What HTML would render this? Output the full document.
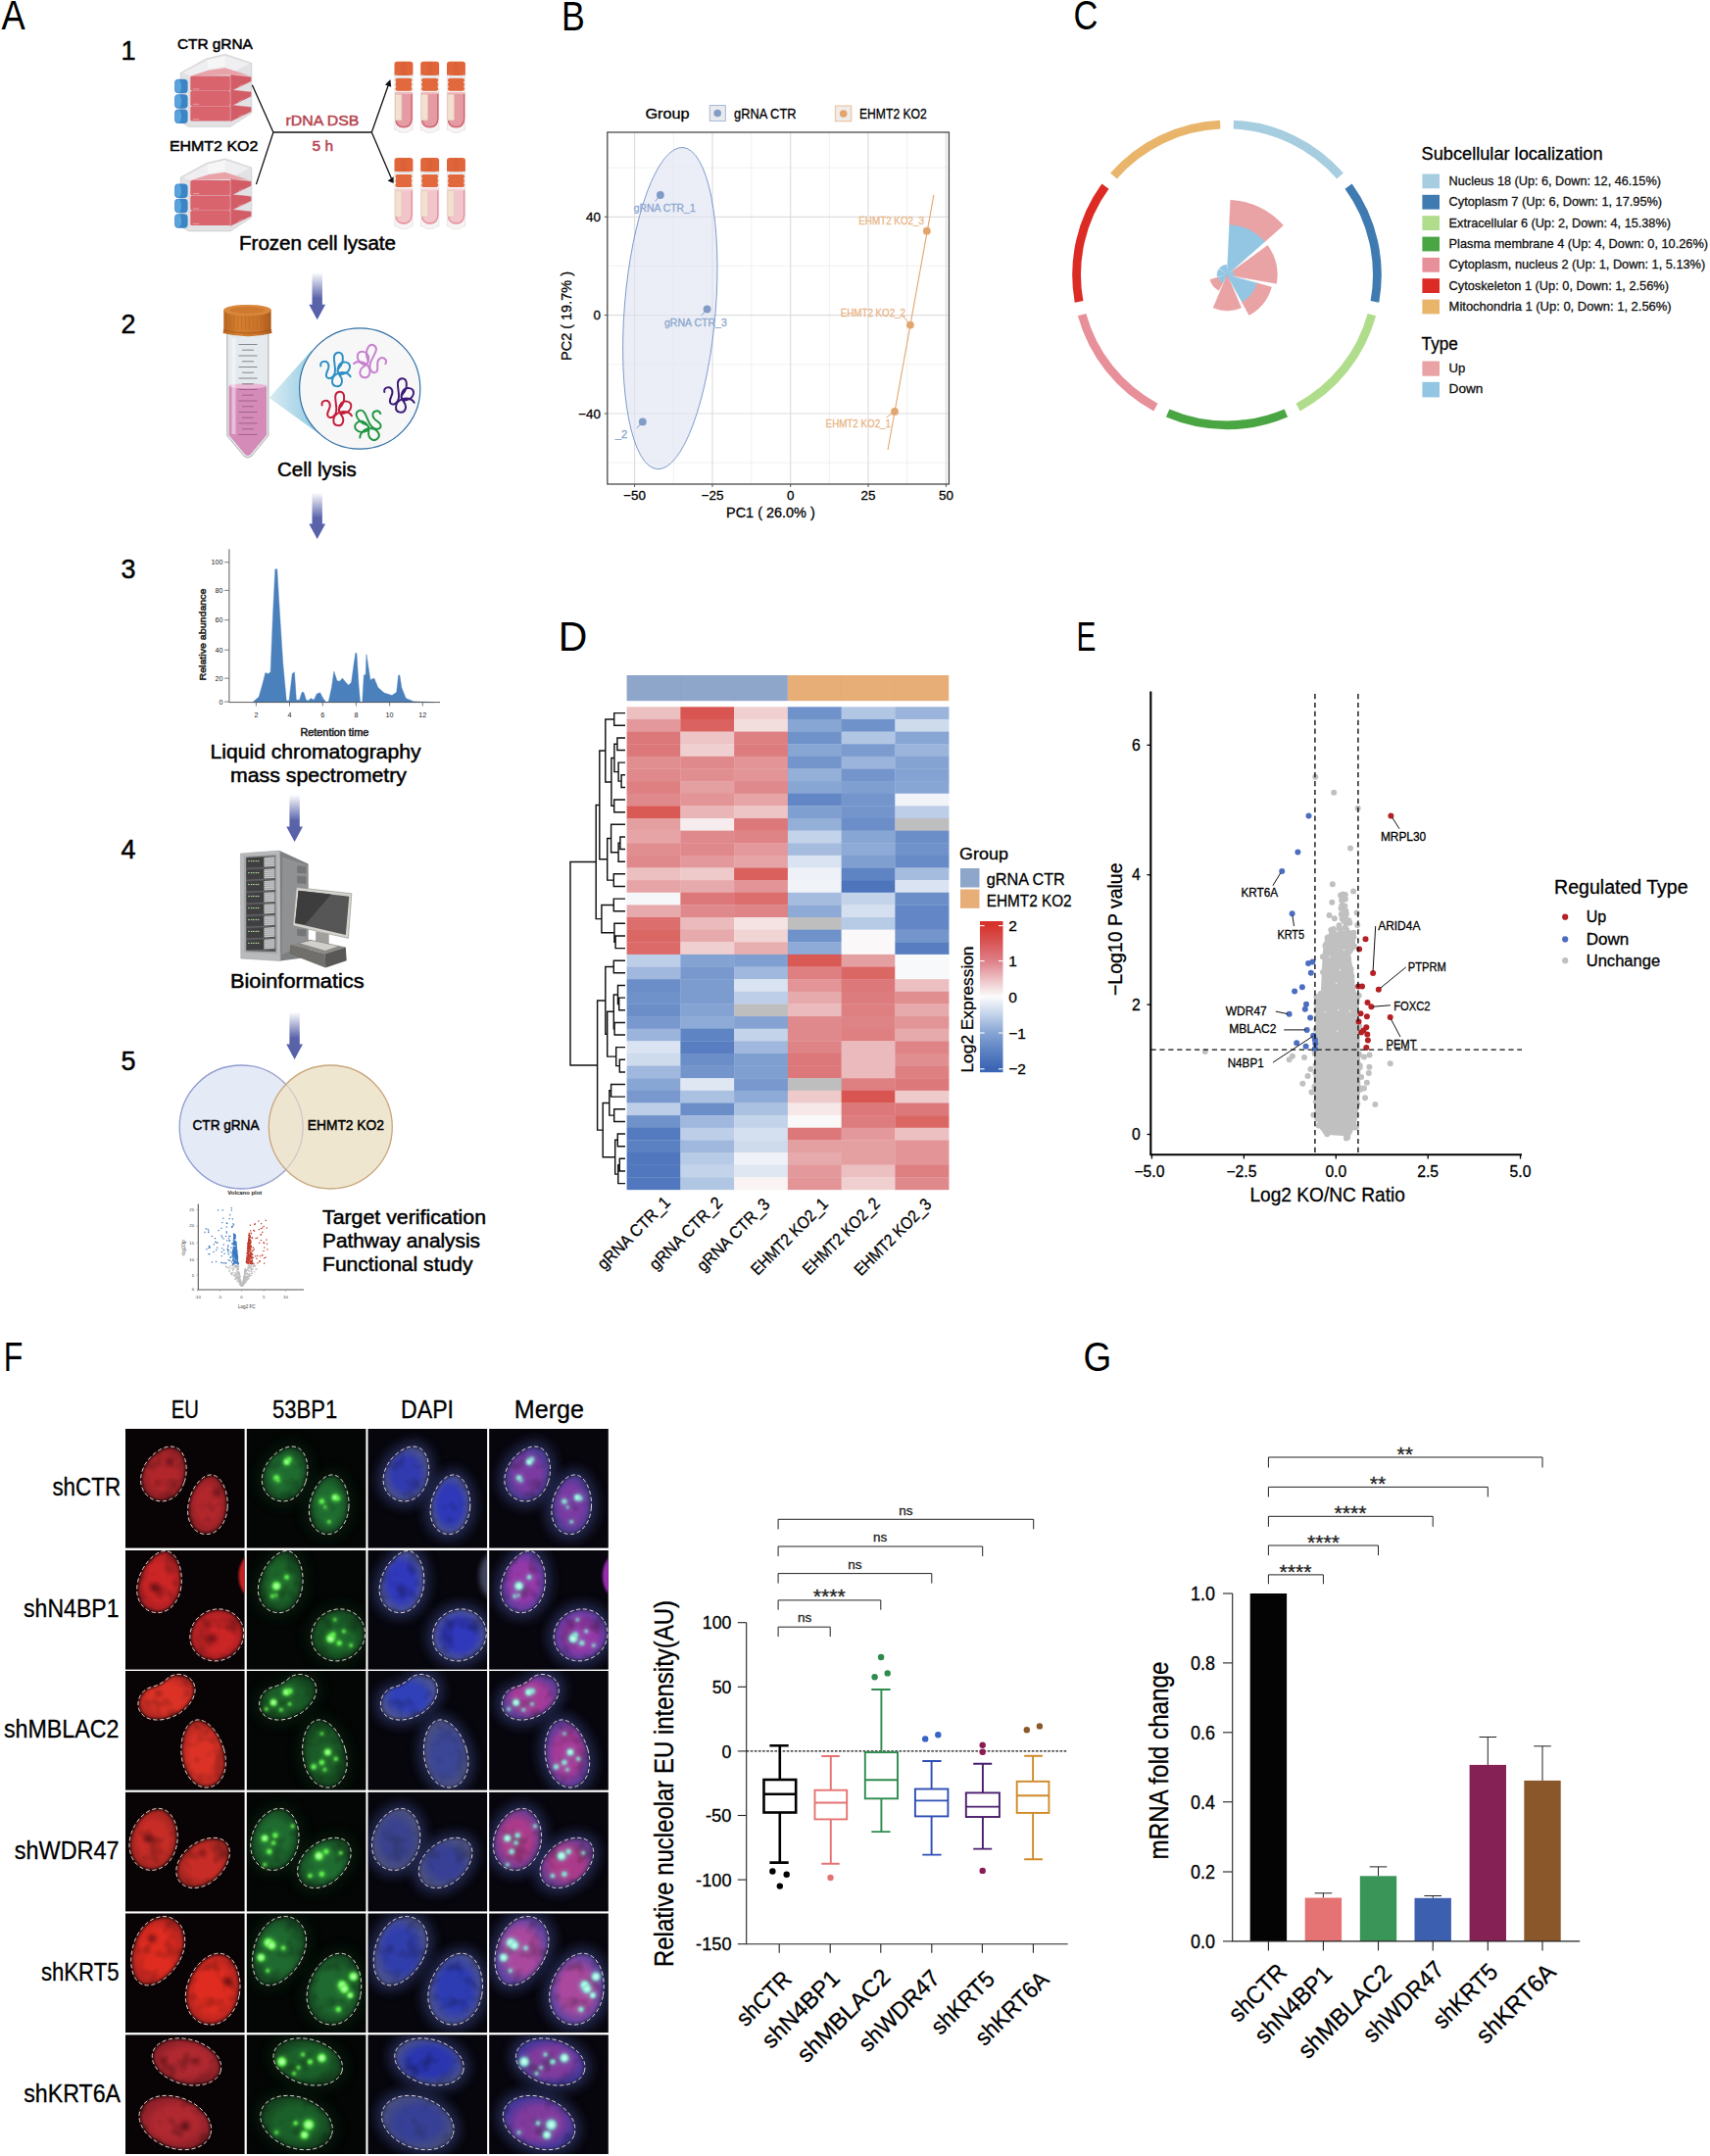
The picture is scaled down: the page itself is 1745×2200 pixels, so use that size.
<!DOCTYPE html>
<html><head><meta charset="utf-8"><title>Figure</title>
<style>
html,body{margin:0;padding:0;background:#fff;}
body{width:1745px;height:2200px;overflow:hidden;}
svg{display:block;font-family:"Liberation Sans", "DejaVu Sans", sans-serif;}
svg text{font-family:"Liberation Sans","DejaVu Sans",sans-serif;}
</style></head><body>
<svg width="1745" height="2200" viewBox="0 0 1745 2200">
<rect width="1745" height="2200" fill="#ffffff"/>
<g id="labels"><text x="1.5" y="30.4" font-size="42" textLength="24.2" lengthAdjust="spacingAndGlyphs" >A</text>
<text x="573.0" y="30.5" font-size="42" textLength="23.8" lengthAdjust="spacingAndGlyphs" >B</text>
<text x="1095.6" y="30.4" font-size="42" textLength="24.9" lengthAdjust="spacingAndGlyphs" >C</text>
<text x="569.7" y="663.6" font-size="42" textLength="29.6" lengthAdjust="spacingAndGlyphs" >D</text>
<text x="1098.4" y="663.6" font-size="42" textLength="19.9" lengthAdjust="spacingAndGlyphs" >E</text>
<text x="3.7" y="1399.1" font-size="42" textLength="19.6" lengthAdjust="spacingAndGlyphs" >F</text>
<text x="1105.5" y="1399.3" font-size="42" textLength="28.7" lengthAdjust="spacingAndGlyphs" >G</text></g>
<g id="panelA"><text x="123.6" y="61.2" font-size="27" textLength="15.0" lengthAdjust="spacingAndGlyphs" stroke="#000" stroke-width="0.5" >1</text>
<text x="123.6" y="339.5" font-size="27" textLength="15.0" lengthAdjust="spacingAndGlyphs" stroke="#000" stroke-width="0.5" >2</text>
<text x="123.6" y="589.5" font-size="27" textLength="15.0" lengthAdjust="spacingAndGlyphs" stroke="#000" stroke-width="0.5" >3</text>
<text x="123.6" y="876.0" font-size="27" textLength="15.0" lengthAdjust="spacingAndGlyphs" stroke="#000" stroke-width="0.5" >4</text>
<text x="123.6" y="1091.5" font-size="27" textLength="15.0" lengthAdjust="spacingAndGlyphs" stroke="#000" stroke-width="0.5" >5</text>
<text x="180.9" y="49.9" font-size="15.5" textLength="77.0" lengthAdjust="spacingAndGlyphs" stroke="#000" stroke-width="0.5" >CTR gRNA</text>
<text x="172.9" y="154.3" font-size="15.5" textLength="90.5" lengthAdjust="spacingAndGlyphs" stroke="#000" stroke-width="0.5" >EHMT2 KO2</text>
<polygon points="184.3,74.4 210.6,59.9 229.7,55.4 256.8,64.4 256.8,115.2 235.1,129.3 192.5,129.3 184.3,124.3" fill="#e2e2e5" stroke="#c0c0c5" stroke-width="0.6" stroke-linejoin="round"/><polygon points="186.5,74.6 211.2,61.4 229.7,57.0 255.0,65.0 235.1,74.8 194.8,77.5" fill="#efeff1" stroke="none" stroke-width="1" /><polygon points="211.5,61.2 229.7,57.0 229.7,67.2 211.9,69.9" fill="#f6f6f7" stroke="none" stroke-width="1" /><polygon points="194.8,77.5 212.4,71.7 229.7,69.2 253.6,76.8 235.1,76.2" fill="#e8a2a8" stroke="none" stroke-width="1" /><rect x="194.3" y="77.5" width="40.8" height="15.2" rx="1.6" fill="#d9646e"/><polygon points="235.1,76.4 256.1,78.6 256.1,82.9 235.1,93.1" fill="#d35d67" stroke="#d35d67" stroke-width="0.5" stroke-linejoin="round"/><line x1="235.1" y1="75.3" x2="235.1" y2="93.5" stroke="#e9b9bd" stroke-width="0.6" /><line x1="197.0" y1="90.9" x2="203.4" y2="90.9" stroke="#efb4b8" stroke-width="0.7" /><line x1="243.2" y1="88.4" x2="247.8" y2="86.2" stroke="#e8a5aa" stroke-width="0.6" /><polygon points="192.5,93.1 235.1,93.5 256.5,83.3 256.5,84.4 235.1,94.9 192.5,94.5" fill="#dedee2" stroke="none" stroke-width="1" /><rect x="194.3" y="92.9" width="40.8" height="15.2" rx="1.6" fill="#d9646e"/><polygon points="235.1,91.8 256.1,94.0 256.1,98.3 235.1,108.5" fill="#d35d67" stroke="#d35d67" stroke-width="0.5" stroke-linejoin="round"/><line x1="235.1" y1="90.7" x2="235.1" y2="108.9" stroke="#e9b9bd" stroke-width="0.6" /><line x1="197.0" y1="106.3" x2="203.4" y2="106.3" stroke="#efb4b8" stroke-width="0.7" /><line x1="243.2" y1="103.8" x2="247.8" y2="101.6" stroke="#e8a5aa" stroke-width="0.6" /><polygon points="192.5,108.5 235.1,108.9 256.5,98.7 256.5,99.8 235.1,110.3 192.5,109.9" fill="#dedee2" stroke="none" stroke-width="1" /><rect x="194.3" y="108.3" width="40.8" height="15.2" rx="1.6" fill="#d9646e"/><polygon points="235.1,107.2 256.1,109.4 256.1,113.8 235.1,123.9" fill="#d35d67" stroke="#d35d67" stroke-width="0.5" stroke-linejoin="round"/><line x1="235.1" y1="106.1" x2="235.1" y2="124.3" stroke="#e9b9bd" stroke-width="0.6" /><line x1="197.0" y1="121.7" x2="203.4" y2="121.7" stroke="#efb4b8" stroke-width="0.7" /><line x1="243.2" y1="119.2" x2="247.8" y2="117.0" stroke="#e8a5aa" stroke-width="0.6" /><rect x="178.2" y="80.8" width="13.4" height="14.5" rx="4" fill="#3b84c6"/><ellipse cx="181.8" cy="88.0" rx="3.3" ry="6.9" fill="#5ba3dd"/><rect x="178.2" y="96.2" width="13.4" height="14.5" rx="4" fill="#3b84c6"/><ellipse cx="181.8" cy="103.4" rx="3.3" ry="6.9" fill="#5ba3dd"/><rect x="178.2" y="111.6" width="13.4" height="14.5" rx="4" fill="#3b84c6"/><ellipse cx="181.8" cy="118.8" rx="3.3" ry="6.9" fill="#5ba3dd"/>
<polygon points="184.3,181.0 210.6,166.5 229.7,162.0 256.8,171.0 256.8,221.8 235.1,235.9 192.5,235.9 184.3,230.9" fill="#e2e2e5" stroke="#c0c0c5" stroke-width="0.6" stroke-linejoin="round"/><polygon points="186.5,181.2 211.2,168.0 229.7,163.6 255.0,171.6 235.1,181.4 194.8,184.1" fill="#efeff1" stroke="none" stroke-width="1" /><polygon points="211.5,167.8 229.7,163.6 229.7,173.8 211.9,176.5" fill="#f6f6f7" stroke="none" stroke-width="1" /><polygon points="194.8,184.1 212.4,178.3 229.7,175.8 253.6,183.4 235.1,182.8" fill="#e8a2a8" stroke="none" stroke-width="1" /><rect x="194.3" y="184.1" width="40.8" height="15.2" rx="1.6" fill="#d9646e"/><polygon points="235.1,183.0 256.1,185.2 256.1,189.5 235.1,199.7" fill="#d35d67" stroke="#d35d67" stroke-width="0.5" stroke-linejoin="round"/><line x1="235.1" y1="181.9" x2="235.1" y2="200.1" stroke="#e9b9bd" stroke-width="0.6" /><line x1="197.0" y1="197.5" x2="203.4" y2="197.5" stroke="#efb4b8" stroke-width="0.7" /><line x1="243.2" y1="195.0" x2="247.8" y2="192.8" stroke="#e8a5aa" stroke-width="0.6" /><polygon points="192.5,199.7 235.1,200.1 256.5,189.9 256.5,191.0 235.1,201.5 192.5,201.1" fill="#dedee2" stroke="none" stroke-width="1" /><rect x="194.3" y="199.5" width="40.8" height="15.2" rx="1.6" fill="#d9646e"/><polygon points="235.1,198.4 256.1,200.6 256.1,204.9 235.1,215.1" fill="#d35d67" stroke="#d35d67" stroke-width="0.5" stroke-linejoin="round"/><line x1="235.1" y1="197.3" x2="235.1" y2="215.5" stroke="#e9b9bd" stroke-width="0.6" /><line x1="197.0" y1="212.9" x2="203.4" y2="212.9" stroke="#efb4b8" stroke-width="0.7" /><line x1="243.2" y1="210.4" x2="247.8" y2="208.2" stroke="#e8a5aa" stroke-width="0.6" /><polygon points="192.5,215.1 235.1,215.5 256.5,205.3 256.5,206.4 235.1,216.9 192.5,216.5" fill="#dedee2" stroke="none" stroke-width="1" /><rect x="194.3" y="214.9" width="40.8" height="15.2" rx="1.6" fill="#d9646e"/><polygon points="235.1,213.8 256.1,216.0 256.1,220.4 235.1,230.5" fill="#d35d67" stroke="#d35d67" stroke-width="0.5" stroke-linejoin="round"/><line x1="235.1" y1="212.7" x2="235.1" y2="230.9" stroke="#e9b9bd" stroke-width="0.6" /><line x1="197.0" y1="228.3" x2="203.4" y2="228.3" stroke="#efb4b8" stroke-width="0.7" /><line x1="243.2" y1="225.8" x2="247.8" y2="223.6" stroke="#e8a5aa" stroke-width="0.6" /><rect x="178.2" y="187.4" width="13.4" height="14.5" rx="4" fill="#3b84c6"/><ellipse cx="181.8" cy="194.6" rx="3.3" ry="6.9" fill="#5ba3dd"/><rect x="178.2" y="202.8" width="13.4" height="14.5" rx="4" fill="#3b84c6"/><ellipse cx="181.8" cy="210.0" rx="3.3" ry="6.9" fill="#5ba3dd"/><rect x="178.2" y="218.2" width="13.4" height="14.5" rx="4" fill="#3b84c6"/><ellipse cx="181.8" cy="225.4" rx="3.3" ry="6.9" fill="#5ba3dd"/>
<path d="M257.4 86.7 L278.9 135 L261.4 188.1 M278.9 135 H379.3" fill="none" stroke="#111" stroke-width="1.3" stroke-linejoin="miter"/>
<path d="M379.3 135 L396.6 86 M379.3 135 L399.4 181.9" fill="none" stroke="#111" stroke-width="1.3" />
<polygon points="398.4,81.0 399.2,88.8 393.0,86.6" fill="#111" stroke="none" stroke-width="1" />
<polygon points="401.6,186.9 395.6,184.6 401.6,180.2" fill="#111" stroke="none" stroke-width="1" />
<text x="291.6" y="128.4" font-size="15.5" fill="#b5444f" textLength="74.8" lengthAdjust="spacingAndGlyphs" stroke="#b5444f" stroke-width="0.5" >rDNA DSB</text>
<text x="318.5" y="154.3" font-size="15.5" fill="#b5444f" textLength="21.5" lengthAdjust="spacingAndGlyphs" stroke="#b5444f" stroke-width="0.5" >5 h</text>
<path d="M402.8 75.7 V132.7 H405.5 Q406.0 135.3 411.9 135.3 Q417.9 135.3 418.4 132.7 H421.1 V75.7 Z" fill="#f7f4f4" stroke="#d9d3d5" stroke-width="0.5"/><line x1="403.0" y1="78.0" x2="420.9" y2="78.0" stroke="#bfdbe6" stroke-width="0.7" /><path d="M403.1 94.5 V120.7 Q403.1 130.5 411.9 130.5 Q420.8 130.5 420.8 120.7 V94.5 Z" fill="#e59ba3"/><path d="M420.1 95.7 V120.7 Q420.1 129.3 411.9 129.7 Q404.5 129.3 404.1 122.7" fill="none" stroke="#cf6270" stroke-width="1.3"/><rect x="403.3" y="94.5" width="17.3" height="1.6" fill="#eeb4ba" /><rect x="403.3" y="96.2" width="6.6" height="26.6" fill="#f3e0d0" stroke="#dcc2a8" stroke-width="0.4" rx="0.6"/><rect x="404.1" y="79.7" width="15.7" height="13.0" fill="#e0683c" rx="1.5"/><rect x="403.4" y="80.0" width="17.1" height="3.3" fill="#e2693d" rx="1.6"/><rect x="403.4" y="84.5" width="17.1" height="3.3" fill="#e2693d" rx="1.6"/><rect x="403.4" y="89.0" width="17.1" height="3.3" fill="#e2693d" rx="1.6"/><path d="M402.5 76.4 V65.2 Q402.5 62.7 405.5 62.7 H418.4 Q421.4 62.7 421.4 65.2 V76.4 Q411.9 77.5 402.5 76.4 Z" fill="#e0653a"/><rect x="409.5" y="63.7" width="5.0" height="12.5" fill="#d85e34" opacity="0.5"/>
<path d="M402.8 174.0 V231.0 H405.5 Q406.0 233.6 411.9 233.6 Q417.9 233.6 418.4 231.0 H421.1 V174.0 Z" fill="#f7f4f4" stroke="#d9d3d5" stroke-width="0.5"/><line x1="403.0" y1="176.3" x2="420.9" y2="176.3" stroke="#bfdbe6" stroke-width="0.7" /><path d="M403.1 192.8 V219.0 Q403.1 228.8 411.9 228.8 Q420.8 228.8 420.8 219.0 V192.8 Z" fill="#f1c5cb"/><path d="M420.1 194.0 V219.0 Q420.1 227.6 411.9 228.0 Q404.5 227.6 404.1 221.0" fill="none" stroke="#e68f9b" stroke-width="1.3"/><rect x="403.3" y="192.8" width="17.3" height="1.6" fill="#f6d6da" /><rect x="403.3" y="194.5" width="6.6" height="26.6" fill="#f3e0d0" stroke="#dcc2a8" stroke-width="0.4" rx="0.6"/><rect x="404.1" y="178.0" width="15.7" height="13.0" fill="#e0683c" rx="1.5"/><rect x="403.4" y="178.3" width="17.1" height="3.3" fill="#e2693d" rx="1.6"/><rect x="403.4" y="182.8" width="17.1" height="3.3" fill="#e2693d" rx="1.6"/><rect x="403.4" y="187.3" width="17.1" height="3.3" fill="#e2693d" rx="1.6"/><path d="M402.5 174.7 V163.5 Q402.5 161.0 405.5 161.0 H418.4 Q421.4 161.0 421.4 163.5 V174.7 Q411.9 175.8 402.5 174.7 Z" fill="#e0653a"/><rect x="409.5" y="162.0" width="5.0" height="12.5" fill="#d85e34" opacity="0.5"/>
<path d="M429.5 75.7 V132.7 H432.2 Q432.7 135.3 438.6 135.3 Q444.6 135.3 445.1 132.7 H447.8 V75.7 Z" fill="#f7f4f4" stroke="#d9d3d5" stroke-width="0.5"/><line x1="429.7" y1="78.0" x2="447.6" y2="78.0" stroke="#bfdbe6" stroke-width="0.7" /><path d="M429.8 94.5 V120.7 Q429.8 130.5 438.6 130.5 Q447.5 130.5 447.5 120.7 V94.5 Z" fill="#e59ba3"/><path d="M446.8 95.7 V120.7 Q446.8 129.3 438.6 129.7 Q431.2 129.3 430.8 122.7" fill="none" stroke="#cf6270" stroke-width="1.3"/><rect x="430.0" y="94.5" width="17.3" height="1.6" fill="#eeb4ba" /><rect x="430.0" y="96.2" width="6.6" height="26.6" fill="#f3e0d0" stroke="#dcc2a8" stroke-width="0.4" rx="0.6"/><rect x="430.8" y="79.7" width="15.7" height="13.0" fill="#e0683c" rx="1.5"/><rect x="430.1" y="80.0" width="17.1" height="3.3" fill="#e2693d" rx="1.6"/><rect x="430.1" y="84.5" width="17.1" height="3.3" fill="#e2693d" rx="1.6"/><rect x="430.1" y="89.0" width="17.1" height="3.3" fill="#e2693d" rx="1.6"/><path d="M429.2 76.4 V65.2 Q429.2 62.7 432.2 62.7 H445.1 Q448.1 62.7 448.1 65.2 V76.4 Q438.6 77.5 429.2 76.4 Z" fill="#e0653a"/><rect x="436.2" y="63.7" width="5.0" height="12.5" fill="#d85e34" opacity="0.5"/>
<path d="M429.5 174.0 V231.0 H432.2 Q432.7 233.6 438.6 233.6 Q444.6 233.6 445.1 231.0 H447.8 V174.0 Z" fill="#f7f4f4" stroke="#d9d3d5" stroke-width="0.5"/><line x1="429.7" y1="176.3" x2="447.6" y2="176.3" stroke="#bfdbe6" stroke-width="0.7" /><path d="M429.8 192.8 V219.0 Q429.8 228.8 438.6 228.8 Q447.5 228.8 447.5 219.0 V192.8 Z" fill="#f1c5cb"/><path d="M446.8 194.0 V219.0 Q446.8 227.6 438.6 228.0 Q431.2 227.6 430.8 221.0" fill="none" stroke="#e68f9b" stroke-width="1.3"/><rect x="430.0" y="192.8" width="17.3" height="1.6" fill="#f6d6da" /><rect x="430.0" y="194.5" width="6.6" height="26.6" fill="#f3e0d0" stroke="#dcc2a8" stroke-width="0.4" rx="0.6"/><rect x="430.8" y="178.0" width="15.7" height="13.0" fill="#e0683c" rx="1.5"/><rect x="430.1" y="178.3" width="17.1" height="3.3" fill="#e2693d" rx="1.6"/><rect x="430.1" y="182.8" width="17.1" height="3.3" fill="#e2693d" rx="1.6"/><rect x="430.1" y="187.3" width="17.1" height="3.3" fill="#e2693d" rx="1.6"/><path d="M429.2 174.7 V163.5 Q429.2 161.0 432.2 161.0 H445.1 Q448.1 161.0 448.1 163.5 V174.7 Q438.6 175.8 429.2 174.7 Z" fill="#e0653a"/><rect x="436.2" y="162.0" width="5.0" height="12.5" fill="#d85e34" opacity="0.5"/>
<path d="M456.3 75.7 V132.7 H459.0 Q459.5 135.3 465.4 135.3 Q471.4 135.3 471.9 132.7 H474.6 V75.7 Z" fill="#f7f4f4" stroke="#d9d3d5" stroke-width="0.5"/><line x1="456.5" y1="78.0" x2="474.4" y2="78.0" stroke="#bfdbe6" stroke-width="0.7" /><path d="M456.6 94.5 V120.7 Q456.6 130.5 465.4 130.5 Q474.3 130.5 474.3 120.7 V94.5 Z" fill="#e59ba3"/><path d="M473.6 95.7 V120.7 Q473.6 129.3 465.4 129.7 Q458.0 129.3 457.6 122.7" fill="none" stroke="#cf6270" stroke-width="1.3"/><rect x="456.8" y="94.5" width="17.3" height="1.6" fill="#eeb4ba" /><rect x="456.8" y="96.2" width="6.6" height="26.6" fill="#f3e0d0" stroke="#dcc2a8" stroke-width="0.4" rx="0.6"/><rect x="457.6" y="79.7" width="15.7" height="13.0" fill="#e0683c" rx="1.5"/><rect x="456.9" y="80.0" width="17.1" height="3.3" fill="#e2693d" rx="1.6"/><rect x="456.9" y="84.5" width="17.1" height="3.3" fill="#e2693d" rx="1.6"/><rect x="456.9" y="89.0" width="17.1" height="3.3" fill="#e2693d" rx="1.6"/><path d="M456.0 76.4 V65.2 Q456.0 62.7 459.0 62.7 H471.9 Q474.9 62.7 474.9 65.2 V76.4 Q465.4 77.5 456.0 76.4 Z" fill="#e0653a"/><rect x="463.0" y="63.7" width="5.0" height="12.5" fill="#d85e34" opacity="0.5"/>
<path d="M456.3 174.0 V231.0 H459.0 Q459.5 233.6 465.4 233.6 Q471.4 233.6 471.9 231.0 H474.6 V174.0 Z" fill="#f7f4f4" stroke="#d9d3d5" stroke-width="0.5"/><line x1="456.5" y1="176.3" x2="474.4" y2="176.3" stroke="#bfdbe6" stroke-width="0.7" /><path d="M456.6 192.8 V219.0 Q456.6 228.8 465.4 228.8 Q474.3 228.8 474.3 219.0 V192.8 Z" fill="#f1c5cb"/><path d="M473.6 194.0 V219.0 Q473.6 227.6 465.4 228.0 Q458.0 227.6 457.6 221.0" fill="none" stroke="#e68f9b" stroke-width="1.3"/><rect x="456.8" y="192.8" width="17.3" height="1.6" fill="#f6d6da" /><rect x="456.8" y="194.5" width="6.6" height="26.6" fill="#f3e0d0" stroke="#dcc2a8" stroke-width="0.4" rx="0.6"/><rect x="457.6" y="178.0" width="15.7" height="13.0" fill="#e0683c" rx="1.5"/><rect x="456.9" y="178.3" width="17.1" height="3.3" fill="#e2693d" rx="1.6"/><rect x="456.9" y="182.8" width="17.1" height="3.3" fill="#e2693d" rx="1.6"/><rect x="456.9" y="187.3" width="17.1" height="3.3" fill="#e2693d" rx="1.6"/><path d="M456.0 174.7 V163.5 Q456.0 161.0 459.0 161.0 H471.9 Q474.9 161.0 474.9 163.5 V174.7 Q465.4 175.8 456.0 174.7 Z" fill="#e0653a"/><rect x="463.0" y="162.0" width="5.0" height="12.5" fill="#d85e34" opacity="0.5"/>
<text x="244.0" y="254.7" font-size="20" textLength="160.0" lengthAdjust="spacingAndGlyphs" stroke="#000" stroke-width="0.5" >Frozen cell lysate</text>
<defs><linearGradient id="ag323278" x1="0" y1="0" x2="0" y2="1"><stop offset="0" stop-color="#ffffff"/><stop offset="0.55" stop-color="#5a64aa"/><stop offset="1" stop-color="#5560a8"/></linearGradient></defs><path d="M318.5 278.0 H328.9 V310.8 H332.1 L323.7 326.3 L315.3 310.8 H318.5 Z" fill="url(#ag323278)"/>
<defs><linearGradient id="capg" x1="0" y1="0" x2="1" y2="0"><stop offset="0" stop-color="#b8631f"/><stop offset="0.3" stop-color="#d4802f"/><stop offset="0.75" stop-color="#c9722a"/><stop offset="1" stop-color="#a8581a"/></linearGradient><linearGradient id="coneg" x1="0" y1="0" x2="1" y2="0"><stop offset="0" stop-color="#d8ecf4"/><stop offset="1" stop-color="#8fc8e0"/></linearGradient></defs>
<path d="M231.8 340 V444.6 L249 465.5 Q252.8 468.5 256.6 465.5 L273.9 444.6 V340 Z" fill="#e4eaed" stroke="#9b9b9b" stroke-width="0.8" />
<path d="M233.6 394 V444 L250 463.8 Q252.8 466 255.6 463.8 L272.1 444 V394 Z" fill="#d58bb8" stroke="none" stroke-width="1" />
<ellipse cx="252.8" cy="393.8" rx="19.2" ry="2.6" fill="#e9b8d4"/>
<rect x="236.5" y="345.0" width="4.0" height="98.0" fill="#ffffff" opacity="0.45"/>
<line x1="243.5" y1="351.5" x2="262.5" y2="351.5" stroke="#5d5d66" stroke-width="0.7" />
<line x1="247.0" y1="357.2" x2="259.0" y2="357.2" stroke="#5d5d66" stroke-width="0.7" />
<line x1="243.5" y1="363.0" x2="262.5" y2="363.0" stroke="#5d5d66" stroke-width="0.7" />
<line x1="247.0" y1="368.8" x2="259.0" y2="368.8" stroke="#5d5d66" stroke-width="0.7" />
<line x1="243.5" y1="374.5" x2="262.5" y2="374.5" stroke="#5d5d66" stroke-width="0.7" />
<line x1="247.0" y1="380.2" x2="259.0" y2="380.2" stroke="#5d5d66" stroke-width="0.7" />
<line x1="243.5" y1="386.0" x2="262.5" y2="386.0" stroke="#5d5d66" stroke-width="0.7" />
<line x1="247.0" y1="391.8" x2="259.0" y2="391.8" stroke="#5d5d66" stroke-width="0.7" />
<line x1="243.5" y1="397.5" x2="262.5" y2="397.5" stroke="#8a4f78" stroke-width="0.7" />
<line x1="247.0" y1="403.2" x2="259.0" y2="403.2" stroke="#8a4f78" stroke-width="0.7" />
<line x1="243.5" y1="409.0" x2="262.5" y2="409.0" stroke="#8a4f78" stroke-width="0.7" />
<line x1="247.0" y1="414.8" x2="259.0" y2="414.8" stroke="#8a4f78" stroke-width="0.7" />
<line x1="243.5" y1="420.5" x2="262.5" y2="420.5" stroke="#8a4f78" stroke-width="0.7" />
<line x1="247.0" y1="426.2" x2="259.0" y2="426.2" stroke="#8a4f78" stroke-width="0.7" />
<line x1="243.5" y1="432.0" x2="262.5" y2="432.0" stroke="#8a4f78" stroke-width="0.7" />
<line x1="247.0" y1="437.8" x2="259.0" y2="437.8" stroke="#8a4f78" stroke-width="0.7" />
<line x1="243.5" y1="443.5" x2="262.5" y2="443.5" stroke="#8a4f78" stroke-width="0.7" />
<path d="M228.3 316 Q252.5 307 276.6 316 V337 Q277.6 338 277.3 340 Q252.5 346.5 227.7 340 Q227.4 338 228.3 337 Z" fill="url(#capg)" stroke="none" stroke-width="1" />
<ellipse cx="252.5" cy="316.5" rx="24.1" ry="5.6" fill="#d9883c"/>
<ellipse cx="252.5" cy="316.5" rx="18" ry="3.6" fill="#cf7a30"/>
<path d="M227.7 336.5 Q252.5 343.5 277.3 336.5" fill="none" stroke="#9c5218" stroke-width="0.7" />
<line x1="231.0" y1="322.5" x2="231.0" y2="336.0" stroke="#b3651f" stroke-width="0.5" />
<line x1="234.9" y1="322.5" x2="234.9" y2="336.0" stroke="#b3651f" stroke-width="0.5" />
<line x1="238.8" y1="322.5" x2="238.8" y2="336.0" stroke="#b3651f" stroke-width="0.5" />
<line x1="242.7" y1="322.5" x2="242.7" y2="336.0" stroke="#b3651f" stroke-width="0.5" />
<line x1="246.6" y1="322.5" x2="246.6" y2="336.0" stroke="#b3651f" stroke-width="0.5" />
<line x1="250.5" y1="322.5" x2="250.5" y2="336.0" stroke="#b3651f" stroke-width="0.5" />
<line x1="254.4" y1="322.5" x2="254.4" y2="336.0" stroke="#b3651f" stroke-width="0.5" />
<line x1="258.3" y1="322.5" x2="258.3" y2="336.0" stroke="#b3651f" stroke-width="0.5" />
<line x1="262.2" y1="322.5" x2="262.2" y2="336.0" stroke="#b3651f" stroke-width="0.5" />
<line x1="266.1" y1="322.5" x2="266.1" y2="336.0" stroke="#b3651f" stroke-width="0.5" />
<line x1="270.0" y1="322.5" x2="270.0" y2="336.0" stroke="#b3651f" stroke-width="0.5" />
<line x1="273.9" y1="322.5" x2="273.9" y2="336.0" stroke="#b3651f" stroke-width="0.5" />
<path d="M274.8 406 L318 357.5 L326 443 Z" fill="url(#coneg)" stroke="none" stroke-width="1" />
<circle cx="367.2" cy="396.5" r="61.6" fill="#f7f7f8" stroke="#2e6ea5" stroke-width="1.2"/>
<path d="M-15,-3 c-1,-5 6,-7 8,-2 c2,5 -4,9 -2,13 c2,4 9,1 9,-7 c0,-8 -4,-17 3,-18 c7,-1 6,11 1,16 c-3,3 -1,8 5,6 c7,-2 9,-11 2,-12 c-7,-1 -11,8 -6,14 c4,5 2,12 -4,11 c-6,-1 -5,-10 1,-13 c5,-3 12,-1 14,3" transform="translate(342.0 376.5) rotate(0) scale(0.98 0.98)" fill="none" stroke="#2e8fc4" stroke-width="2.0" stroke-linecap="round" stroke-linejoin="round"/>
<path d="M-15,-3 c-1,-5 6,-7 8,-2 c2,5 -4,9 -2,13 c2,4 9,1 9,-7 c0,-8 -4,-17 3,-18 c7,-1 6,11 1,16 c-3,3 -1,8 5,6 c7,-2 9,-11 2,-12 c-7,-1 -11,8 -6,14 c4,5 2,12 -4,11 c-6,-1 -5,-10 1,-13 c5,-3 12,-1 14,3" transform="translate(378.5 369.0) rotate(20) scale(-0.98 0.98)" fill="none" stroke="#c77fcf" stroke-width="2.0" stroke-linecap="round" stroke-linejoin="round"/>
<path d="M-15,-3 c-1,-5 6,-7 8,-2 c2,5 -4,9 -2,13 c2,4 9,1 9,-7 c0,-8 -4,-17 3,-18 c7,-1 6,11 1,16 c-3,3 -1,8 5,6 c7,-2 9,-11 2,-12 c-7,-1 -11,8 -6,14 c4,5 2,12 -4,11 c-6,-1 -5,-10 1,-13 c5,-3 12,-1 14,3" transform="translate(407.0 403.0) rotate(0) scale(0.98 0.98)" fill="none" stroke="#3d1a78" stroke-width="2.0" stroke-linecap="round" stroke-linejoin="round"/>
<path d="M-15,-3 c-1,-5 6,-7 8,-2 c2,5 -4,9 -2,13 c2,4 9,1 9,-7 c0,-8 -4,-17 3,-18 c7,-1 6,11 1,16 c-3,3 -1,8 5,6 c7,-2 9,-11 2,-12 c-7,-1 -11,8 -6,14 c4,5 2,12 -4,11 c-6,-1 -5,-10 1,-13 c5,-3 12,-1 14,3" transform="translate(343.3 416.5) rotate(0) scale(0.98 0.98)" fill="none" stroke="#c41e3a" stroke-width="2.0" stroke-linecap="round" stroke-linejoin="round"/>
<path d="M-15,-3 c-1,-5 6,-7 8,-2 c2,5 -4,9 -2,13 c2,4 9,1 9,-7 c0,-8 -4,-17 3,-18 c7,-1 6,11 1,16 c-3,3 -1,8 5,6 c7,-2 9,-11 2,-12 c-7,-1 -11,8 -6,14 c4,5 2,12 -4,11 c-6,-1 -5,-10 1,-13 c5,-3 12,-1 14,3" transform="translate(377.0 432.0) rotate(-30) scale(-0.98 0.98)" fill="none" stroke="#1f9640" stroke-width="2.0" stroke-linecap="round" stroke-linejoin="round"/>
<text x="283.0" y="486.0" font-size="20" textLength="80.7" lengthAdjust="spacingAndGlyphs" stroke="#000" stroke-width="0.5" >Cell lysis</text>
<defs><linearGradient id="ag323502" x1="0" y1="0" x2="0" y2="1"><stop offset="0" stop-color="#ffffff"/><stop offset="0.55" stop-color="#5a64aa"/><stop offset="1" stop-color="#5560a8"/></linearGradient></defs><path d="M318.5 502.6 H328.9 V534.5 H332.1 L323.7 550.0 L315.3 534.5 H318.5 Z" fill="url(#ag323502)"/>
<polygon points="257.9,716.6 264.2,711.1 268.2,696.8 270.8,686.6 273.7,687.4 276.1,685.8 278.4,628.9 280.8,580.8 282.8,580.8 284.7,613.2 288.7,676.3 292.3,715.0 295.0,715.0 298.2,687.4 300.5,685.8 302.4,714.2 305.6,714.2 308.1,706.3 310.0,706.6 312.4,714.2 314.7,715.0 317.1,712.6 320.3,714.2 323.4,707.9 326.6,706.8 329.7,712.6 332.9,716.6 335.3,715.8 338.4,701.6 340.8,685.0 343.9,694.5 346.3,695.3 349.5,692.1 352.6,696.1 355.8,699.2 358.6,696.1 361.3,676.3 362.9,666.1 364.0,666.8 366.1,700.0 367.6,716.6 369.7,716.6 371.3,688.9 373.2,688.2 373.9,667.6 376.0,681.1 377.9,693.7 381.8,692.1 385.8,701.6 392.1,707.1 400.0,709.5 404.7,706.3 406.6,688.9 407.9,688.9 409.8,701.6 414.2,712.6 422.1,715.8 442.6,716.6" fill="#4a80bb" stroke="#4a80bb" stroke-width="0.4" stroke-linejoin="round"/>
<path d="M233.9 560.3 V716.6 H449" fill="none" stroke="#4a4a4a" stroke-width="0.9" />
<line x1="229.0" y1="573.7" x2="233.9" y2="573.7" stroke="#4a4a4a" stroke-width="0.7" />
<text x="227.6" y="576.2" font-size="7.2" text-anchor="end" fill="#222" >100</text>
<line x1="229.0" y1="602.4" x2="233.9" y2="602.4" stroke="#4a4a4a" stroke-width="0.7" />
<text x="227.6" y="604.9" font-size="7.2" text-anchor="end" fill="#222" >80</text>
<line x1="229.0" y1="632.7" x2="233.9" y2="632.7" stroke="#4a4a4a" stroke-width="0.7" />
<text x="227.6" y="635.2" font-size="7.2" text-anchor="end" fill="#222" >60</text>
<line x1="229.0" y1="663.2" x2="233.9" y2="663.2" stroke="#4a4a4a" stroke-width="0.7" />
<text x="227.6" y="665.7" font-size="7.2" text-anchor="end" fill="#222" >40</text>
<line x1="229.0" y1="692.1" x2="233.9" y2="692.1" stroke="#4a4a4a" stroke-width="0.7" />
<text x="227.6" y="694.6" font-size="7.2" text-anchor="end" fill="#222" >20</text>
<line x1="229.0" y1="716.1" x2="233.9" y2="716.1" stroke="#4a4a4a" stroke-width="0.7" />
<text x="227.6" y="718.6" font-size="7.2" text-anchor="end" fill="#222" >0</text>
<line x1="261.4" y1="716.6" x2="261.4" y2="720.5" stroke="#4a4a4a" stroke-width="0.7" />
<text x="261.4" y="732.0" font-size="7.2" text-anchor="middle" fill="#222" >2</text>
<line x1="295.5" y1="716.6" x2="295.5" y2="720.5" stroke="#4a4a4a" stroke-width="0.7" />
<text x="295.5" y="732.0" font-size="7.2" text-anchor="middle" fill="#222" >4</text>
<line x1="329.3" y1="716.6" x2="329.3" y2="720.5" stroke="#4a4a4a" stroke-width="0.7" />
<text x="329.3" y="732.0" font-size="7.2" text-anchor="middle" fill="#222" >6</text>
<line x1="363.4" y1="716.6" x2="363.4" y2="720.5" stroke="#4a4a4a" stroke-width="0.7" />
<text x="363.4" y="732.0" font-size="7.2" text-anchor="middle" fill="#222" >8</text>
<line x1="397.6" y1="716.6" x2="397.6" y2="720.5" stroke="#4a4a4a" stroke-width="0.7" />
<text x="397.6" y="732.0" font-size="7.2" text-anchor="middle" fill="#222" >10</text>
<line x1="431.3" y1="716.6" x2="431.3" y2="720.5" stroke="#4a4a4a" stroke-width="0.7" />
<text x="431.3" y="732.0" font-size="7.2" text-anchor="middle" fill="#222" >12</text>
<text x="209.8" y="694.5" font-size="9.3" fill="#222" textLength="94.0" lengthAdjust="spacingAndGlyphs" transform="rotate(-90 209.8 694.5)" stroke="#222" stroke-width="0.5" >Relative abundance</text>
<text x="306.5" y="751.3" font-size="10" fill="#222" textLength="69.8" lengthAdjust="spacingAndGlyphs" stroke="#222" stroke-width="0.5" >Retention time</text>
<text x="214.5" y="774.0" font-size="20.5" textLength="215.0" lengthAdjust="spacingAndGlyphs" stroke="#000" stroke-width="0.5" >Liquid chromatography</text>
<text x="235.0" y="797.7" font-size="20.5" textLength="180.0" lengthAdjust="spacingAndGlyphs" stroke="#000" stroke-width="0.5" >mass spectrometry</text>
<defs><linearGradient id="ag300811" x1="0" y1="0" x2="0" y2="1"><stop offset="0" stop-color="#ffffff"/><stop offset="0.55" stop-color="#5a64aa"/><stop offset="1" stop-color="#5560a8"/></linearGradient></defs><path d="M295.4 811.0 H305.8 V843.5 H309.0 L300.6 859.0 L292.2 843.5 H295.4 Z" fill="url(#ag300811)"/>
<polygon points="285.3,868.1 314.6,881.5 314.6,976.7 286.1,980.6" fill="#7d7f80" stroke="none" stroke-width="0.5" />
<polygon points="288.3,874.5 314.0,883.0 314.0,963.5 287.5,974.0" fill="#8f9192" stroke="none" stroke-width="0.5" />
<polygon points="303.2,883.2 312.5,884.1 312.5,891.6 303.2,890.7" fill="#747677" stroke="none" stroke-width="0.5" />
<polygon points="303.2,893.8 312.5,894.6 312.5,902.1 303.2,901.2" fill="#747677" stroke="none" stroke-width="0.5" />
<polygon points="303.2,947.7 312.5,948.6 312.5,955.6 303.2,954.7" fill="#747677" stroke="none" stroke-width="0.5" />
<polygon points="245.4,871.0 285.3,868.1 286.1,980.6 245.8,978.0" fill="#b9babc" stroke="#9a9b9d" stroke-width="0.5" />
<polygon points="248.9,873.6 282.6,871.4 283.1,973.2 249.3,971.8" fill="#a5a6a8" stroke="none" stroke-width="0.5" />
<polygon points="251.1,874.9 280.9,873.2 281.3,971.0 251.3,970.1" fill="#4c4c4e" stroke="none" stroke-width="0.5" />
<polygon points="251.9,875.8 268.6,874.9 268.6,884.6 251.9,885.2" fill="#3f3f41" stroke="none" stroke-width="0.5" />
<polygon points="269.5,874.9 280.4,874.3 280.4,883.9 269.5,884.6" fill="#c9cacc" stroke="none" stroke-width="0.5" />
<line x1="269.9" y1="876.4" x2="280.2" y2="875.9" stroke="#77787a" stroke-width="0.5" />
<line x1="269.9" y1="878.5" x2="280.2" y2="878.0" stroke="#77787a" stroke-width="0.5" />
<line x1="269.9" y1="880.6" x2="280.2" y2="880.1" stroke="#77787a" stroke-width="0.5" />
<line x1="269.9" y1="882.7" x2="280.2" y2="882.2" stroke="#77787a" stroke-width="0.5" />
<rect x="253.2" y="878.0" width="1.4" height="1.2" fill="#b5e0a0" />
<rect x="255.9" y="878.0" width="1.4" height="1.2" fill="#b5e0a0" />
<rect x="258.1" y="878.0" width="1.4" height="1.2" fill="#b5e0a0" />
<rect x="260.7" y="878.0" width="1.4" height="1.2" fill="#b5e0a0" />
<rect x="262.9" y="878.0" width="1.4" height="1.2" fill="#b5e0a0" />
<line x1="251.3" y1="886.3" x2="281.1" y2="885.2" stroke="#77787a" stroke-width="0.6" />
<polygon points="251.9,887.8 268.6,886.9 268.6,896.5 251.9,897.1" fill="#3f3f41" stroke="none" stroke-width="0.5" />
<polygon points="269.5,886.9 280.4,886.3 280.4,895.9 269.5,896.5" fill="#c9cacc" stroke="none" stroke-width="0.5" />
<line x1="269.9" y1="888.4" x2="280.2" y2="887.9" stroke="#77787a" stroke-width="0.5" />
<line x1="269.9" y1="890.5" x2="280.2" y2="890.0" stroke="#77787a" stroke-width="0.5" />
<line x1="269.9" y1="892.6" x2="280.2" y2="892.1" stroke="#77787a" stroke-width="0.5" />
<line x1="269.9" y1="894.7" x2="280.2" y2="894.2" stroke="#77787a" stroke-width="0.5" />
<rect x="253.2" y="890.0" width="1.4" height="1.2" fill="#b5e0a0" />
<rect x="255.9" y="890.0" width="1.4" height="1.2" fill="#b5e0a0" />
<rect x="258.1" y="890.0" width="1.4" height="1.2" fill="#b5e0a0" />
<rect x="260.7" y="890.0" width="1.4" height="1.2" fill="#b5e0a0" />
<rect x="262.9" y="890.0" width="1.4" height="1.2" fill="#b5e0a0" />
<line x1="251.3" y1="898.3" x2="281.1" y2="897.1" stroke="#77787a" stroke-width="0.6" />
<polygon points="251.9,899.7 268.6,898.9 268.6,908.5 251.9,909.1" fill="#3f3f41" stroke="none" stroke-width="0.5" />
<polygon points="269.5,898.9 280.4,898.2 280.4,907.9 269.5,908.5" fill="#c9cacc" stroke="none" stroke-width="0.5" />
<line x1="269.9" y1="900.4" x2="280.2" y2="899.8" stroke="#77787a" stroke-width="0.5" />
<line x1="269.9" y1="902.5" x2="280.2" y2="901.9" stroke="#77787a" stroke-width="0.5" />
<line x1="269.9" y1="904.6" x2="280.2" y2="904.0" stroke="#77787a" stroke-width="0.5" />
<line x1="269.9" y1="906.7" x2="280.2" y2="906.1" stroke="#77787a" stroke-width="0.5" />
<rect x="253.2" y="901.9" width="1.4" height="1.2" fill="#b5e0a0" />
<rect x="255.9" y="901.9" width="1.4" height="1.2" fill="#b5e0a0" />
<rect x="258.1" y="901.9" width="1.4" height="1.2" fill="#b5e0a0" />
<rect x="260.7" y="901.9" width="1.4" height="1.2" fill="#b5e0a0" />
<rect x="262.9" y="901.9" width="1.4" height="1.2" fill="#b5e0a0" />
<line x1="251.3" y1="910.3" x2="281.1" y2="909.1" stroke="#77787a" stroke-width="0.6" />
<polygon points="251.9,911.7 268.6,910.8 268.6,920.5 251.9,921.1" fill="#3f3f41" stroke="none" stroke-width="0.5" />
<polygon points="269.5,910.8 280.4,910.2 280.4,919.9 269.5,920.5" fill="#c9cacc" stroke="none" stroke-width="0.5" />
<line x1="269.9" y1="912.3" x2="280.2" y2="911.8" stroke="#77787a" stroke-width="0.5" />
<line x1="269.9" y1="914.4" x2="280.2" y2="913.9" stroke="#77787a" stroke-width="0.5" />
<line x1="269.9" y1="916.5" x2="280.2" y2="916.0" stroke="#77787a" stroke-width="0.5" />
<line x1="269.9" y1="918.6" x2="280.2" y2="918.1" stroke="#77787a" stroke-width="0.5" />
<rect x="253.2" y="913.9" width="1.4" height="1.2" fill="#b5e0a0" />
<rect x="255.9" y="913.9" width="1.4" height="1.2" fill="#b5e0a0" />
<rect x="258.1" y="913.9" width="1.4" height="1.2" fill="#b5e0a0" />
<rect x="260.7" y="913.9" width="1.4" height="1.2" fill="#b5e0a0" />
<rect x="262.9" y="913.9" width="1.4" height="1.2" fill="#b5e0a0" />
<line x1="251.3" y1="922.2" x2="281.1" y2="921.1" stroke="#77787a" stroke-width="0.6" />
<polygon points="251.9,923.7 268.6,922.8 268.6,932.5 251.9,933.1" fill="#3f3f41" stroke="none" stroke-width="0.5" />
<polygon points="269.5,922.8 280.4,922.2 280.4,931.8 269.5,932.5" fill="#c9cacc" stroke="none" stroke-width="0.5" />
<line x1="269.9" y1="924.3" x2="280.2" y2="923.8" stroke="#77787a" stroke-width="0.5" />
<line x1="269.9" y1="926.4" x2="280.2" y2="925.9" stroke="#77787a" stroke-width="0.5" />
<line x1="269.9" y1="928.5" x2="280.2" y2="928.0" stroke="#77787a" stroke-width="0.5" />
<line x1="269.9" y1="930.6" x2="280.2" y2="930.1" stroke="#77787a" stroke-width="0.5" />
<rect x="253.2" y="925.9" width="1.4" height="1.2" fill="#b5e0a0" />
<rect x="255.9" y="925.9" width="1.4" height="1.2" fill="#b5e0a0" />
<rect x="258.1" y="925.9" width="1.4" height="1.2" fill="#b5e0a0" />
<rect x="260.7" y="925.9" width="1.4" height="1.2" fill="#b5e0a0" />
<rect x="262.9" y="925.9" width="1.4" height="1.2" fill="#b5e0a0" />
<line x1="251.3" y1="934.2" x2="281.1" y2="933.1" stroke="#77787a" stroke-width="0.6" />
<polygon points="251.9,935.7 268.6,934.8 268.6,944.4 251.9,945.0" fill="#3f3f41" stroke="none" stroke-width="0.5" />
<polygon points="269.5,934.8 280.4,934.2 280.4,943.8 269.5,944.4" fill="#c9cacc" stroke="none" stroke-width="0.5" />
<line x1="269.9" y1="936.3" x2="280.2" y2="935.7" stroke="#77787a" stroke-width="0.5" />
<line x1="269.9" y1="938.4" x2="280.2" y2="937.9" stroke="#77787a" stroke-width="0.5" />
<line x1="269.9" y1="940.5" x2="280.2" y2="940.0" stroke="#77787a" stroke-width="0.5" />
<line x1="269.9" y1="942.6" x2="280.2" y2="942.1" stroke="#77787a" stroke-width="0.5" />
<rect x="253.2" y="937.9" width="1.4" height="1.2" fill="#b5e0a0" />
<rect x="255.9" y="937.9" width="1.4" height="1.2" fill="#b5e0a0" />
<rect x="258.1" y="937.9" width="1.4" height="1.2" fill="#b5e0a0" />
<rect x="260.7" y="937.9" width="1.4" height="1.2" fill="#b5e0a0" />
<rect x="262.9" y="937.9" width="1.4" height="1.2" fill="#b5e0a0" />
<line x1="251.3" y1="946.2" x2="281.1" y2="945.0" stroke="#77787a" stroke-width="0.6" />
<polygon points="251.9,947.6 268.6,946.8 268.6,956.4 251.9,957.0" fill="#3f3f41" stroke="none" stroke-width="0.5" />
<polygon points="269.5,946.8 280.4,946.1 280.4,955.8 269.5,956.4" fill="#c9cacc" stroke="none" stroke-width="0.5" />
<line x1="269.9" y1="948.2" x2="280.2" y2="947.7" stroke="#77787a" stroke-width="0.5" />
<line x1="269.9" y1="950.4" x2="280.2" y2="949.8" stroke="#77787a" stroke-width="0.5" />
<line x1="269.9" y1="952.5" x2="280.2" y2="951.9" stroke="#77787a" stroke-width="0.5" />
<line x1="269.9" y1="954.6" x2="280.2" y2="954.0" stroke="#77787a" stroke-width="0.5" />
<rect x="253.2" y="949.8" width="1.4" height="1.2" fill="#b5e0a0" />
<rect x="255.9" y="949.8" width="1.4" height="1.2" fill="#b5e0a0" />
<rect x="258.1" y="949.8" width="1.4" height="1.2" fill="#b5e0a0" />
<rect x="260.7" y="949.8" width="1.4" height="1.2" fill="#b5e0a0" />
<rect x="262.9" y="949.8" width="1.4" height="1.2" fill="#b5e0a0" />
<line x1="251.3" y1="958.2" x2="281.1" y2="957.0" stroke="#77787a" stroke-width="0.6" />
<polygon points="251.9,959.6 268.6,958.7 268.6,968.4 251.9,969.0" fill="#3f3f41" stroke="none" stroke-width="0.5" />
<polygon points="269.5,958.7 280.4,958.1 280.4,967.8 269.5,968.4" fill="#c9cacc" stroke="none" stroke-width="0.5" />
<line x1="269.9" y1="960.2" x2="280.2" y2="959.7" stroke="#77787a" stroke-width="0.5" />
<line x1="269.9" y1="962.3" x2="280.2" y2="961.8" stroke="#77787a" stroke-width="0.5" />
<line x1="269.9" y1="964.4" x2="280.2" y2="963.9" stroke="#77787a" stroke-width="0.5" />
<line x1="269.9" y1="966.5" x2="280.2" y2="966.0" stroke="#77787a" stroke-width="0.5" />
<rect x="253.2" y="961.8" width="1.4" height="1.2" fill="#b5e0a0" />
<rect x="255.9" y="961.8" width="1.4" height="1.2" fill="#b5e0a0" />
<rect x="258.1" y="961.8" width="1.4" height="1.2" fill="#b5e0a0" />
<rect x="260.7" y="961.8" width="1.4" height="1.2" fill="#b5e0a0" />
<rect x="262.9" y="961.8" width="1.4" height="1.2" fill="#b5e0a0" />
<line x1="251.3" y1="970.1" x2="281.1" y2="969.0" stroke="#77787a" stroke-width="0.6" />
<polygon points="322.1,950.4 335.7,953.0 335.7,964.4 322.1,962.6" fill="#a19f9b" stroke="none" stroke-width="0.5" />
<polygon points="302.4,905.6 358.9,911.8 355.4,957.4 298.9,944.6" fill="#d6d4ce" stroke="#8c8a84" stroke-width="0.6" />
<polygon points="304.6,908.7 356.3,914.8 352.8,953.9 301.1,942.0" fill="#565656" stroke="none" stroke-width="0.5" />
<polygon points="304.6,908.7 337.9,912.6 311.6,943.3 301.1,942.0" fill="#3c3d3c" stroke="none" stroke-width="0.5" />
<polygon points="296.2,963.9 316.4,958.7 352.8,966.6 331.8,973.2" fill="#8a8986" stroke="none" stroke-width="0.5" />
<polygon points="306.3,962.6 317.7,959.8 344.9,965.5 331.8,970.1" fill="#d2d0ca" stroke="none" stroke-width="0.5" />
<polygon points="296.2,963.9 331.8,973.2 332.2,987.6 295.4,973.2" fill="#706f6c" stroke="none" stroke-width="0.5" />
<polygon points="331.8,973.2 352.8,966.6 353.7,980.2 332.2,987.6" fill="#595856" stroke="none" stroke-width="0.5" />
<text x="235.0" y="1008.0" font-size="20.5" textLength="136.6" lengthAdjust="spacingAndGlyphs" stroke="#000" stroke-width="0.5" >Bioinformatics</text>
<defs><linearGradient id="ag3001032" x1="0" y1="0" x2="0" y2="1"><stop offset="0" stop-color="#ffffff"/><stop offset="0.55" stop-color="#5a64aa"/><stop offset="1" stop-color="#5560a8"/></linearGradient></defs><path d="M295.4 1032.7 H305.8 V1065.5 H309.0 L300.6 1081.0 L292.2 1065.5 H295.4 Z" fill="url(#ag3001032)"/>
<circle cx="246.2" cy="1150.0" r="63" fill="#e4eaf6" stroke="#8f9bd0" stroke-width="1.3"/>
<circle cx="337.3" cy="1150.0" r="63" fill="#eee4cc" stroke="#c9a77d" stroke-width="1.3" fill-opacity="0.93"/>
<path d="M274.5 1093.7 A63 63 0 0 1 274.5 1206.3" fill="none" stroke="#b9b3c0" stroke-width="0.7" />
<text x="196.5" y="1153.0" font-size="15" textLength="68.0" lengthAdjust="spacingAndGlyphs" stroke="#000" stroke-width="0.5" >CTR gRNA</text>
<text x="313.7" y="1153.0" font-size="15" textLength="78.3" lengthAdjust="spacingAndGlyphs" stroke="#000" stroke-width="0.5" >EHMT2 KO2</text>
<text x="329.0" y="1248.8" font-size="20.5" textLength="167.0" lengthAdjust="spacingAndGlyphs" stroke="#000" stroke-width="0.5" >Target verification</text>
<text x="329.0" y="1272.7" font-size="20.5" textLength="161.0" lengthAdjust="spacingAndGlyphs" stroke="#000" stroke-width="0.5" >Pathway analysis</text>
<text x="329.0" y="1296.6" font-size="20.5" textLength="153.5" lengthAdjust="spacingAndGlyphs" stroke="#000" stroke-width="0.5" >Functional study</text>
<text x="249.8" y="1219.2" font-size="5.3" text-anchor="middle" fill="#222" textLength="35.0" lengthAdjust="spacingAndGlyphs" font-weight="bold" >Volcano plot</text>
<path d="M202.3 1228.5 V1316 H310" fill="none" stroke="#555" stroke-width="1.1" />
<text x="198.1" y="1236.0" font-size="4.3" text-anchor="end" fill="#333" >25</text>
<line x1="200.3" y1="1234.6" x2="202.3" y2="1234.6" stroke="#777" stroke-width="0.4" />
<text x="198.1" y="1252.4" font-size="4.3" text-anchor="end" fill="#333" >20</text>
<line x1="200.3" y1="1251.0" x2="202.3" y2="1251.0" stroke="#777" stroke-width="0.4" />
<text x="198.1" y="1269.5" font-size="4.3" text-anchor="end" fill="#333" >15</text>
<line x1="200.3" y1="1268.1" x2="202.3" y2="1268.1" stroke="#777" stroke-width="0.4" />
<text x="198.1" y="1286.5" font-size="4.3" text-anchor="end" fill="#333" >10</text>
<line x1="200.3" y1="1285.1" x2="202.3" y2="1285.1" stroke="#777" stroke-width="0.4" />
<text x="198.1" y="1302.5" font-size="4.3" text-anchor="end" fill="#333" >5</text>
<line x1="200.3" y1="1301.1" x2="202.3" y2="1301.1" stroke="#777" stroke-width="0.4" />
<text x="198.1" y="1317.0" font-size="4.3" text-anchor="end" fill="#333" >0</text>
<line x1="200.3" y1="1315.6" x2="202.3" y2="1315.6" stroke="#777" stroke-width="0.4" />
<text x="201.8" y="1324.9" font-size="4.3" text-anchor="middle" fill="#333" >-10</text>
<line x1="201.8" y1="1316.0" x2="201.8" y2="1318.0" stroke="#777" stroke-width="0.4" />
<text x="224.3" y="1324.9" font-size="4.3" text-anchor="middle" fill="#333" >-5</text>
<line x1="224.3" y1="1316.0" x2="224.3" y2="1318.0" stroke="#777" stroke-width="0.4" />
<text x="246.5" y="1324.9" font-size="4.3" text-anchor="middle" fill="#333" >0</text>
<line x1="246.5" y1="1316.0" x2="246.5" y2="1318.0" stroke="#777" stroke-width="0.4" />
<text x="269.2" y="1324.9" font-size="4.3" text-anchor="middle" fill="#333" >5</text>
<line x1="269.2" y1="1316.0" x2="269.2" y2="1318.0" stroke="#777" stroke-width="0.4" />
<text x="291.5" y="1324.9" font-size="4.3" text-anchor="middle" fill="#333" >10</text>
<line x1="291.5" y1="1316.0" x2="291.5" y2="1318.0" stroke="#777" stroke-width="0.4" />
<text x="251.8" y="1334.7" font-size="4.6" text-anchor="middle" fill="#333" >Log2 FC</text>
<text x="188.5" y="1273.5" font-size="4.6" text-anchor="middle" fill="#333" transform="rotate(-90 188.5 1273.5)" >-log10(p</text>
<rect x="237.3" y="1275.2" width="1.25" height="1.25" fill="#3b79c0"/>
<rect x="239.0" y="1275.6" width="1.25" height="1.25" fill="#3b79c0"/>
<rect x="238.7" y="1266.7" width="1.25" height="1.25" fill="#3b79c0"/>
<rect x="240.9" y="1283.8" width="1.25" height="1.25" fill="#3b79c0"/>
<rect x="238.6" y="1263.3" width="1.25" height="1.25" fill="#3b79c0"/>
<rect x="238.2" y="1261.2" width="1.25" height="1.25" fill="#3b79c0"/>
<rect x="241.3" y="1280.8" width="1.25" height="1.25" fill="#3b79c0"/>
<rect x="239.2" y="1259.2" width="1.25" height="1.25" fill="#3b79c0"/>
<rect x="240.2" y="1266.7" width="1.25" height="1.25" fill="#3b79c0"/>
<rect x="237.7" y="1275.4" width="1.25" height="1.25" fill="#3b79c0"/>
<rect x="239.4" y="1277.2" width="1.25" height="1.25" fill="#3b79c0"/>
<rect x="240.8" y="1280.9" width="1.25" height="1.25" fill="#3b79c0"/>
<rect x="237.1" y="1289.6" width="1.25" height="1.25" fill="#3b79c0"/>
<rect x="241.1" y="1281.9" width="1.25" height="1.25" fill="#3b79c0"/>
<rect x="238.2" y="1269.8" width="1.25" height="1.25" fill="#3b79c0"/>
<rect x="239.8" y="1274.0" width="1.25" height="1.25" fill="#3b79c0"/>
<rect x="242.7" y="1288.6" width="1.25" height="1.25" fill="#3b79c0"/>
<rect x="239.2" y="1268.0" width="1.25" height="1.25" fill="#3b79c0"/>
<rect x="242.5" y="1288.7" width="1.25" height="1.25" fill="#3b79c0"/>
<rect x="240.7" y="1280.3" width="1.25" height="1.25" fill="#3b79c0"/>
<rect x="238.0" y="1262.8" width="1.25" height="1.25" fill="#3b79c0"/>
<rect x="241.1" y="1283.0" width="1.25" height="1.25" fill="#3b79c0"/>
<rect x="238.4" y="1263.1" width="1.25" height="1.25" fill="#3b79c0"/>
<rect x="239.2" y="1266.5" width="1.25" height="1.25" fill="#3b79c0"/>
<rect x="240.0" y="1267.1" width="1.25" height="1.25" fill="#3b79c0"/>
<rect x="240.0" y="1280.0" width="1.25" height="1.25" fill="#3b79c0"/>
<rect x="237.6" y="1267.5" width="1.25" height="1.25" fill="#3b79c0"/>
<rect x="237.0" y="1284.3" width="1.25" height="1.25" fill="#3b79c0"/>
<rect x="238.0" y="1267.5" width="1.25" height="1.25" fill="#3b79c0"/>
<rect x="236.6" y="1280.0" width="1.25" height="1.25" fill="#3b79c0"/>
<rect x="238.3" y="1267.5" width="1.25" height="1.25" fill="#3b79c0"/>
<rect x="240.6" y="1271.3" width="1.25" height="1.25" fill="#3b79c0"/>
<rect x="239.4" y="1263.1" width="1.25" height="1.25" fill="#3b79c0"/>
<rect x="239.8" y="1279.2" width="1.25" height="1.25" fill="#3b79c0"/>
<rect x="239.3" y="1288.2" width="1.25" height="1.25" fill="#3b79c0"/>
<rect x="241.8" y="1285.7" width="1.25" height="1.25" fill="#3b79c0"/>
<rect x="241.4" y="1287.3" width="1.25" height="1.25" fill="#3b79c0"/>
<rect x="237.8" y="1267.1" width="1.25" height="1.25" fill="#3b79c0"/>
<rect x="238.0" y="1267.6" width="1.25" height="1.25" fill="#3b79c0"/>
<rect x="241.4" y="1279.3" width="1.25" height="1.25" fill="#3b79c0"/>
<rect x="239.2" y="1261.0" width="1.25" height="1.25" fill="#3b79c0"/>
<rect x="237.6" y="1281.8" width="1.25" height="1.25" fill="#3b79c0"/>
<rect x="241.1" y="1279.0" width="1.25" height="1.25" fill="#3b79c0"/>
<rect x="241.1" y="1282.0" width="1.25" height="1.25" fill="#3b79c0"/>
<rect x="238.9" y="1278.5" width="1.25" height="1.25" fill="#3b79c0"/>
<rect x="240.1" y="1270.3" width="1.25" height="1.25" fill="#3b79c0"/>
<rect x="238.9" y="1259.1" width="1.25" height="1.25" fill="#3b79c0"/>
<rect x="239.1" y="1261.4" width="1.25" height="1.25" fill="#3b79c0"/>
<rect x="240.2" y="1278.2" width="1.25" height="1.25" fill="#3b79c0"/>
<rect x="238.6" y="1287.1" width="1.25" height="1.25" fill="#3b79c0"/>
<rect x="241.5" y="1281.7" width="1.25" height="1.25" fill="#3b79c0"/>
<rect x="238.3" y="1260.0" width="1.25" height="1.25" fill="#3b79c0"/>
<rect x="241.9" y="1282.3" width="1.25" height="1.25" fill="#3b79c0"/>
<rect x="238.2" y="1280.2" width="1.25" height="1.25" fill="#3b79c0"/>
<rect x="240.6" y="1271.6" width="1.25" height="1.25" fill="#3b79c0"/>
<rect x="237.3" y="1278.0" width="1.25" height="1.25" fill="#3b79c0"/>
<rect x="237.7" y="1283.0" width="1.25" height="1.25" fill="#3b79c0"/>
<rect x="238.4" y="1287.1" width="1.25" height="1.25" fill="#3b79c0"/>
<rect x="240.3" y="1287.2" width="1.25" height="1.25" fill="#3b79c0"/>
<rect x="239.2" y="1284.5" width="1.25" height="1.25" fill="#3b79c0"/>
<rect x="239.1" y="1279.8" width="1.25" height="1.25" fill="#3b79c0"/>
<rect x="238.8" y="1279.1" width="1.25" height="1.25" fill="#3b79c0"/>
<rect x="238.1" y="1289.4" width="1.25" height="1.25" fill="#3b79c0"/>
<rect x="239.0" y="1273.5" width="1.25" height="1.25" fill="#3b79c0"/>
<rect x="240.9" y="1275.1" width="1.25" height="1.25" fill="#3b79c0"/>
<rect x="239.0" y="1282.7" width="1.25" height="1.25" fill="#3b79c0"/>
<rect x="238.4" y="1275.7" width="1.25" height="1.25" fill="#3b79c0"/>
<rect x="237.3" y="1276.5" width="1.25" height="1.25" fill="#3b79c0"/>
<rect x="239.8" y="1268.7" width="1.25" height="1.25" fill="#3b79c0"/>
<rect x="241.3" y="1281.0" width="1.25" height="1.25" fill="#3b79c0"/>
<rect x="240.2" y="1287.1" width="1.25" height="1.25" fill="#3b79c0"/>
<rect x="238.6" y="1286.5" width="1.25" height="1.25" fill="#3b79c0"/>
<rect x="238.2" y="1267.1" width="1.25" height="1.25" fill="#3b79c0"/>
<rect x="240.6" y="1287.5" width="1.25" height="1.25" fill="#3b79c0"/>
<rect x="241.2" y="1278.6" width="1.25" height="1.25" fill="#3b79c0"/>
<rect x="237.6" y="1276.7" width="1.25" height="1.25" fill="#3b79c0"/>
<rect x="240.9" y="1282.6" width="1.25" height="1.25" fill="#3b79c0"/>
<rect x="239.6" y="1266.1" width="1.25" height="1.25" fill="#3b79c0"/>
<rect x="238.8" y="1267.7" width="1.25" height="1.25" fill="#3b79c0"/>
<rect x="237.7" y="1276.2" width="1.25" height="1.25" fill="#3b79c0"/>
<rect x="242.5" y="1288.8" width="1.25" height="1.25" fill="#3b79c0"/>
<rect x="239.4" y="1260.6" width="1.25" height="1.25" fill="#3b79c0"/>
<rect x="240.7" y="1282.2" width="1.25" height="1.25" fill="#3b79c0"/>
<rect x="241.7" y="1283.7" width="1.25" height="1.25" fill="#3b79c0"/>
<rect x="237.8" y="1274.8" width="1.25" height="1.25" fill="#3b79c0"/>
<rect x="240.3" y="1268.2" width="1.25" height="1.25" fill="#3b79c0"/>
<rect x="238.8" y="1280.0" width="1.25" height="1.25" fill="#3b79c0"/>
<rect x="236.7" y="1281.0" width="1.25" height="1.25" fill="#3b79c0"/>
<rect x="239.7" y="1281.2" width="1.25" height="1.25" fill="#3b79c0"/>
<rect x="239.2" y="1266.0" width="1.25" height="1.25" fill="#3b79c0"/>
<rect x="240.9" y="1281.9" width="1.25" height="1.25" fill="#3b79c0"/>
<rect x="239.2" y="1272.2" width="1.25" height="1.25" fill="#3b79c0"/>
<rect x="240.1" y="1279.9" width="1.25" height="1.25" fill="#3b79c0"/>
<rect x="242.0" y="1284.6" width="1.25" height="1.25" fill="#3b79c0"/>
<rect x="242.1" y="1287.8" width="1.25" height="1.25" fill="#3b79c0"/>
<rect x="237.4" y="1275.3" width="1.25" height="1.25" fill="#3b79c0"/>
<rect x="237.7" y="1273.0" width="1.25" height="1.25" fill="#3b79c0"/>
<rect x="239.9" y="1284.7" width="1.25" height="1.25" fill="#3b79c0"/>
<rect x="238.3" y="1280.3" width="1.25" height="1.25" fill="#3b79c0"/>
<rect x="238.2" y="1285.0" width="1.25" height="1.25" fill="#3b79c0"/>
<rect x="237.6" y="1268.1" width="1.25" height="1.25" fill="#3b79c0"/>
<rect x="237.6" y="1288.7" width="1.25" height="1.25" fill="#3b79c0"/>
<rect x="237.9" y="1271.6" width="1.25" height="1.25" fill="#3b79c0"/>
<rect x="239.5" y="1271.7" width="1.25" height="1.25" fill="#3b79c0"/>
<rect x="239.5" y="1278.2" width="1.25" height="1.25" fill="#3b79c0"/>
<rect x="239.3" y="1260.3" width="1.25" height="1.25" fill="#3b79c0"/>
<rect x="240.7" y="1284.1" width="1.25" height="1.25" fill="#3b79c0"/>
<rect x="241.7" y="1283.8" width="1.25" height="1.25" fill="#3b79c0"/>
<rect x="237.7" y="1277.2" width="1.25" height="1.25" fill="#3b79c0"/>
<rect x="239.6" y="1282.0" width="1.25" height="1.25" fill="#3b79c0"/>
<rect x="241.7" y="1287.6" width="1.25" height="1.25" fill="#3b79c0"/>
<rect x="238.3" y="1277.1" width="1.25" height="1.25" fill="#3b79c0"/>
<rect x="237.5" y="1280.3" width="1.25" height="1.25" fill="#3b79c0"/>
<rect x="240.1" y="1278.0" width="1.25" height="1.25" fill="#3b79c0"/>
<rect x="241.5" y="1285.9" width="1.25" height="1.25" fill="#3b79c0"/>
<rect x="239.6" y="1286.1" width="1.25" height="1.25" fill="#3b79c0"/>
<rect x="239.3" y="1278.2" width="1.25" height="1.25" fill="#3b79c0"/>
<rect x="241.3" y="1276.7" width="1.25" height="1.25" fill="#3b79c0"/>
<rect x="240.5" y="1288.5" width="1.25" height="1.25" fill="#3b79c0"/>
<rect x="239.8" y="1284.5" width="1.25" height="1.25" fill="#3b79c0"/>
<rect x="239.4" y="1281.2" width="1.25" height="1.25" fill="#3b79c0"/>
<rect x="237.4" y="1274.5" width="1.25" height="1.25" fill="#3b79c0"/>
<rect x="240.3" y="1269.6" width="1.25" height="1.25" fill="#3b79c0"/>
<rect x="237.5" y="1274.9" width="1.25" height="1.25" fill="#3b79c0"/>
<rect x="240.7" y="1275.7" width="1.25" height="1.25" fill="#3b79c0"/>
<rect x="241.3" y="1280.1" width="1.25" height="1.25" fill="#3b79c0"/>
<rect x="241.4" y="1283.4" width="1.25" height="1.25" fill="#3b79c0"/>
<rect x="239.6" y="1268.4" width="1.25" height="1.25" fill="#3b79c0"/>
<rect x="240.6" y="1272.4" width="1.25" height="1.25" fill="#3b79c0"/>
<rect x="239.6" y="1282.3" width="1.25" height="1.25" fill="#3b79c0"/>
<rect x="239.1" y="1268.7" width="1.25" height="1.25" fill="#3b79c0"/>
<rect x="239.7" y="1274.6" width="1.25" height="1.25" fill="#3b79c0"/>
<rect x="240.8" y="1277.0" width="1.25" height="1.25" fill="#3b79c0"/>
<rect x="239.4" y="1280.2" width="1.25" height="1.25" fill="#3b79c0"/>
<rect x="237.2" y="1285.8" width="1.25" height="1.25" fill="#3b79c0"/>
<rect x="238.1" y="1268.6" width="1.25" height="1.25" fill="#3b79c0"/>
<rect x="241.0" y="1286.7" width="1.25" height="1.25" fill="#3b79c0"/>
<rect x="235.9" y="1287.1" width="1.25" height="1.25" fill="#3b79c0"/>
<rect x="241.4" y="1286.2" width="1.25" height="1.25" fill="#3b79c0"/>
<rect x="241.7" y="1282.3" width="1.25" height="1.25" fill="#3b79c0"/>
<rect x="237.7" y="1285.1" width="1.25" height="1.25" fill="#3b79c0"/>
<rect x="238.6" y="1264.4" width="1.25" height="1.25" fill="#3b79c0"/>
<rect x="238.6" y="1259.1" width="1.25" height="1.25" fill="#3b79c0"/>
<rect x="242.1" y="1287.6" width="1.25" height="1.25" fill="#3b79c0"/>
<rect x="239.4" y="1276.9" width="1.25" height="1.25" fill="#3b79c0"/>
<rect x="241.7" y="1281.2" width="1.25" height="1.25" fill="#3b79c0"/>
<rect x="238.9" y="1263.3" width="1.25" height="1.25" fill="#3b79c0"/>
<rect x="241.0" y="1277.0" width="1.25" height="1.25" fill="#3b79c0"/>
<rect x="238.1" y="1266.4" width="1.25" height="1.25" fill="#3b79c0"/>
<rect x="242.4" y="1289.4" width="1.25" height="1.25" fill="#3b79c0"/>
<rect x="239.0" y="1262.2" width="1.25" height="1.25" fill="#3b79c0"/>
<rect x="239.9" y="1283.4" width="1.25" height="1.25" fill="#3b79c0"/>
<rect x="238.9" y="1276.9" width="1.25" height="1.25" fill="#3b79c0"/>
<rect x="238.4" y="1259.3" width="1.25" height="1.25" fill="#3b79c0"/>
<rect x="238.4" y="1266.5" width="1.25" height="1.25" fill="#3b79c0"/>
<rect x="240.6" y="1273.5" width="1.25" height="1.25" fill="#3b79c0"/>
<rect x="237.4" y="1276.4" width="1.25" height="1.25" fill="#3b79c0"/>
<rect x="237.2" y="1284.6" width="1.25" height="1.25" fill="#3b79c0"/>
<rect x="239.0" y="1279.9" width="1.25" height="1.25" fill="#3b79c0"/>
<rect x="237.9" y="1277.1" width="1.25" height="1.25" fill="#3b79c0"/>
<rect x="238.4" y="1269.6" width="1.25" height="1.25" fill="#3b79c0"/>
<rect x="240.3" y="1284.1" width="1.25" height="1.25" fill="#3b79c0"/>
<rect x="238.4" y="1287.1" width="1.25" height="1.25" fill="#3b79c0"/>
<rect x="240.2" y="1283.8" width="1.25" height="1.25" fill="#3b79c0"/>
<rect x="240.5" y="1282.0" width="1.25" height="1.25" fill="#3b79c0"/>
<rect x="240.0" y="1275.2" width="1.25" height="1.25" fill="#3b79c0"/>
<rect x="240.9" y="1280.4" width="1.25" height="1.25" fill="#3b79c0"/>
<rect x="240.9" y="1288.1" width="1.25" height="1.25" fill="#3b79c0"/>
<rect x="239.4" y="1280.9" width="1.25" height="1.25" fill="#3b79c0"/>
<rect x="238.7" y="1273.8" width="1.25" height="1.25" fill="#3b79c0"/>
<rect x="236.5" y="1282.1" width="1.25" height="1.25" fill="#3b79c0"/>
<rect x="238.6" y="1259.8" width="1.25" height="1.25" fill="#3b79c0"/>
<rect x="240.4" y="1269.1" width="1.25" height="1.25" fill="#3b79c0"/>
<rect x="240.1" y="1267.0" width="1.25" height="1.25" fill="#3b79c0"/>
<rect x="239.0" y="1269.4" width="1.25" height="1.25" fill="#3b79c0"/>
<rect x="239.1" y="1277.2" width="1.25" height="1.25" fill="#3b79c0"/>
<rect x="237.4" y="1289.2" width="1.25" height="1.25" fill="#3b79c0"/>
<rect x="238.5" y="1262.5" width="1.25" height="1.25" fill="#3b79c0"/>
<rect x="239.3" y="1261.4" width="1.25" height="1.25" fill="#3b79c0"/>
<rect x="239.4" y="1275.4" width="1.25" height="1.25" fill="#3b79c0"/>
<rect x="236.9" y="1279.1" width="1.25" height="1.25" fill="#3b79c0"/>
<rect x="238.9" y="1274.3" width="1.25" height="1.25" fill="#3b79c0"/>
<rect x="238.7" y="1272.4" width="1.25" height="1.25" fill="#3b79c0"/>
<rect x="238.3" y="1278.0" width="1.25" height="1.25" fill="#3b79c0"/>
<rect x="240.0" y="1270.0" width="1.25" height="1.25" fill="#3b79c0"/>
<rect x="238.5" y="1260.5" width="1.25" height="1.25" fill="#3b79c0"/>
<rect x="238.2" y="1273.7" width="1.25" height="1.25" fill="#3b79c0"/>
<rect x="238.2" y="1261.7" width="1.25" height="1.25" fill="#3b79c0"/>
<rect x="239.1" y="1262.7" width="1.25" height="1.25" fill="#3b79c0"/>
<rect x="240.5" y="1276.3" width="1.25" height="1.25" fill="#3b79c0"/>
<rect x="238.3" y="1277.6" width="1.25" height="1.25" fill="#3b79c0"/>
<rect x="237.8" y="1276.1" width="1.25" height="1.25" fill="#3b79c0"/>
<rect x="238.8" y="1279.0" width="1.25" height="1.25" fill="#3b79c0"/>
<rect x="241.1" y="1275.0" width="1.25" height="1.25" fill="#3b79c0"/>
<rect x="239.7" y="1276.9" width="1.25" height="1.25" fill="#3b79c0"/>
<rect x="240.9" y="1281.0" width="1.25" height="1.25" fill="#3b79c0"/>
<rect x="238.0" y="1278.7" width="1.25" height="1.25" fill="#3b79c0"/>
<rect x="237.0" y="1277.8" width="1.25" height="1.25" fill="#3b79c0"/>
<rect x="241.7" y="1282.5" width="1.25" height="1.25" fill="#3b79c0"/>
<rect x="238.9" y="1286.9" width="1.25" height="1.25" fill="#3b79c0"/>
<rect x="238.5" y="1272.2" width="1.25" height="1.25" fill="#3b79c0"/>
<rect x="238.8" y="1278.4" width="1.25" height="1.25" fill="#3b79c0"/>
<rect x="241.1" y="1282.9" width="1.25" height="1.25" fill="#3b79c0"/>
<rect x="236.8" y="1289.1" width="1.25" height="1.25" fill="#3b79c0"/>
<rect x="239.2" y="1260.2" width="1.25" height="1.25" fill="#3b79c0"/>
<rect x="240.8" y="1274.5" width="1.25" height="1.25" fill="#3b79c0"/>
<rect x="241.2" y="1277.3" width="1.25" height="1.25" fill="#3b79c0"/>
<rect x="238.8" y="1281.3" width="1.25" height="1.25" fill="#3b79c0"/>
<rect x="240.4" y="1272.8" width="1.25" height="1.25" fill="#3b79c0"/>
<rect x="237.9" y="1272.2" width="1.25" height="1.25" fill="#3b79c0"/>
<rect x="226.7" y="1234.2" width="1.25" height="1.25" fill="#3b79c0"/>
<rect x="231.8" y="1275.1" width="1.25" height="1.25" fill="#3b79c0"/>
<rect x="229.5" y="1288.1" width="1.25" height="1.25" fill="#3b79c0"/>
<rect x="231.6" y="1273.8" width="1.25" height="1.25" fill="#3b79c0"/>
<rect x="235.9" y="1251.6" width="1.25" height="1.25" fill="#3b79c0"/>
<rect x="221.9" y="1234.3" width="1.25" height="1.25" fill="#3b79c0"/>
<rect x="235.3" y="1272.5" width="1.25" height="1.25" fill="#3b79c0"/>
<rect x="238.6" y="1272.6" width="1.25" height="1.25" fill="#3b79c0"/>
<rect x="213.3" y="1271.6" width="1.25" height="1.25" fill="#3b79c0"/>
<rect x="232.6" y="1285.2" width="1.25" height="1.25" fill="#3b79c0"/>
<rect x="235.0" y="1277.1" width="1.25" height="1.25" fill="#3b79c0"/>
<rect x="234.5" y="1282.6" width="1.25" height="1.25" fill="#3b79c0"/>
<rect x="230.5" y="1251.4" width="1.25" height="1.25" fill="#3b79c0"/>
<rect x="225.3" y="1252.7" width="1.25" height="1.25" fill="#3b79c0"/>
<rect x="217.4" y="1276.8" width="1.25" height="1.25" fill="#3b79c0"/>
<rect x="218.9" y="1263.0" width="1.25" height="1.25" fill="#3b79c0"/>
<rect x="240.8" y="1281.7" width="1.25" height="1.25" fill="#3b79c0"/>
<rect x="225.5" y="1260.2" width="1.25" height="1.25" fill="#3b79c0"/>
<rect x="219.9" y="1286.8" width="1.25" height="1.25" fill="#3b79c0"/>
<rect x="239.5" y="1276.3" width="1.25" height="1.25" fill="#3b79c0"/>
<rect x="239.1" y="1273.3" width="1.25" height="1.25" fill="#3b79c0"/>
<rect x="219.9" y="1267.2" width="1.25" height="1.25" fill="#3b79c0"/>
<rect x="236.2" y="1268.1" width="1.25" height="1.25" fill="#3b79c0"/>
<rect x="220.1" y="1274.9" width="1.25" height="1.25" fill="#3b79c0"/>
<rect x="209.5" y="1253.1" width="1.25" height="1.25" fill="#3b79c0"/>
<rect x="227.6" y="1269.4" width="1.25" height="1.25" fill="#3b79c0"/>
<rect x="213.6" y="1272.3" width="1.25" height="1.25" fill="#3b79c0"/>
<rect x="217.7" y="1269.1" width="1.25" height="1.25" fill="#3b79c0"/>
<rect x="212.5" y="1279.0" width="1.25" height="1.25" fill="#3b79c0"/>
<rect x="221.3" y="1267.6" width="1.25" height="1.25" fill="#3b79c0"/>
<rect x="232.2" y="1277.1" width="1.25" height="1.25" fill="#3b79c0"/>
<rect x="239.6" y="1288.2" width="1.25" height="1.25" fill="#3b79c0"/>
<rect x="239.7" y="1275.5" width="1.25" height="1.25" fill="#3b79c0"/>
<rect x="212.0" y="1256.9" width="1.25" height="1.25" fill="#3b79c0"/>
<rect x="235.6" y="1232.0" width="1.25" height="1.25" fill="#3b79c0"/>
<rect x="227.2" y="1242.6" width="1.25" height="1.25" fill="#3b79c0"/>
<rect x="233.5" y="1243.0" width="1.25" height="1.25" fill="#3b79c0"/>
<rect x="236.5" y="1278.0" width="1.25" height="1.25" fill="#3b79c0"/>
<rect x="234.9" y="1282.1" width="1.25" height="1.25" fill="#3b79c0"/>
<rect x="237.8" y="1258.3" width="1.25" height="1.25" fill="#3b79c0"/>
<rect x="234.2" y="1285.7" width="1.25" height="1.25" fill="#3b79c0"/>
<rect x="234.1" y="1260.9" width="1.25" height="1.25" fill="#3b79c0"/>
<rect x="238.2" y="1288.2" width="1.25" height="1.25" fill="#3b79c0"/>
<rect x="237.8" y="1271.9" width="1.25" height="1.25" fill="#3b79c0"/>
<rect x="234.0" y="1239.1" width="1.25" height="1.25" fill="#3b79c0"/>
<rect x="225.6" y="1281.0" width="1.25" height="1.25" fill="#3b79c0"/>
<rect x="230.0" y="1288.4" width="1.25" height="1.25" fill="#3b79c0"/>
<rect x="239.9" y="1279.7" width="1.25" height="1.25" fill="#3b79c0"/>
<rect x="215.7" y="1260.8" width="1.25" height="1.25" fill="#3b79c0"/>
<rect x="237.4" y="1248.2" width="1.25" height="1.25" fill="#3b79c0"/>
<rect x="231.2" y="1247.8" width="1.25" height="1.25" fill="#3b79c0"/>
<rect x="232.1" y="1270.3" width="1.25" height="1.25" fill="#3b79c0"/>
<rect x="240.5" y="1278.7" width="1.25" height="1.25" fill="#3b79c0"/>
<rect x="208.4" y="1256.8" width="1.25" height="1.25" fill="#3b79c0"/>
<rect x="225.8" y="1276.9" width="1.25" height="1.25" fill="#3b79c0"/>
<rect x="226.1" y="1246.9" width="1.25" height="1.25" fill="#3b79c0"/>
<rect x="230.6" y="1247.4" width="1.25" height="1.25" fill="#3b79c0"/>
<rect x="236.7" y="1269.1" width="1.25" height="1.25" fill="#3b79c0"/>
<rect x="212.3" y="1272.9" width="1.25" height="1.25" fill="#3b79c0"/>
<rect x="232.9" y="1263.0" width="1.25" height="1.25" fill="#3b79c0"/>
<rect x="238.9" y="1278.6" width="1.25" height="1.25" fill="#3b79c0"/>
<rect x="232.0" y="1271.6" width="1.25" height="1.25" fill="#3b79c0"/>
<rect x="239.8" y="1279.1" width="1.25" height="1.25" fill="#3b79c0"/>
<rect x="236.7" y="1243.2" width="1.25" height="1.25" fill="#3b79c0"/>
<rect x="211.5" y="1253.8" width="1.25" height="1.25" fill="#3b79c0"/>
<rect x="222.4" y="1255.0" width="1.25" height="1.25" fill="#3b79c0"/>
<rect x="232.9" y="1275.0" width="1.25" height="1.25" fill="#3b79c0"/>
<rect x="237.9" y="1249.3" width="1.25" height="1.25" fill="#3b79c0"/>
<rect x="225.5" y="1287.7" width="1.25" height="1.25" fill="#3b79c0"/>
<rect x="233.3" y="1265.7" width="1.25" height="1.25" fill="#3b79c0"/>
<rect x="238.6" y="1278.5" width="1.25" height="1.25" fill="#3b79c0"/>
<rect x="227.9" y="1275.0" width="1.25" height="1.25" fill="#3b79c0"/>
<rect x="236.4" y="1250.6" width="1.25" height="1.25" fill="#3b79c0"/>
<rect x="213.1" y="1279.1" width="1.25" height="1.25" fill="#3b79c0"/>
<rect x="238.4" y="1266.8" width="1.25" height="1.25" fill="#3b79c0"/>
<rect x="212.8" y="1270.9" width="1.25" height="1.25" fill="#3b79c0"/>
<rect x="236.7" y="1251.1" width="1.25" height="1.25" fill="#3b79c0"/>
<rect x="215.8" y="1287.2" width="1.25" height="1.25" fill="#3b79c0"/>
<rect x="226.0" y="1261.8" width="1.25" height="1.25" fill="#3b79c0"/>
<rect x="227.7" y="1288.3" width="1.25" height="1.25" fill="#3b79c0"/>
<rect x="228.4" y="1278.8" width="1.25" height="1.25" fill="#3b79c0"/>
<rect x="235.7" y="1234.3" width="1.25" height="1.25" fill="#3b79c0"/>
<rect x="225.6" y="1288.0" width="1.25" height="1.25" fill="#3b79c0"/>
<rect x="226.2" y="1273.3" width="1.25" height="1.25" fill="#3b79c0"/>
<rect x="237.7" y="1277.2" width="1.25" height="1.25" fill="#3b79c0"/>
<rect x="230.8" y="1257.4" width="1.25" height="1.25" fill="#3b79c0"/>
<rect x="227.5" y="1263.4" width="1.25" height="1.25" fill="#3b79c0"/>
<rect x="231.0" y="1265.2" width="1.25" height="1.25" fill="#3b79c0"/>
<rect x="219.3" y="1266.6" width="1.25" height="1.25" fill="#3b79c0"/>
<rect x="210.3" y="1274.1" width="1.25" height="1.25" fill="#3b79c0"/>
<rect x="232.8" y="1279.2" width="1.25" height="1.25" fill="#3b79c0"/>
<rect x="212.2" y="1255.4" width="1.25" height="1.25" fill="#3b79c0"/>
<rect x="229.9" y="1260.8" width="1.25" height="1.25" fill="#3b79c0"/>
<rect x="240.7" y="1283.1" width="1.25" height="1.25" fill="#3b79c0"/>
<rect x="221.0" y="1272.6" width="1.25" height="1.25" fill="#3b79c0"/>
<rect x="233.9" y="1265.0" width="1.25" height="1.25" fill="#3b79c0"/>
<rect x="237.6" y="1264.8" width="1.25" height="1.25" fill="#3b79c0"/>
<rect x="230.5" y="1256.2" width="1.25" height="1.25" fill="#3b79c0"/>
<rect x="233.3" y="1260.8" width="1.25" height="1.25" fill="#3b79c0"/>
<rect x="252.1" y="1273.3" width="1.25" height="1.25" fill="#c0392b"/>
<rect x="254.6" y="1287.6" width="1.25" height="1.25" fill="#c0392b"/>
<rect x="255.6" y="1286.0" width="1.25" height="1.25" fill="#c0392b"/>
<rect x="253.9" y="1268.2" width="1.25" height="1.25" fill="#c0392b"/>
<rect x="255.5" y="1286.5" width="1.25" height="1.25" fill="#c0392b"/>
<rect x="254.9" y="1264.5" width="1.25" height="1.25" fill="#c0392b"/>
<rect x="253.8" y="1257.8" width="1.25" height="1.25" fill="#c0392b"/>
<rect x="255.2" y="1271.0" width="1.25" height="1.25" fill="#c0392b"/>
<rect x="252.5" y="1284.7" width="1.25" height="1.25" fill="#c0392b"/>
<rect x="251.5" y="1278.4" width="1.25" height="1.25" fill="#c0392b"/>
<rect x="253.4" y="1286.6" width="1.25" height="1.25" fill="#c0392b"/>
<rect x="253.2" y="1288.1" width="1.25" height="1.25" fill="#c0392b"/>
<rect x="255.0" y="1267.3" width="1.25" height="1.25" fill="#c0392b"/>
<rect x="255.9" y="1286.5" width="1.25" height="1.25" fill="#c0392b"/>
<rect x="252.5" y="1272.2" width="1.25" height="1.25" fill="#c0392b"/>
<rect x="251.5" y="1286.8" width="1.25" height="1.25" fill="#c0392b"/>
<rect x="255.8" y="1279.8" width="1.25" height="1.25" fill="#c0392b"/>
<rect x="254.2" y="1260.8" width="1.25" height="1.25" fill="#c0392b"/>
<rect x="255.1" y="1271.4" width="1.25" height="1.25" fill="#c0392b"/>
<rect x="254.7" y="1281.9" width="1.25" height="1.25" fill="#c0392b"/>
<rect x="250.8" y="1287.7" width="1.25" height="1.25" fill="#c0392b"/>
<rect x="254.4" y="1267.9" width="1.25" height="1.25" fill="#c0392b"/>
<rect x="253.1" y="1266.8" width="1.25" height="1.25" fill="#c0392b"/>
<rect x="252.8" y="1281.2" width="1.25" height="1.25" fill="#c0392b"/>
<rect x="254.0" y="1281.2" width="1.25" height="1.25" fill="#c0392b"/>
<rect x="255.1" y="1268.1" width="1.25" height="1.25" fill="#c0392b"/>
<rect x="254.3" y="1280.8" width="1.25" height="1.25" fill="#c0392b"/>
<rect x="253.7" y="1263.5" width="1.25" height="1.25" fill="#c0392b"/>
<rect x="251.7" y="1277.3" width="1.25" height="1.25" fill="#c0392b"/>
<rect x="252.3" y="1279.0" width="1.25" height="1.25" fill="#c0392b"/>
<rect x="252.1" y="1284.1" width="1.25" height="1.25" fill="#c0392b"/>
<rect x="252.2" y="1283.0" width="1.25" height="1.25" fill="#c0392b"/>
<rect x="255.7" y="1277.6" width="1.25" height="1.25" fill="#c0392b"/>
<rect x="253.0" y="1288.5" width="1.25" height="1.25" fill="#c0392b"/>
<rect x="256.3" y="1283.0" width="1.25" height="1.25" fill="#c0392b"/>
<rect x="253.8" y="1276.2" width="1.25" height="1.25" fill="#c0392b"/>
<rect x="254.4" y="1280.3" width="1.25" height="1.25" fill="#c0392b"/>
<rect x="253.5" y="1284.0" width="1.25" height="1.25" fill="#c0392b"/>
<rect x="253.5" y="1285.7" width="1.25" height="1.25" fill="#c0392b"/>
<rect x="255.5" y="1287.8" width="1.25" height="1.25" fill="#c0392b"/>
<rect x="253.2" y="1266.1" width="1.25" height="1.25" fill="#c0392b"/>
<rect x="254.9" y="1275.1" width="1.25" height="1.25" fill="#c0392b"/>
<rect x="253.4" y="1283.9" width="1.25" height="1.25" fill="#c0392b"/>
<rect x="253.7" y="1268.1" width="1.25" height="1.25" fill="#c0392b"/>
<rect x="254.2" y="1260.5" width="1.25" height="1.25" fill="#c0392b"/>
<rect x="252.0" y="1278.9" width="1.25" height="1.25" fill="#c0392b"/>
<rect x="253.8" y="1265.1" width="1.25" height="1.25" fill="#c0392b"/>
<rect x="252.6" y="1274.6" width="1.25" height="1.25" fill="#c0392b"/>
<rect x="256.3" y="1284.0" width="1.25" height="1.25" fill="#c0392b"/>
<rect x="255.1" y="1278.5" width="1.25" height="1.25" fill="#c0392b"/>
<rect x="253.2" y="1268.2" width="1.25" height="1.25" fill="#c0392b"/>
<rect x="254.0" y="1260.6" width="1.25" height="1.25" fill="#c0392b"/>
<rect x="254.0" y="1277.0" width="1.25" height="1.25" fill="#c0392b"/>
<rect x="253.3" y="1263.3" width="1.25" height="1.25" fill="#c0392b"/>
<rect x="254.3" y="1268.8" width="1.25" height="1.25" fill="#c0392b"/>
<rect x="251.0" y="1285.4" width="1.25" height="1.25" fill="#c0392b"/>
<rect x="252.5" y="1273.8" width="1.25" height="1.25" fill="#c0392b"/>
<rect x="253.3" y="1288.1" width="1.25" height="1.25" fill="#c0392b"/>
<rect x="251.5" y="1283.9" width="1.25" height="1.25" fill="#c0392b"/>
<rect x="251.9" y="1275.5" width="1.25" height="1.25" fill="#c0392b"/>
<rect x="252.7" y="1269.0" width="1.25" height="1.25" fill="#c0392b"/>
<rect x="253.3" y="1273.2" width="1.25" height="1.25" fill="#c0392b"/>
<rect x="254.8" y="1262.0" width="1.25" height="1.25" fill="#c0392b"/>
<rect x="251.9" y="1283.7" width="1.25" height="1.25" fill="#c0392b"/>
<rect x="253.0" y="1269.1" width="1.25" height="1.25" fill="#c0392b"/>
<rect x="253.0" y="1275.8" width="1.25" height="1.25" fill="#c0392b"/>
<rect x="254.1" y="1272.2" width="1.25" height="1.25" fill="#c0392b"/>
<rect x="254.1" y="1260.6" width="1.25" height="1.25" fill="#c0392b"/>
<rect x="254.2" y="1261.5" width="1.25" height="1.25" fill="#c0392b"/>
<rect x="256.2" y="1286.1" width="1.25" height="1.25" fill="#c0392b"/>
<rect x="255.3" y="1275.4" width="1.25" height="1.25" fill="#c0392b"/>
<rect x="252.6" y="1273.3" width="1.25" height="1.25" fill="#c0392b"/>
<rect x="253.8" y="1271.8" width="1.25" height="1.25" fill="#c0392b"/>
<rect x="253.1" y="1265.7" width="1.25" height="1.25" fill="#c0392b"/>
<rect x="253.3" y="1275.4" width="1.25" height="1.25" fill="#c0392b"/>
<rect x="256.2" y="1289.2" width="1.25" height="1.25" fill="#c0392b"/>
<rect x="252.7" y="1267.3" width="1.25" height="1.25" fill="#c0392b"/>
<rect x="252.2" y="1281.5" width="1.25" height="1.25" fill="#c0392b"/>
<rect x="253.6" y="1259.2" width="1.25" height="1.25" fill="#c0392b"/>
<rect x="254.6" y="1273.8" width="1.25" height="1.25" fill="#c0392b"/>
<rect x="252.7" y="1269.4" width="1.25" height="1.25" fill="#c0392b"/>
<rect x="255.4" y="1287.6" width="1.25" height="1.25" fill="#c0392b"/>
<rect x="251.1" y="1282.8" width="1.25" height="1.25" fill="#c0392b"/>
<rect x="252.4" y="1271.2" width="1.25" height="1.25" fill="#c0392b"/>
<rect x="255.4" y="1286.3" width="1.25" height="1.25" fill="#c0392b"/>
<rect x="253.1" y="1276.6" width="1.25" height="1.25" fill="#c0392b"/>
<rect x="252.8" y="1268.1" width="1.25" height="1.25" fill="#c0392b"/>
<rect x="252.6" y="1278.7" width="1.25" height="1.25" fill="#c0392b"/>
<rect x="252.2" y="1274.4" width="1.25" height="1.25" fill="#c0392b"/>
<rect x="254.9" y="1281.8" width="1.25" height="1.25" fill="#c0392b"/>
<rect x="251.9" y="1280.7" width="1.25" height="1.25" fill="#c0392b"/>
<rect x="253.4" y="1270.2" width="1.25" height="1.25" fill="#c0392b"/>
<rect x="252.6" y="1273.6" width="1.25" height="1.25" fill="#c0392b"/>
<rect x="252.8" y="1270.2" width="1.25" height="1.25" fill="#c0392b"/>
<rect x="254.1" y="1260.3" width="1.25" height="1.25" fill="#c0392b"/>
<rect x="256.2" y="1278.6" width="1.25" height="1.25" fill="#c0392b"/>
<rect x="255.3" y="1270.7" width="1.25" height="1.25" fill="#c0392b"/>
<rect x="254.2" y="1268.0" width="1.25" height="1.25" fill="#c0392b"/>
<rect x="251.6" y="1288.5" width="1.25" height="1.25" fill="#c0392b"/>
<rect x="253.1" y="1279.7" width="1.25" height="1.25" fill="#c0392b"/>
<rect x="253.2" y="1273.0" width="1.25" height="1.25" fill="#c0392b"/>
<rect x="252.9" y="1271.5" width="1.25" height="1.25" fill="#c0392b"/>
<rect x="253.7" y="1265.7" width="1.25" height="1.25" fill="#c0392b"/>
<rect x="253.2" y="1266.2" width="1.25" height="1.25" fill="#c0392b"/>
<rect x="253.7" y="1263.0" width="1.25" height="1.25" fill="#c0392b"/>
<rect x="254.3" y="1265.5" width="1.25" height="1.25" fill="#c0392b"/>
<rect x="251.6" y="1278.2" width="1.25" height="1.25" fill="#c0392b"/>
<rect x="252.1" y="1273.3" width="1.25" height="1.25" fill="#c0392b"/>
<rect x="253.6" y="1273.4" width="1.25" height="1.25" fill="#c0392b"/>
<rect x="252.6" y="1278.8" width="1.25" height="1.25" fill="#c0392b"/>
<rect x="253.2" y="1268.6" width="1.25" height="1.25" fill="#c0392b"/>
<rect x="251.8" y="1286.7" width="1.25" height="1.25" fill="#c0392b"/>
<rect x="253.3" y="1280.7" width="1.25" height="1.25" fill="#c0392b"/>
<rect x="252.8" y="1280.1" width="1.25" height="1.25" fill="#c0392b"/>
<rect x="255.0" y="1279.0" width="1.25" height="1.25" fill="#c0392b"/>
<rect x="253.0" y="1280.1" width="1.25" height="1.25" fill="#c0392b"/>
<rect x="255.1" y="1273.9" width="1.25" height="1.25" fill="#c0392b"/>
<rect x="256.4" y="1286.2" width="1.25" height="1.25" fill="#c0392b"/>
<rect x="253.9" y="1260.2" width="1.25" height="1.25" fill="#c0392b"/>
<rect x="255.5" y="1270.7" width="1.25" height="1.25" fill="#c0392b"/>
<rect x="253.2" y="1265.1" width="1.25" height="1.25" fill="#c0392b"/>
<rect x="251.2" y="1281.1" width="1.25" height="1.25" fill="#c0392b"/>
<rect x="252.3" y="1277.6" width="1.25" height="1.25" fill="#c0392b"/>
<rect x="253.8" y="1276.5" width="1.25" height="1.25" fill="#c0392b"/>
<rect x="255.5" y="1280.0" width="1.25" height="1.25" fill="#c0392b"/>
<rect x="252.3" y="1288.3" width="1.25" height="1.25" fill="#c0392b"/>
<rect x="254.9" y="1286.3" width="1.25" height="1.25" fill="#c0392b"/>
<rect x="256.5" y="1281.9" width="1.25" height="1.25" fill="#c0392b"/>
<rect x="254.2" y="1284.7" width="1.25" height="1.25" fill="#c0392b"/>
<rect x="253.0" y="1276.3" width="1.25" height="1.25" fill="#c0392b"/>
<rect x="253.8" y="1270.4" width="1.25" height="1.25" fill="#c0392b"/>
<rect x="253.2" y="1268.3" width="1.25" height="1.25" fill="#c0392b"/>
<rect x="252.9" y="1266.5" width="1.25" height="1.25" fill="#c0392b"/>
<rect x="253.3" y="1261.4" width="1.25" height="1.25" fill="#c0392b"/>
<rect x="253.2" y="1281.6" width="1.25" height="1.25" fill="#c0392b"/>
<rect x="251.5" y="1283.7" width="1.25" height="1.25" fill="#c0392b"/>
<rect x="250.8" y="1286.4" width="1.25" height="1.25" fill="#c0392b"/>
<rect x="254.7" y="1269.1" width="1.25" height="1.25" fill="#c0392b"/>
<rect x="252.7" y="1273.6" width="1.25" height="1.25" fill="#c0392b"/>
<rect x="252.5" y="1282.1" width="1.25" height="1.25" fill="#c0392b"/>
<rect x="255.6" y="1283.7" width="1.25" height="1.25" fill="#c0392b"/>
<rect x="254.7" y="1278.3" width="1.25" height="1.25" fill="#c0392b"/>
<rect x="255.3" y="1280.2" width="1.25" height="1.25" fill="#c0392b"/>
<rect x="254.2" y="1264.4" width="1.25" height="1.25" fill="#c0392b"/>
<rect x="252.5" y="1268.0" width="1.25" height="1.25" fill="#c0392b"/>
<rect x="256.2" y="1279.3" width="1.25" height="1.25" fill="#c0392b"/>
<rect x="253.6" y="1265.0" width="1.25" height="1.25" fill="#c0392b"/>
<rect x="256.1" y="1280.0" width="1.25" height="1.25" fill="#c0392b"/>
<rect x="255.0" y="1288.5" width="1.25" height="1.25" fill="#c0392b"/>
<rect x="253.4" y="1263.8" width="1.25" height="1.25" fill="#c0392b"/>
<rect x="251.4" y="1283.1" width="1.25" height="1.25" fill="#c0392b"/>
<rect x="253.8" y="1271.1" width="1.25" height="1.25" fill="#c0392b"/>
<rect x="252.7" y="1275.9" width="1.25" height="1.25" fill="#c0392b"/>
<rect x="252.1" y="1284.7" width="1.25" height="1.25" fill="#c0392b"/>
<rect x="254.8" y="1273.5" width="1.25" height="1.25" fill="#c0392b"/>
<rect x="254.8" y="1288.7" width="1.25" height="1.25" fill="#c0392b"/>
<rect x="252.0" y="1278.1" width="1.25" height="1.25" fill="#c0392b"/>
<rect x="255.0" y="1266.0" width="1.25" height="1.25" fill="#c0392b"/>
<rect x="252.7" y="1269.0" width="1.25" height="1.25" fill="#c0392b"/>
<rect x="253.9" y="1270.9" width="1.25" height="1.25" fill="#c0392b"/>
<rect x="253.3" y="1265.3" width="1.25" height="1.25" fill="#c0392b"/>
<rect x="253.3" y="1268.2" width="1.25" height="1.25" fill="#c0392b"/>
<rect x="252.5" y="1268.9" width="1.25" height="1.25" fill="#c0392b"/>
<rect x="250.9" y="1286.5" width="1.25" height="1.25" fill="#c0392b"/>
<rect x="255.2" y="1266.6" width="1.25" height="1.25" fill="#c0392b"/>
<rect x="253.7" y="1267.7" width="1.25" height="1.25" fill="#c0392b"/>
<rect x="253.2" y="1274.4" width="1.25" height="1.25" fill="#c0392b"/>
<rect x="254.1" y="1261.6" width="1.25" height="1.25" fill="#c0392b"/>
<rect x="256.1" y="1279.7" width="1.25" height="1.25" fill="#c0392b"/>
<rect x="253.0" y="1286.4" width="1.25" height="1.25" fill="#c0392b"/>
<rect x="251.5" y="1285.4" width="1.25" height="1.25" fill="#c0392b"/>
<rect x="253.5" y="1259.6" width="1.25" height="1.25" fill="#c0392b"/>
<rect x="254.3" y="1262.2" width="1.25" height="1.25" fill="#c0392b"/>
<rect x="252.3" y="1270.9" width="1.25" height="1.25" fill="#c0392b"/>
<rect x="252.6" y="1268.0" width="1.25" height="1.25" fill="#c0392b"/>
<rect x="255.1" y="1277.6" width="1.25" height="1.25" fill="#c0392b"/>
<rect x="255.4" y="1282.7" width="1.25" height="1.25" fill="#c0392b"/>
<rect x="256.9" y="1285.3" width="1.25" height="1.25" fill="#c0392b"/>
<rect x="253.6" y="1263.9" width="1.25" height="1.25" fill="#c0392b"/>
<rect x="256.1" y="1281.8" width="1.25" height="1.25" fill="#c0392b"/>
<rect x="253.6" y="1259.8" width="1.25" height="1.25" fill="#c0392b"/>
<rect x="254.3" y="1273.2" width="1.25" height="1.25" fill="#c0392b"/>
<rect x="254.3" y="1284.5" width="1.25" height="1.25" fill="#c0392b"/>
<rect x="255.3" y="1272.1" width="1.25" height="1.25" fill="#c0392b"/>
<rect x="253.1" y="1270.9" width="1.25" height="1.25" fill="#c0392b"/>
<rect x="255.0" y="1282.7" width="1.25" height="1.25" fill="#c0392b"/>
<rect x="252.1" y="1278.0" width="1.25" height="1.25" fill="#c0392b"/>
<rect x="253.5" y="1263.4" width="1.25" height="1.25" fill="#c0392b"/>
<rect x="253.6" y="1274.1" width="1.25" height="1.25" fill="#c0392b"/>
<rect x="253.8" y="1273.6" width="1.25" height="1.25" fill="#c0392b"/>
<rect x="256.3" y="1287.8" width="1.25" height="1.25" fill="#c0392b"/>
<rect x="252.4" y="1271.5" width="1.25" height="1.25" fill="#c0392b"/>
<rect x="257.1" y="1288.9" width="1.25" height="1.25" fill="#c0392b"/>
<rect x="254.4" y="1267.8" width="1.25" height="1.25" fill="#c0392b"/>
<rect x="254.2" y="1266.3" width="1.25" height="1.25" fill="#c0392b"/>
<rect x="251.3" y="1287.8" width="1.25" height="1.25" fill="#c0392b"/>
<rect x="252.4" y="1272.8" width="1.25" height="1.25" fill="#c0392b"/>
<rect x="254.3" y="1280.1" width="1.25" height="1.25" fill="#c0392b"/>
<rect x="254.9" y="1267.8" width="1.25" height="1.25" fill="#c0392b"/>
<rect x="253.4" y="1285.9" width="1.25" height="1.25" fill="#c0392b"/>
<rect x="255.4" y="1278.0" width="1.25" height="1.25" fill="#c0392b"/>
<rect x="254.5" y="1281.6" width="1.25" height="1.25" fill="#c0392b"/>
<rect x="252.6" y="1274.1" width="1.25" height="1.25" fill="#c0392b"/>
<rect x="253.6" y="1279.3" width="1.25" height="1.25" fill="#c0392b"/>
<rect x="253.8" y="1260.4" width="1.25" height="1.25" fill="#c0392b"/>
<rect x="256.0" y="1279.2" width="1.25" height="1.25" fill="#c0392b"/>
<rect x="255.1" y="1265.5" width="1.25" height="1.25" fill="#c0392b"/>
<rect x="255.0" y="1282.7" width="1.25" height="1.25" fill="#c0392b"/>
<rect x="256.3" y="1288.9" width="1.25" height="1.25" fill="#c0392b"/>
<rect x="253.8" y="1265.0" width="1.25" height="1.25" fill="#c0392b"/>
<rect x="260.1" y="1281.2" width="1.25" height="1.25" fill="#c0392b"/>
<rect x="269.0" y="1288.5" width="1.25" height="1.25" fill="#c0392b"/>
<rect x="268.4" y="1275.9" width="1.25" height="1.25" fill="#c0392b"/>
<rect x="271.3" y="1264.5" width="1.25" height="1.25" fill="#c0392b"/>
<rect x="265.8" y="1253.0" width="1.25" height="1.25" fill="#c0392b"/>
<rect x="255.0" y="1279.3" width="1.25" height="1.25" fill="#c0392b"/>
<rect x="267.0" y="1279.9" width="1.25" height="1.25" fill="#c0392b"/>
<rect x="257.2" y="1279.7" width="1.25" height="1.25" fill="#c0392b"/>
<rect x="259.1" y="1248.8" width="1.25" height="1.25" fill="#c0392b"/>
<rect x="253.0" y="1282.8" width="1.25" height="1.25" fill="#c0392b"/>
<rect x="271.6" y="1252.4" width="1.25" height="1.25" fill="#c0392b"/>
<rect x="253.7" y="1271.7" width="1.25" height="1.25" fill="#c0392b"/>
<rect x="262.3" y="1288.2" width="1.25" height="1.25" fill="#c0392b"/>
<rect x="253.9" y="1283.3" width="1.25" height="1.25" fill="#c0392b"/>
<rect x="253.0" y="1274.0" width="1.25" height="1.25" fill="#c0392b"/>
<rect x="265.3" y="1259.4" width="1.25" height="1.25" fill="#c0392b"/>
<rect x="267.2" y="1256.7" width="1.25" height="1.25" fill="#c0392b"/>
<rect x="267.2" y="1252.3" width="1.25" height="1.25" fill="#c0392b"/>
<rect x="254.8" y="1265.0" width="1.25" height="1.25" fill="#c0392b"/>
<rect x="256.3" y="1286.1" width="1.25" height="1.25" fill="#c0392b"/>
<rect x="257.5" y="1275.1" width="1.25" height="1.25" fill="#c0392b"/>
<rect x="255.9" y="1258.1" width="1.25" height="1.25" fill="#c0392b"/>
<rect x="269.2" y="1272.4" width="1.25" height="1.25" fill="#c0392b"/>
<rect x="262.0" y="1262.5" width="1.25" height="1.25" fill="#c0392b"/>
<rect x="264.4" y="1286.2" width="1.25" height="1.25" fill="#c0392b"/>
<rect x="258.0" y="1254.8" width="1.25" height="1.25" fill="#c0392b"/>
<rect x="269.0" y="1283.1" width="1.25" height="1.25" fill="#c0392b"/>
<rect x="272.4" y="1274.4" width="1.25" height="1.25" fill="#c0392b"/>
<rect x="253.7" y="1271.0" width="1.25" height="1.25" fill="#c0392b"/>
<rect x="260.5" y="1262.9" width="1.25" height="1.25" fill="#c0392b"/>
<rect x="264.1" y="1286.7" width="1.25" height="1.25" fill="#c0392b"/>
<rect x="258.7" y="1274.2" width="1.25" height="1.25" fill="#c0392b"/>
<rect x="259.0" y="1255.5" width="1.25" height="1.25" fill="#c0392b"/>
<rect x="262.1" y="1280.8" width="1.25" height="1.25" fill="#c0392b"/>
<rect x="271.8" y="1268.6" width="1.25" height="1.25" fill="#c0392b"/>
<rect x="259.7" y="1248.2" width="1.25" height="1.25" fill="#c0392b"/>
<rect x="257.1" y="1276.4" width="1.25" height="1.25" fill="#c0392b"/>
<rect x="252.0" y="1284.2" width="1.25" height="1.25" fill="#c0392b"/>
<rect x="257.8" y="1272.4" width="1.25" height="1.25" fill="#c0392b"/>
<rect x="265.8" y="1265.0" width="1.25" height="1.25" fill="#c0392b"/>
<rect x="256.9" y="1287.7" width="1.25" height="1.25" fill="#c0392b"/>
<rect x="264.9" y="1281.1" width="1.25" height="1.25" fill="#c0392b"/>
<rect x="258.2" y="1288.7" width="1.25" height="1.25" fill="#c0392b"/>
<rect x="256.4" y="1262.1" width="1.25" height="1.25" fill="#c0392b"/>
<rect x="256.3" y="1288.3" width="1.25" height="1.25" fill="#c0392b"/>
<rect x="268.5" y="1250.7" width="1.25" height="1.25" fill="#c0392b"/>
<rect x="266.0" y="1248.0" width="1.25" height="1.25" fill="#c0392b"/>
<rect x="256.0" y="1272.0" width="1.25" height="1.25" fill="#c0392b"/>
<rect x="267.0" y="1280.4" width="1.25" height="1.25" fill="#c0392b"/>
<rect x="254.8" y="1249.6" width="1.25" height="1.25" fill="#c0392b"/>
<rect x="270.4" y="1282.5" width="1.25" height="1.25" fill="#c0392b"/>
<rect x="263.2" y="1245.4" width="1.25" height="1.25" fill="#c0392b"/>
<rect x="268.7" y="1268.0" width="1.25" height="1.25" fill="#c0392b"/>
<rect x="255.6" y="1257.7" width="1.25" height="1.25" fill="#c0392b"/>
<rect x="254.0" y="1269.6" width="1.25" height="1.25" fill="#c0392b"/>
<rect x="268.5" y="1267.1" width="1.25" height="1.25" fill="#c0392b"/>
<rect x="255.0" y="1255.3" width="1.25" height="1.25" fill="#c0392b"/>
<rect x="263.7" y="1254.0" width="1.25" height="1.25" fill="#c0392b"/>
<rect x="264.0" y="1267.6" width="1.25" height="1.25" fill="#c0392b"/>
<rect x="257.8" y="1282.7" width="1.25" height="1.25" fill="#c0392b"/>
<rect x="270.7" y="1244.8" width="1.25" height="1.25" fill="#c0392b"/>
<rect x="254.0" y="1277.0" width="1.25" height="1.25" fill="#c0392b"/>
<rect x="254.4" y="1267.9" width="1.25" height="1.25" fill="#c0392b"/>
<rect x="253.3" y="1272.9" width="1.25" height="1.25" fill="#c0392b"/>
<rect x="257.0" y="1262.8" width="1.25" height="1.25" fill="#c0392b"/>
<rect x="266.0" y="1258.9" width="1.25" height="1.25" fill="#c0392b"/>
<rect x="261.2" y="1283.7" width="1.25" height="1.25" fill="#c0392b"/>
<rect x="242.7" y="1301.6" width="1.25" height="1.25" fill="#bcbcbc"/>
<rect x="249.9" y="1297.3" width="1.25" height="1.25" fill="#bcbcbc"/>
<rect x="252.6" y="1292.3" width="1.25" height="1.25" fill="#bcbcbc"/>
<rect x="249.3" y="1304.7" width="1.25" height="1.25" fill="#bcbcbc"/>
<rect x="242.0" y="1291.4" width="1.25" height="1.25" fill="#bcbcbc"/>
<rect x="250.8" y="1299.1" width="1.25" height="1.25" fill="#bcbcbc"/>
<rect x="236.9" y="1295.6" width="1.25" height="1.25" fill="#bcbcbc"/>
<rect x="254.3" y="1291.0" width="1.25" height="1.25" fill="#bcbcbc"/>
<rect x="255.9" y="1295.8" width="1.25" height="1.25" fill="#bcbcbc"/>
<rect x="243.9" y="1298.9" width="1.25" height="1.25" fill="#bcbcbc"/>
<rect x="243.4" y="1303.5" width="1.25" height="1.25" fill="#bcbcbc"/>
<rect x="252.4" y="1303.6" width="1.25" height="1.25" fill="#bcbcbc"/>
<rect x="241.6" y="1295.3" width="1.25" height="1.25" fill="#bcbcbc"/>
<rect x="248.4" y="1301.6" width="1.25" height="1.25" fill="#bcbcbc"/>
<rect x="255.3" y="1292.5" width="1.25" height="1.25" fill="#bcbcbc"/>
<rect x="248.8" y="1307.9" width="1.25" height="1.25" fill="#bcbcbc"/>
<rect x="242.7" y="1298.9" width="1.25" height="1.25" fill="#bcbcbc"/>
<rect x="243.8" y="1305.3" width="1.25" height="1.25" fill="#bcbcbc"/>
<rect x="251.1" y="1295.6" width="1.25" height="1.25" fill="#bcbcbc"/>
<rect x="237.1" y="1297.7" width="1.25" height="1.25" fill="#bcbcbc"/>
<rect x="239.5" y="1304.5" width="1.25" height="1.25" fill="#bcbcbc"/>
<rect x="251.8" y="1301.4" width="1.25" height="1.25" fill="#bcbcbc"/>
<rect x="251.3" y="1302.7" width="1.25" height="1.25" fill="#bcbcbc"/>
<rect x="236.7" y="1290.7" width="1.25" height="1.25" fill="#bcbcbc"/>
<rect x="253.6" y="1290.2" width="1.25" height="1.25" fill="#bcbcbc"/>
<rect x="244.6" y="1305.3" width="1.25" height="1.25" fill="#bcbcbc"/>
<rect x="240.1" y="1292.3" width="1.25" height="1.25" fill="#bcbcbc"/>
<rect x="254.0" y="1300.5" width="1.25" height="1.25" fill="#bcbcbc"/>
<rect x="238.2" y="1300.4" width="1.25" height="1.25" fill="#bcbcbc"/>
<rect x="247.2" y="1310.8" width="1.25" height="1.25" fill="#bcbcbc"/>
<rect x="240.7" y="1302.6" width="1.25" height="1.25" fill="#bcbcbc"/>
<rect x="236.4" y="1299.4" width="1.25" height="1.25" fill="#bcbcbc"/>
<rect x="251.1" y="1295.3" width="1.25" height="1.25" fill="#bcbcbc"/>
<rect x="242.5" y="1293.7" width="1.25" height="1.25" fill="#bcbcbc"/>
<rect x="249.1" y="1296.7" width="1.25" height="1.25" fill="#bcbcbc"/>
<rect x="249.2" y="1300.2" width="1.25" height="1.25" fill="#bcbcbc"/>
<rect x="249.1" y="1305.8" width="1.25" height="1.25" fill="#bcbcbc"/>
<rect x="249.3" y="1305.5" width="1.25" height="1.25" fill="#bcbcbc"/>
<rect x="239.3" y="1301.2" width="1.25" height="1.25" fill="#bcbcbc"/>
<rect x="241.9" y="1297.8" width="1.25" height="1.25" fill="#bcbcbc"/>
<rect x="252.0" y="1294.2" width="1.25" height="1.25" fill="#bcbcbc"/>
<rect x="248.2" y="1307.8" width="1.25" height="1.25" fill="#bcbcbc"/>
<rect x="249.2" y="1303.4" width="1.25" height="1.25" fill="#bcbcbc"/>
<rect x="251.5" y="1303.3" width="1.25" height="1.25" fill="#bcbcbc"/>
<rect x="239.1" y="1299.4" width="1.25" height="1.25" fill="#bcbcbc"/>
<rect x="251.3" y="1295.8" width="1.25" height="1.25" fill="#bcbcbc"/>
<rect x="243.0" y="1299.7" width="1.25" height="1.25" fill="#bcbcbc"/>
<rect x="252.6" y="1291.8" width="1.25" height="1.25" fill="#bcbcbc"/>
<rect x="251.3" y="1306.1" width="1.25" height="1.25" fill="#bcbcbc"/>
<rect x="229.9" y="1291.8" width="1.25" height="1.25" fill="#bcbcbc"/>
<rect x="247.2" y="1309.9" width="1.25" height="1.25" fill="#bcbcbc"/>
<rect x="235.0" y="1293.1" width="1.25" height="1.25" fill="#bcbcbc"/>
<rect x="253.9" y="1292.8" width="1.25" height="1.25" fill="#bcbcbc"/>
<rect x="254.4" y="1293.9" width="1.25" height="1.25" fill="#bcbcbc"/>
<rect x="250.2" y="1302.7" width="1.25" height="1.25" fill="#bcbcbc"/>
<rect x="254.1" y="1300.5" width="1.25" height="1.25" fill="#bcbcbc"/>
<rect x="241.8" y="1292.6" width="1.25" height="1.25" fill="#bcbcbc"/>
<rect x="249.7" y="1295.1" width="1.25" height="1.25" fill="#bcbcbc"/>
<rect x="242.1" y="1307.0" width="1.25" height="1.25" fill="#bcbcbc"/>
<rect x="247.1" y="1310.2" width="1.25" height="1.25" fill="#bcbcbc"/>
<rect x="247.2" y="1310.7" width="1.25" height="1.25" fill="#bcbcbc"/>
<rect x="247.2" y="1308.3" width="1.25" height="1.25" fill="#bcbcbc"/>
<rect x="240.4" y="1298.6" width="1.25" height="1.25" fill="#bcbcbc"/>
<rect x="250.6" y="1296.3" width="1.25" height="1.25" fill="#bcbcbc"/>
<rect x="250.1" y="1302.9" width="1.25" height="1.25" fill="#bcbcbc"/>
<rect x="256.2" y="1296.7" width="1.25" height="1.25" fill="#bcbcbc"/>
<rect x="244.9" y="1310.6" width="1.25" height="1.25" fill="#bcbcbc"/>
<rect x="237.7" y="1294.1" width="1.25" height="1.25" fill="#bcbcbc"/>
<rect x="242.0" y="1302.5" width="1.25" height="1.25" fill="#bcbcbc"/>
<rect x="248.5" y="1304.9" width="1.25" height="1.25" fill="#bcbcbc"/>
<rect x="252.7" y="1300.1" width="1.25" height="1.25" fill="#bcbcbc"/>
<rect x="250.1" y="1302.5" width="1.25" height="1.25" fill="#bcbcbc"/>
<rect x="235.7" y="1298.9" width="1.25" height="1.25" fill="#bcbcbc"/>
<rect x="254.2" y="1301.7" width="1.25" height="1.25" fill="#bcbcbc"/>
<rect x="237.4" y="1292.1" width="1.25" height="1.25" fill="#bcbcbc"/>
<rect x="245.7" y="1310.2" width="1.25" height="1.25" fill="#bcbcbc"/>
<rect x="241.5" y="1290.1" width="1.25" height="1.25" fill="#bcbcbc"/>
<rect x="256.0" y="1298.8" width="1.25" height="1.25" fill="#bcbcbc"/>
<rect x="242.2" y="1291.7" width="1.25" height="1.25" fill="#bcbcbc"/>
<rect x="235.9" y="1299.8" width="1.25" height="1.25" fill="#bcbcbc"/>
<rect x="243.7" y="1305.4" width="1.25" height="1.25" fill="#bcbcbc"/>
<rect x="243.2" y="1305.3" width="1.25" height="1.25" fill="#bcbcbc"/>
<rect x="256.9" y="1298.5" width="1.25" height="1.25" fill="#bcbcbc"/>
<rect x="245.1" y="1309.3" width="1.25" height="1.25" fill="#bcbcbc"/>
<rect x="240.1" y="1301.3" width="1.25" height="1.25" fill="#bcbcbc"/>
<rect x="242.1" y="1290.9" width="1.25" height="1.25" fill="#bcbcbc"/>
<rect x="249.9" y="1297.3" width="1.25" height="1.25" fill="#bcbcbc"/>
<rect x="233.6" y="1296.7" width="1.25" height="1.25" fill="#bcbcbc"/>
<rect x="245.0" y="1310.7" width="1.25" height="1.25" fill="#bcbcbc"/>
<rect x="245.3" y="1310.4" width="1.25" height="1.25" fill="#bcbcbc"/>
<rect x="250.2" y="1307.6" width="1.25" height="1.25" fill="#bcbcbc"/>
<rect x="230.6" y="1292.4" width="1.25" height="1.25" fill="#bcbcbc"/>
<rect x="240.7" y="1290.9" width="1.25" height="1.25" fill="#bcbcbc"/>
<rect x="241.2" y="1297.3" width="1.25" height="1.25" fill="#bcbcbc"/>
<rect x="236.4" y="1293.9" width="1.25" height="1.25" fill="#bcbcbc"/>
<rect x="244.4" y="1302.0" width="1.25" height="1.25" fill="#bcbcbc"/>
<rect x="229.9" y="1291.9" width="1.25" height="1.25" fill="#bcbcbc"/>
<rect x="247.7" y="1308.4" width="1.25" height="1.25" fill="#bcbcbc"/>
<rect x="249.3" y="1295.5" width="1.25" height="1.25" fill="#bcbcbc"/>
<rect x="247.4" y="1307.1" width="1.25" height="1.25" fill="#bcbcbc"/>
<rect x="251.9" y="1298.8" width="1.25" height="1.25" fill="#bcbcbc"/>
<rect x="235.6" y="1298.5" width="1.25" height="1.25" fill="#bcbcbc"/>
<rect x="243.6" y="1299.8" width="1.25" height="1.25" fill="#bcbcbc"/>
<rect x="250.1" y="1296.3" width="1.25" height="1.25" fill="#bcbcbc"/>
<rect x="245.7" y="1310.1" width="1.25" height="1.25" fill="#bcbcbc"/>
<rect x="250.0" y="1304.8" width="1.25" height="1.25" fill="#bcbcbc"/>
<rect x="244.1" y="1303.1" width="1.25" height="1.25" fill="#bcbcbc"/>
<rect x="252.9" y="1295.8" width="1.25" height="1.25" fill="#bcbcbc"/>
<rect x="243.0" y="1306.5" width="1.25" height="1.25" fill="#bcbcbc"/>
<rect x="245.3" y="1307.5" width="1.25" height="1.25" fill="#bcbcbc"/>
<rect x="244.2" y="1307.0" width="1.25" height="1.25" fill="#bcbcbc"/>
<rect x="239.9" y="1291.3" width="1.25" height="1.25" fill="#bcbcbc"/>
<rect x="234.8" y="1298.6" width="1.25" height="1.25" fill="#bcbcbc"/>
<rect x="241.7" y="1299.2" width="1.25" height="1.25" fill="#bcbcbc"/>
<rect x="244.0" y="1305.1" width="1.25" height="1.25" fill="#bcbcbc"/>
<rect x="250.2" y="1307.5" width="1.25" height="1.25" fill="#bcbcbc"/>
<rect x="242.6" y="1302.9" width="1.25" height="1.25" fill="#bcbcbc"/>
<rect x="245.4" y="1308.1" width="1.25" height="1.25" fill="#bcbcbc"/>
<rect x="239.1" y="1291.0" width="1.25" height="1.25" fill="#bcbcbc"/>
<rect x="242.2" y="1294.1" width="1.25" height="1.25" fill="#bcbcbc"/>
<rect x="243.7" y="1309.3" width="1.25" height="1.25" fill="#bcbcbc"/>
<rect x="243.4" y="1298.2" width="1.25" height="1.25" fill="#bcbcbc"/>
<rect x="244.7" y="1306.0" width="1.25" height="1.25" fill="#bcbcbc"/>
<rect x="233.0" y="1293.6" width="1.25" height="1.25" fill="#bcbcbc"/>
<rect x="248.4" y="1306.3" width="1.25" height="1.25" fill="#bcbcbc"/>
<rect x="247.7" y="1306.3" width="1.25" height="1.25" fill="#bcbcbc"/>
<rect x="244.3" y="1309.1" width="1.25" height="1.25" fill="#bcbcbc"/>
<rect x="244.2" y="1305.2" width="1.25" height="1.25" fill="#bcbcbc"/>
<rect x="241.8" y="1294.7" width="1.25" height="1.25" fill="#bcbcbc"/>
<rect x="252.7" y="1302.1" width="1.25" height="1.25" fill="#bcbcbc"/>
<rect x="244.3" y="1302.2" width="1.25" height="1.25" fill="#bcbcbc"/>
<rect x="233.7" y="1295.6" width="1.25" height="1.25" fill="#bcbcbc"/>
<rect x="246.1" y="1311.2" width="1.25" height="1.25" fill="#bcbcbc"/>
<rect x="242.4" y="1298.0" width="1.25" height="1.25" fill="#bcbcbc"/>
<rect x="247.9" y="1307.6" width="1.25" height="1.25" fill="#bcbcbc"/>
<rect x="246.5" y="1311.6" width="1.25" height="1.25" fill="#bcbcbc"/>
<rect x="260.5" y="1294.9" width="1.25" height="1.25" fill="#bcbcbc"/>
<rect x="255.3" y="1290.7" width="1.25" height="1.25" fill="#bcbcbc"/>
<rect x="242.9" y="1296.9" width="1.25" height="1.25" fill="#bcbcbc"/>
<rect x="241.3" y="1306.5" width="1.25" height="1.25" fill="#bcbcbc"/>
<rect x="259.9" y="1290.7" width="1.25" height="1.25" fill="#bcbcbc"/>
<rect x="242.2" y="1301.6" width="1.25" height="1.25" fill="#bcbcbc"/>
<rect x="242.6" y="1294.7" width="1.25" height="1.25" fill="#bcbcbc"/>
<rect x="246.6" y="1311.1" width="1.25" height="1.25" fill="#bcbcbc"/>
<rect x="251.0" y="1304.1" width="1.25" height="1.25" fill="#bcbcbc"/>
<rect x="249.8" y="1296.2" width="1.25" height="1.25" fill="#bcbcbc"/>
<rect x="252.7" y="1293.8" width="1.25" height="1.25" fill="#bcbcbc"/>
<rect x="249.1" y="1303.4" width="1.25" height="1.25" fill="#bcbcbc"/>
<rect x="244.9" y="1310.0" width="1.25" height="1.25" fill="#bcbcbc"/>
<rect x="243.1" y="1304.1" width="1.25" height="1.25" fill="#bcbcbc"/>
<rect x="252.3" y="1302.9" width="1.25" height="1.25" fill="#bcbcbc"/>
<rect x="246.9" y="1310.4" width="1.25" height="1.25" fill="#bcbcbc"/>
<rect x="241.1" y="1303.3" width="1.25" height="1.25" fill="#bcbcbc"/>
<rect x="239.2" y="1298.2" width="1.25" height="1.25" fill="#bcbcbc"/>
<rect x="255.8" y="1290.1" width="1.25" height="1.25" fill="#bcbcbc"/>
<rect x="252.3" y="1301.5" width="1.25" height="1.25" fill="#bcbcbc"/>
<rect x="248.4" y="1305.0" width="1.25" height="1.25" fill="#bcbcbc"/>
<rect x="248.1" y="1303.1" width="1.25" height="1.25" fill="#bcbcbc"/>
<rect x="249.0" y="1297.7" width="1.25" height="1.25" fill="#bcbcbc"/>
<rect x="241.5" y="1293.7" width="1.25" height="1.25" fill="#bcbcbc"/>
<rect x="243.1" y="1300.4" width="1.25" height="1.25" fill="#bcbcbc"/>
<rect x="259.4" y="1291.5" width="1.25" height="1.25" fill="#bcbcbc"/>
<rect x="240.8" y="1296.3" width="1.25" height="1.25" fill="#bcbcbc"/>
<rect x="242.4" y="1302.8" width="1.25" height="1.25" fill="#bcbcbc"/>
<rect x="249.6" y="1301.2" width="1.25" height="1.25" fill="#bcbcbc"/>
<rect x="252.2" y="1305.0" width="1.25" height="1.25" fill="#bcbcbc"/>
<rect x="251.5" y="1304.6" width="1.25" height="1.25" fill="#bcbcbc"/>
<rect x="245.6" y="1311.3" width="1.25" height="1.25" fill="#bcbcbc"/>
<rect x="249.6" y="1307.7" width="1.25" height="1.25" fill="#bcbcbc"/>
<rect x="245.3" y="1307.8" width="1.25" height="1.25" fill="#bcbcbc"/>
<rect x="244.2" y="1301.1" width="1.25" height="1.25" fill="#bcbcbc"/>
<rect x="248.2" y="1307.9" width="1.25" height="1.25" fill="#bcbcbc"/>
<rect x="252.5" y="1304.6" width="1.25" height="1.25" fill="#bcbcbc"/>
<rect x="239.7" y="1304.6" width="1.25" height="1.25" fill="#bcbcbc"/>
<rect x="261.1" y="1294.1" width="1.25" height="1.25" fill="#bcbcbc"/>
<rect x="247.2" y="1309.2" width="1.25" height="1.25" fill="#bcbcbc"/>
<rect x="253.5" y="1303.9" width="1.25" height="1.25" fill="#bcbcbc"/>
<rect x="241.2" y="1304.1" width="1.25" height="1.25" fill="#bcbcbc"/>
<rect x="251.7" y="1305.1" width="1.25" height="1.25" fill="#bcbcbc"/>
<rect x="243.8" y="1307.1" width="1.25" height="1.25" fill="#bcbcbc"/>
<rect x="246.8" y="1310.6" width="1.25" height="1.25" fill="#bcbcbc"/>
<rect x="245.0" y="1305.9" width="1.25" height="1.25" fill="#bcbcbc"/>
<rect x="242.0" y="1294.2" width="1.25" height="1.25" fill="#bcbcbc"/>
<rect x="241.6" y="1304.1" width="1.25" height="1.25" fill="#bcbcbc"/>
<rect x="250.3" y="1301.9" width="1.25" height="1.25" fill="#bcbcbc"/>
<rect x="242.6" y="1305.5" width="1.25" height="1.25" fill="#bcbcbc"/>
<rect x="244.1" y="1305.4" width="1.25" height="1.25" fill="#bcbcbc"/>
<rect x="245.7" y="1310.3" width="1.25" height="1.25" fill="#bcbcbc"/>
<rect x="247.8" y="1310.7" width="1.25" height="1.25" fill="#bcbcbc"/>
<rect x="247.5" y="1307.2" width="1.25" height="1.25" fill="#bcbcbc"/>
<rect x="249.4" y="1295.5" width="1.25" height="1.25" fill="#bcbcbc"/>
<rect x="239.0" y="1292.6" width="1.25" height="1.25" fill="#bcbcbc"/>
<rect x="244.6" y="1306.6" width="1.25" height="1.25" fill="#bcbcbc"/>
<rect x="246.9" y="1310.4" width="1.25" height="1.25" fill="#bcbcbc"/>
<rect x="242.0" y="1297.9" width="1.25" height="1.25" fill="#bcbcbc"/>
<rect x="247.0" y="1310.9" width="1.25" height="1.25" fill="#bcbcbc"/>
<rect x="246.7" y="1310.7" width="1.25" height="1.25" fill="#bcbcbc"/>
<rect x="248.2" y="1310.1" width="1.25" height="1.25" fill="#bcbcbc"/>
<rect x="253.2" y="1292.2" width="1.25" height="1.25" fill="#bcbcbc"/>
<rect x="249.7" y="1305.4" width="1.25" height="1.25" fill="#bcbcbc"/>
<rect x="241.0" y="1299.9" width="1.25" height="1.25" fill="#bcbcbc"/>
<rect x="237.9" y="1294.8" width="1.25" height="1.25" fill="#bcbcbc"/>
<rect x="257.3" y="1294.7" width="1.25" height="1.25" fill="#bcbcbc"/>
<rect x="248.8" y="1303.4" width="1.25" height="1.25" fill="#bcbcbc"/>
<rect x="243.5" y="1307.7" width="1.25" height="1.25" fill="#bcbcbc"/>
<rect x="255.9" y="1300.7" width="1.25" height="1.25" fill="#bcbcbc"/>
<rect x="244.8" y="1310.7" width="1.25" height="1.25" fill="#bcbcbc"/>
<rect x="244.9" y="1309.5" width="1.25" height="1.25" fill="#bcbcbc"/>
<rect x="258.2" y="1290.1" width="1.25" height="1.25" fill="#bcbcbc"/>
<rect x="236.1" y="1300.3" width="1.25" height="1.25" fill="#bcbcbc"/>
<rect x="242.6" y="1301.6" width="1.25" height="1.25" fill="#bcbcbc"/>
<rect x="247.9" y="1304.7" width="1.25" height="1.25" fill="#bcbcbc"/>
<rect x="244.6" y="1305.9" width="1.25" height="1.25" fill="#bcbcbc"/>
<rect x="248.1" y="1303.1" width="1.25" height="1.25" fill="#bcbcbc"/>
<rect x="257.9" y="1292.0" width="1.25" height="1.25" fill="#bcbcbc"/>
<rect x="239.5" y="1304.1" width="1.25" height="1.25" fill="#bcbcbc"/>
<rect x="249.5" y="1308.8" width="1.25" height="1.25" fill="#bcbcbc"/>
<rect x="245.3" y="1309.2" width="1.25" height="1.25" fill="#bcbcbc"/>
<rect x="258.7" y="1290.7" width="1.25" height="1.25" fill="#bcbcbc"/>
<rect x="245.4" y="1309.1" width="1.25" height="1.25" fill="#bcbcbc"/>
<rect x="248.2" y="1307.6" width="1.25" height="1.25" fill="#bcbcbc"/>
<rect x="249.5" y="1298.8" width="1.25" height="1.25" fill="#bcbcbc"/>
<rect x="240.3" y="1300.2" width="1.25" height="1.25" fill="#bcbcbc"/>
<rect x="252.6" y="1299.7" width="1.25" height="1.25" fill="#bcbcbc"/>
<rect x="255.9" y="1292.4" width="1.25" height="1.25" fill="#bcbcbc"/>
<rect x="251.7" y="1302.7" width="1.25" height="1.25" fill="#bcbcbc"/>
<rect x="254.2" y="1301.7" width="1.25" height="1.25" fill="#bcbcbc"/>
<rect x="241.0" y="1292.1" width="1.25" height="1.25" fill="#bcbcbc"/>
<rect x="248.7" y="1306.2" width="1.25" height="1.25" fill="#bcbcbc"/>
<rect x="242.5" y="1304.8" width="1.25" height="1.25" fill="#bcbcbc"/>
<rect x="255.0" y="1292.3" width="1.25" height="1.25" fill="#bcbcbc"/>
<rect x="250.3" y="1299.3" width="1.25" height="1.25" fill="#bcbcbc"/>
<rect x="240.3" y="1300.1" width="1.25" height="1.25" fill="#bcbcbc"/>
<rect x="250.9" y="1295.6" width="1.25" height="1.25" fill="#bcbcbc"/>
<rect x="246.6" y="1310.8" width="1.25" height="1.25" fill="#bcbcbc"/>
<rect x="240.0" y="1303.3" width="1.25" height="1.25" fill="#bcbcbc"/>
<rect x="254.1" y="1299.3" width="1.25" height="1.25" fill="#bcbcbc"/>
<rect x="248.8" y="1303.2" width="1.25" height="1.25" fill="#bcbcbc"/>
<rect x="249.5" y="1305.3" width="1.25" height="1.25" fill="#bcbcbc"/>
<rect x="245.7" y="1311.4" width="1.25" height="1.25" fill="#bcbcbc"/>
<rect x="243.8" y="1303.4" width="1.25" height="1.25" fill="#bcbcbc"/>
<rect x="249.2" y="1303.0" width="1.25" height="1.25" fill="#bcbcbc"/>
<rect x="247.6" y="1310.2" width="1.25" height="1.25" fill="#bcbcbc"/>
<rect x="254.4" y="1297.1" width="1.25" height="1.25" fill="#bcbcbc"/>
<rect x="239.2" y="1292.7" width="1.25" height="1.25" fill="#bcbcbc"/>
<rect x="251.0" y="1302.2" width="1.25" height="1.25" fill="#bcbcbc"/>
<rect x="246.9" y="1310.8" width="1.25" height="1.25" fill="#bcbcbc"/>
<rect x="240.8" y="1291.5" width="1.25" height="1.25" fill="#bcbcbc"/>
<rect x="251.1" y="1305.6" width="1.25" height="1.25" fill="#bcbcbc"/>
<rect x="249.1" y="1299.1" width="1.25" height="1.25" fill="#bcbcbc"/>
<rect x="242.3" y="1303.2" width="1.25" height="1.25" fill="#bcbcbc"/>
<rect x="249.1" y="1299.4" width="1.25" height="1.25" fill="#bcbcbc"/>
<rect x="242.9" y="1297.6" width="1.25" height="1.25" fill="#bcbcbc"/>
<rect x="235.8" y="1290.8" width="1.25" height="1.25" fill="#bcbcbc"/>
<rect x="241.0" y="1290.8" width="1.25" height="1.25" fill="#bcbcbc"/>
<rect x="240.4" y="1301.4" width="1.25" height="1.25" fill="#bcbcbc"/>
<rect x="249.9" y="1297.1" width="1.25" height="1.25" fill="#bcbcbc"/>
<rect x="248.4" y="1305.8" width="1.25" height="1.25" fill="#bcbcbc"/>
<rect x="244.0" y="1309.3" width="1.25" height="1.25" fill="#bcbcbc"/>
<rect x="243.8" y="1305.7" width="1.25" height="1.25" fill="#bcbcbc"/>
<rect x="248.6" y="1308.0" width="1.25" height="1.25" fill="#bcbcbc"/>
<rect x="245.9" y="1311.4" width="1.25" height="1.25" fill="#bcbcbc"/>
<rect x="248.3" y="1303.7" width="1.25" height="1.25" fill="#bcbcbc"/>
<rect x="247.3" y="1311.0" width="1.25" height="1.25" fill="#bcbcbc"/>
<rect x="244.2" y="1309.5" width="1.25" height="1.25" fill="#bcbcbc"/>
<rect x="245.3" y="1310.0" width="1.25" height="1.25" fill="#bcbcbc"/>
<rect x="248.5" y="1303.8" width="1.25" height="1.25" fill="#bcbcbc"/>
<rect x="245.0" y="1309.4" width="1.25" height="1.25" fill="#bcbcbc"/>
<rect x="257.8" y="1291.7" width="1.25" height="1.25" fill="#bcbcbc"/>
<rect x="233.7" y="1291.4" width="1.25" height="1.25" fill="#bcbcbc"/>
<rect x="244.8" y="1305.3" width="1.25" height="1.25" fill="#bcbcbc"/>
<rect x="258.8" y="1291.3" width="1.25" height="1.25" fill="#bcbcbc"/>
<rect x="248.5" y="1301.4" width="1.25" height="1.25" fill="#bcbcbc"/>
<rect x="231.9" y="1292.8" width="1.25" height="1.25" fill="#bcbcbc"/>
<rect x="248.0" y="1304.0" width="1.25" height="1.25" fill="#bcbcbc"/>
<rect x="249.6" y="1294.0" width="1.25" height="1.25" fill="#bcbcbc"/>
<rect x="243.9" y="1307.3" width="1.25" height="1.25" fill="#bcbcbc"/>
<rect x="248.8" y="1298.5" width="1.25" height="1.25" fill="#bcbcbc"/>
<rect x="246.9" y="1310.2" width="1.25" height="1.25" fill="#bcbcbc"/>
<rect x="253.5" y="1290.5" width="1.25" height="1.25" fill="#bcbcbc"/>
<rect x="242.8" y="1294.4" width="1.25" height="1.25" fill="#bcbcbc"/>
<rect x="248.5" y="1308.6" width="1.25" height="1.25" fill="#bcbcbc"/>
<rect x="255.8" y="1294.8" width="1.25" height="1.25" fill="#bcbcbc"/>
<rect x="253.5" y="1301.6" width="1.25" height="1.25" fill="#bcbcbc"/>
<rect x="251.5" y="1298.7" width="1.25" height="1.25" fill="#bcbcbc"/>
<rect x="243.5" y="1302.2" width="1.25" height="1.25" fill="#bcbcbc"/>
<rect x="249.1" y="1297.2" width="1.25" height="1.25" fill="#bcbcbc"/>
<rect x="247.7" y="1307.7" width="1.25" height="1.25" fill="#bcbcbc"/>
<rect x="255.8" y="1294.9" width="1.25" height="1.25" fill="#bcbcbc"/>
<rect x="247.6" y="1306.6" width="1.25" height="1.25" fill="#bcbcbc"/>
<rect x="238.5" y="1301.6" width="1.25" height="1.25" fill="#bcbcbc"/>
<rect x="246.2" y="1311.5" width="1.25" height="1.25" fill="#bcbcbc"/>
<rect x="253.2" y="1296.1" width="1.25" height="1.25" fill="#bcbcbc"/>
<rect x="248.3" y="1301.9" width="1.25" height="1.25" fill="#bcbcbc"/>
<rect x="259.0" y="1297.1" width="1.25" height="1.25" fill="#bcbcbc"/>
<rect x="242.9" y="1292.1" width="1.25" height="1.25" fill="#bcbcbc"/>
<rect x="256.6" y="1293.9" width="1.25" height="1.25" fill="#bcbcbc"/>
<rect x="249.0" y="1306.7" width="1.25" height="1.25" fill="#bcbcbc"/>
<rect x="247.3" y="1310.5" width="1.25" height="1.25" fill="#bcbcbc"/>
<rect x="241.7" y="1302.6" width="1.25" height="1.25" fill="#bcbcbc"/></g>
<g id="panelB"><text x="658.4" y="120.5" font-size="14.6" textLength="45.3" lengthAdjust="spacingAndGlyphs" stroke="#000" stroke-width="0.3" >Group</text>
<rect x="724.2" y="107.6" width="16.1" height="15.8" fill="#eaeaee" stroke="#8faad4" stroke-width="0.8"/>
<circle cx="732.2" cy="115.5" r="3.8" fill="#829dc6" />
<text x="749.0" y="120.5" font-size="14.6" textLength="63.5" lengthAdjust="spacingAndGlyphs" stroke="#000" stroke-width="0.3" >gRNA CTR</text>
<rect x="852.3" y="108.0" width="16.5" height="15.8" fill="#efebe8" stroke="#e8b080" stroke-width="0.8"/>
<circle cx="860.7" cy="116.0" r="3.8" fill="#e3a46c" />
<text x="877.0" y="121.3" font-size="14.6" textLength="68.8" lengthAdjust="spacingAndGlyphs" stroke="#000" stroke-width="0.3" >EHMT2 KO2</text>
<rect x="619.8" y="135.0" width="348.6" height="359.0" fill="#ffffff" />
<line x1="687.3" y1="135.0" x2="687.3" y2="494.0" stroke="#ececec" stroke-width="0.8" />
<line x1="766.8" y1="135.0" x2="766.8" y2="494.0" stroke="#ececec" stroke-width="0.8" />
<line x1="846.3" y1="135.0" x2="846.3" y2="494.0" stroke="#ececec" stroke-width="0.8" />
<line x1="925.7" y1="135.0" x2="925.7" y2="494.0" stroke="#ececec" stroke-width="0.8" />
<line x1="619.8" y1="171.1" x2="968.4" y2="171.1" stroke="#ececec" stroke-width="0.8" />
<line x1="619.8" y1="271.4" x2="968.4" y2="271.4" stroke="#ececec" stroke-width="0.8" />
<line x1="619.8" y1="371.8" x2="968.4" y2="371.8" stroke="#ececec" stroke-width="0.8" />
<line x1="619.8" y1="472.1" x2="968.4" y2="472.1" stroke="#ececec" stroke-width="0.8" />
<line x1="647.6" y1="135.0" x2="647.6" y2="494.0" stroke="#dedede" stroke-width="1.2" />
<line x1="727.0" y1="135.0" x2="727.0" y2="494.0" stroke="#dedede" stroke-width="1.2" />
<line x1="806.7" y1="135.0" x2="806.7" y2="494.0" stroke="#dedede" stroke-width="1.2" />
<line x1="886.0" y1="135.0" x2="886.0" y2="494.0" stroke="#dedede" stroke-width="1.2" />
<line x1="965.4" y1="135.0" x2="965.4" y2="494.0" stroke="#dedede" stroke-width="1.2" />
<line x1="619.8" y1="221.3" x2="968.4" y2="221.3" stroke="#dedede" stroke-width="1.2" />
<line x1="619.8" y1="321.6" x2="968.4" y2="321.6" stroke="#dedede" stroke-width="1.2" />
<line x1="619.8" y1="422.0" x2="968.4" y2="422.0" stroke="#dedede" stroke-width="1.2" />
<ellipse cx="683.8" cy="314.6" rx="46.5" ry="164.6" fill="#dfe3f0" fill-opacity="0.62" stroke="#6d8dc4" stroke-width="0.85" transform="rotate(4.6 683.8 314.6)"/>
<line x1="673.9" y1="199.0" x2="668.5" y2="205.5" stroke="#7f9bc6" stroke-width="1.0" />
<circle cx="673.9" cy="199.0" r="3.9" fill="#7f9bc6" />
<line x1="721.6" y1="315.5" x2="715.5" y2="322.0" stroke="#7f9bc6" stroke-width="1.0" />
<circle cx="721.6" cy="315.5" r="3.9" fill="#7f9bc6" />
<line x1="655.8" y1="430.4" x2="649.8" y2="437.0" stroke="#7f9bc6" stroke-width="1.0" />
<circle cx="655.8" cy="430.4" r="3.9" fill="#7f9bc6" />
<text x="646.7" y="215.5" font-size="10.8" fill="#8ba6d0" textLength="63.0" lengthAdjust="spacingAndGlyphs" stroke="#8ba6d0" stroke-width="0.3" >gRNA CTR_1</text>
<text x="678.0" y="333.3" font-size="10.8" fill="#8ba6d0" textLength="63.8" lengthAdjust="spacingAndGlyphs" stroke="#8ba6d0" stroke-width="0.3" >gRNA CTR_3</text>
<text x="627.7" y="447.4" font-size="10.8" fill="#8ba6d0" textLength="12.6" lengthAdjust="spacingAndGlyphs" stroke="#8ba6d0" stroke-width="0.3" >_2</text>
<line x1="952.9" y1="198.8" x2="906.0" y2="459.0" stroke="#e3a56e" stroke-width="1.1" />
<circle cx="945.8" cy="235.7" r="3.9" fill="#e3a56e" />
<circle cx="928.9" cy="331.6" r="3.9" fill="#e3a56e" />
<circle cx="913.0" cy="419.9" r="3.9" fill="#e3a56e" />
<line x1="928.9" y1="331.6" x2="921.5" y2="322.5" stroke="#e3a56e" stroke-width="1.0" />
<line x1="913.0" y1="419.9" x2="904.5" y2="426.0" stroke="#e3a56e" stroke-width="1.0" />
<text x="876.3" y="229.0" font-size="10.8" fill="#eab587" textLength="66.7" lengthAdjust="spacingAndGlyphs" stroke="#eab587" stroke-width="0.3" >EHMT2 KO2_3</text>
<text x="857.8" y="323.4" font-size="10.8" fill="#eab587" textLength="66.2" lengthAdjust="spacingAndGlyphs" stroke="#eab587" stroke-width="0.3" >EHMT2 KO2_2</text>
<text x="842.6" y="435.7" font-size="10.8" fill="#eab587" textLength="66.4" lengthAdjust="spacingAndGlyphs" stroke="#eab587" stroke-width="0.3" >EHMT2 KO2_1</text>
<rect x="619.8" y="135.0" width="348.6" height="359.0" fill="none" stroke="#4a4a4a" stroke-width="1.3"/>
<line x1="616.8" y1="221.3" x2="619.8" y2="221.3" stroke="#444" stroke-width="0.9" />
<text x="613.0" y="226.1" font-size="13.4" text-anchor="end" stroke="#000" stroke-width="0.3" >40</text>
<line x1="616.8" y1="321.6" x2="619.8" y2="321.6" stroke="#444" stroke-width="0.9" />
<text x="613.0" y="326.4" font-size="13.4" text-anchor="end" stroke="#000" stroke-width="0.3" >0</text>
<line x1="616.8" y1="422.0" x2="619.8" y2="422.0" stroke="#444" stroke-width="0.9" />
<text x="613.0" y="426.8" font-size="13.4" text-anchor="end" stroke="#000" stroke-width="0.3" >−40</text>
<line x1="647.6" y1="494.0" x2="647.6" y2="497.0" stroke="#444" stroke-width="0.9" />
<text x="647.6" y="509.8" font-size="13.4" text-anchor="middle" stroke="#000" stroke-width="0.3" >−50</text>
<line x1="727.0" y1="494.0" x2="727.0" y2="497.0" stroke="#444" stroke-width="0.9" />
<text x="727.0" y="509.8" font-size="13.4" text-anchor="middle" stroke="#000" stroke-width="0.3" >−25</text>
<line x1="806.7" y1="494.0" x2="806.7" y2="497.0" stroke="#444" stroke-width="0.9" />
<text x="806.7" y="509.8" font-size="13.4" text-anchor="middle" stroke="#000" stroke-width="0.3" >0</text>
<line x1="886.0" y1="494.0" x2="886.0" y2="497.0" stroke="#444" stroke-width="0.9" />
<text x="886.0" y="509.8" font-size="13.4" text-anchor="middle" stroke="#000" stroke-width="0.3" >25</text>
<line x1="965.4" y1="494.0" x2="965.4" y2="497.0" stroke="#444" stroke-width="0.9" />
<text x="965.4" y="509.8" font-size="13.4" text-anchor="middle" stroke="#000" stroke-width="0.3" >50</text>
<text x="741.0" y="527.8" font-size="14.6" textLength="90.8" lengthAdjust="spacingAndGlyphs" stroke="#000" stroke-width="0.3" >PC1 ( 26.0% )</text>
<text x="583.0" y="368.0" font-size="14.6" textLength="91.0" lengthAdjust="spacingAndGlyphs" transform="rotate(-90 583.0 368.0)" stroke="#000" stroke-width="0.3" >PC2 ( 19.7% )</text></g>
<g id="panelC"><path d="M1259.02 122.76 A157.80 157.80 0 0 1 1370.87 176.62 L1364.24 182.41 A149.00 149.00 0 0 0 1258.63 131.55 Z" fill="#a6cde0" stroke="none" stroke-width="1" />
<path d="M1379.63 187.60 A157.80 157.80 0 0 1 1407.25 308.63 L1398.60 307.06 A149.00 149.00 0 0 0 1372.51 192.77 Z" fill="#3f7ab0" stroke="none" stroke-width="1" />
<path d="M1404.13 322.32 A157.80 157.80 0 0 1 1326.72 419.39 L1322.56 411.64 A149.00 149.00 0 0 0 1395.65 319.99 Z" fill="#b0dd8b" stroke="none" stroke-width="1" />
<path d="M1314.07 425.48 A157.80 157.80 0 0 1 1189.93 425.48 L1193.39 417.39 A149.00 149.00 0 0 0 1310.61 417.39 Z" fill="#4aa543" stroke="none" stroke-width="1" />
<path d="M1177.28 419.39 A157.80 157.80 0 0 1 1099.87 322.32 L1108.35 319.99 A149.00 149.00 0 0 0 1181.44 411.64 Z" fill="#e8909a" stroke="none" stroke-width="1" />
<path d="M1096.75 308.63 A157.80 157.80 0 0 1 1124.37 187.60 L1131.49 192.77 A149.00 149.00 0 0 0 1105.40 307.06 Z" fill="#dc2b25" stroke="none" stroke-width="1" />
<path d="M1133.13 176.62 A157.80 157.80 0 0 1 1244.98 122.76 L1245.37 131.55 A149.00 149.00 0 0 0 1139.76 182.41 Z" fill="#e8b56a" stroke="none" stroke-width="1" />
<path d="M1255.76 204.28 A76.30 76.30 0 0 1 1309.47 229.97 L1290.51 246.73 A51.00 51.00 0 0 0 1254.61 229.55 Z" fill="#e9a3a5" stroke="#e69398" stroke-width="0.5" />
<path d="M1252.30 280.50 L1254.61 229.55 A51.00 51.00 0 0 1 1290.51 246.73 Z" fill="#93c6e2" stroke="#89c0e0" stroke-width="0.5" />
<path d="M1293.57 250.54 A51.00 51.00 0 0 1 1302.53 289.32 L1258.70 281.62 A6.50 6.50 0 0 0 1257.56 276.68 Z" fill="#e9a3a5" stroke="#e69398" stroke-width="0.5" />
<path d="M1252.30 280.50 L1257.56 276.68 A6.50 6.50 0 0 1 1258.70 281.62 Z" fill="#93c6e2" stroke="#89c0e0" stroke-width="0.5" />
<path d="M1297.41 292.97 A46.80 46.80 0 0 1 1274.71 321.58 L1267.24 307.89 A31.20 31.20 0 0 0 1282.37 288.82 Z" fill="#e9a3a5" stroke="#e69398" stroke-width="0.5" />
<path d="M1252.30 280.50 L1282.37 288.82 A31.20 31.20 0 0 1 1267.24 307.89 Z" fill="#93c6e2" stroke="#89c0e0" stroke-width="0.5" />
<path d="M1252.30 280.50 L1266.59 313.98 A36.40 36.40 0 0 1 1238.19 314.05 Z" fill="#e9a3a5" stroke="#e69398" stroke-width="0.5" />
<path d="M1243.76 296.35 A18.00 18.00 0 0 1 1234.98 285.39 L1243.25 283.05 A9.40 9.40 0 0 0 1247.84 288.78 Z" fill="#e9a3a5" stroke="#e69398" stroke-width="0.5" />
<path d="M1252.30 280.50 L1247.84 288.78 A9.40 9.40 0 0 1 1243.25 283.05 Z" fill="#93c6e2" stroke="#89c0e0" stroke-width="0.5" />
<path d="M1252.30 280.50 L1242.07 282.35 A10.40 10.40 0 0 1 1243.85 274.44 Z" fill="#93c6e2" stroke="#89c0e0" stroke-width="0.5" />
<path d="M1252.30 280.50 L1244.55 273.72 A10.30 10.30 0 0 1 1251.78 270.21 Z" fill="#93c6e2" stroke="#89c0e0" stroke-width="0.5" />
<text x="1450.6" y="163.0" font-size="18" textLength="185.0" lengthAdjust="spacingAndGlyphs" stroke="#000" stroke-width="0.3" >Subcellular localization</text>
<rect x="1451.4" y="177.5" width="17.6" height="14.8" fill="#a6cde0" />
<text x="1478.6" y="188.9" font-size="12.6" fill="#111" textLength="216.3" lengthAdjust="spacingAndGlyphs" stroke="#111" stroke-width="0.3" >Nucleus 18 (Up: 6, Down: 12, 46.15%)</text>
<rect x="1451.4" y="198.8" width="17.6" height="14.8" fill="#3f7ab0" />
<text x="1478.6" y="210.2" font-size="12.6" fill="#111" textLength="217.5" lengthAdjust="spacingAndGlyphs" stroke="#111" stroke-width="0.3" >Cytoplasm 7 (Up: 6, Down: 1, 17.95%)</text>
<rect x="1451.4" y="220.2" width="17.6" height="14.8" fill="#b0dd8b" />
<text x="1478.6" y="231.6" font-size="12.6" fill="#111" textLength="226.3" lengthAdjust="spacingAndGlyphs" stroke="#111" stroke-width="0.3" >Extracellular 6 (Up: 2, Down: 4, 15.38%)</text>
<rect x="1451.4" y="241.6" width="17.6" height="14.8" fill="#4aa543" />
<text x="1478.6" y="253.0" font-size="12.6" fill="#111" textLength="264.4" lengthAdjust="spacingAndGlyphs" stroke="#111" stroke-width="0.3" >Plasma membrane 4 (Up: 4, Down: 0, 10.26%)</text>
<rect x="1451.4" y="262.9" width="17.6" height="14.8" fill="#e8909a" />
<text x="1478.6" y="274.3" font-size="12.6" fill="#111" textLength="261.6" lengthAdjust="spacingAndGlyphs" stroke="#111" stroke-width="0.3" >Cytoplasm, nucleus 2 (Up: 1, Down: 1, 5.13%)</text>
<rect x="1451.4" y="284.2" width="17.6" height="14.8" fill="#dc2b25" />
<text x="1478.6" y="295.6" font-size="12.6" fill="#111" textLength="224.3" lengthAdjust="spacingAndGlyphs" stroke="#111" stroke-width="0.3" >Cytoskeleton 1 (Up: 0, Down: 1, 2.56%)</text>
<rect x="1451.4" y="305.6" width="17.6" height="14.8" fill="#e8b56a" />
<text x="1478.6" y="317.0" font-size="12.6" fill="#111" textLength="227.1" lengthAdjust="spacingAndGlyphs" stroke="#111" stroke-width="0.3" >Mitochondria 1 (Up: 0, Down: 1, 2.56%)</text>
<text x="1450.6" y="357.3" font-size="18" textLength="37.2" lengthAdjust="spacingAndGlyphs" stroke="#000" stroke-width="0.3" >Type</text>
<rect x="1451.4" y="368.5" width="17.6" height="15.2" fill="#e9a3a5" />
<text x="1478.6" y="379.7" font-size="12.6" fill="#111" textLength="16.8" lengthAdjust="spacingAndGlyphs" stroke="#111" stroke-width="0.3" >Up</text>
<rect x="1451.4" y="389.8" width="17.6" height="15.6" fill="#93c6e2" />
<text x="1478.6" y="401.4" font-size="12.6" fill="#111" textLength="34.8" lengthAdjust="spacingAndGlyphs" stroke="#111" stroke-width="0.3" >Down</text></g>
<g id="panelD"><rect x="639.6" y="689.0" width="164.3" height="26.2" fill="#8fa6cb" />
<rect x="803.9" y="689.0" width="164.3" height="26.2" fill="#e8ae78" />
<line x1="694.4" y1="689.0" x2="694.4" y2="715.2" stroke="#8aa1c6" stroke-width="0.5" />
<line x1="749.1" y1="689.0" x2="749.1" y2="715.2" stroke="#8aa1c6" stroke-width="0.5" />
<line x1="858.6" y1="689.0" x2="858.6" y2="715.2" stroke="#e3a871" stroke-width="0.5" />
<line x1="913.4" y1="689.0" x2="913.4" y2="715.2" stroke="#e3a871" stroke-width="0.5" />
<rect x="639.60" y="721.30" width="55.06" height="12.93" fill="#ecc0c1"/>
<rect x="694.36" y="721.30" width="55.06" height="12.93" fill="#d95551"/>
<rect x="749.12" y="721.30" width="55.06" height="12.93" fill="#efcfd0"/>
<rect x="803.88" y="721.30" width="55.06" height="12.93" fill="#6f92ca"/>
<rect x="858.64" y="721.30" width="55.06" height="12.93" fill="#b1c6e3"/>
<rect x="913.40" y="721.30" width="55.06" height="12.93" fill="#9ab4db"/>
<rect x="639.60" y="733.93" width="55.06" height="12.93" fill="#e3999c"/>
<rect x="694.36" y="733.93" width="55.06" height="12.93" fill="#da6361"/>
<rect x="749.12" y="733.93" width="55.06" height="12.93" fill="#f3dede"/>
<rect x="803.88" y="733.93" width="55.06" height="12.93" fill="#88a6d4"/>
<rect x="858.64" y="733.93" width="55.06" height="12.93" fill="#6f92ca"/>
<rect x="913.40" y="733.93" width="55.06" height="12.93" fill="#cedbed"/>
<rect x="639.60" y="746.56" width="55.06" height="12.93" fill="#dd787a"/>
<rect x="694.36" y="746.56" width="55.06" height="12.93" fill="#edc5c6"/>
<rect x="749.12" y="746.56" width="55.06" height="12.93" fill="#de7f82"/>
<rect x="803.88" y="746.56" width="55.06" height="12.93" fill="#6f92ca"/>
<rect x="858.64" y="746.56" width="55.06" height="12.93" fill="#b1c6e3"/>
<rect x="913.40" y="746.56" width="55.06" height="12.93" fill="#88a6d4"/>
<rect x="639.60" y="759.19" width="55.06" height="12.93" fill="#dd787a"/>
<rect x="694.36" y="759.19" width="55.06" height="12.93" fill="#efcfd0"/>
<rect x="749.12" y="759.19" width="55.06" height="12.93" fill="#dd7c7e"/>
<rect x="803.88" y="759.19" width="55.06" height="12.93" fill="#88a6d4"/>
<rect x="858.64" y="759.19" width="55.06" height="12.93" fill="#7c9ccf"/>
<rect x="913.40" y="759.19" width="55.06" height="12.93" fill="#9ab4db"/>
<rect x="639.60" y="771.82" width="55.06" height="12.93" fill="#e18e91"/>
<rect x="694.36" y="771.82" width="55.06" height="12.93" fill="#e0898c"/>
<rect x="749.12" y="771.82" width="55.06" height="12.93" fill="#e29496"/>
<rect x="803.88" y="771.82" width="55.06" height="12.93" fill="#7495cc"/>
<rect x="858.64" y="771.82" width="55.06" height="12.93" fill="#9ab4db"/>
<rect x="913.40" y="771.82" width="55.06" height="12.93" fill="#84a3d2"/>
<rect x="639.60" y="784.45" width="55.06" height="12.93" fill="#e0898c"/>
<rect x="694.36" y="784.45" width="55.06" height="12.93" fill="#e18e91"/>
<rect x="749.12" y="784.45" width="55.06" height="12.93" fill="#e29496"/>
<rect x="803.88" y="784.45" width="55.06" height="12.93" fill="#94afd8"/>
<rect x="858.64" y="784.45" width="55.06" height="12.93" fill="#7495cc"/>
<rect x="913.40" y="784.45" width="55.06" height="12.93" fill="#84a3d2"/>
<rect x="639.60" y="797.08" width="55.06" height="12.93" fill="#de7f82"/>
<rect x="694.36" y="797.08" width="55.06" height="12.93" fill="#e49fa1"/>
<rect x="749.12" y="797.08" width="55.06" height="12.93" fill="#e0898c"/>
<rect x="803.88" y="797.08" width="55.06" height="12.93" fill="#88a6d4"/>
<rect x="858.64" y="797.08" width="55.06" height="12.93" fill="#809fd1"/>
<rect x="913.40" y="797.08" width="55.06" height="12.93" fill="#88a6d4"/>
<rect x="639.60" y="809.71" width="55.06" height="12.93" fill="#e0898c"/>
<rect x="694.36" y="809.71" width="55.06" height="12.93" fill="#e29496"/>
<rect x="749.12" y="809.71" width="55.06" height="12.93" fill="#e6a4a6"/>
<rect x="803.88" y="809.71" width="55.06" height="12.93" fill="#6387c6"/>
<rect x="858.64" y="809.71" width="55.06" height="12.93" fill="#7495cc"/>
<rect x="913.40" y="809.71" width="55.06" height="12.93" fill="#f0f3f8"/>
<rect x="639.60" y="822.34" width="55.06" height="12.93" fill="#d95955"/>
<rect x="694.36" y="822.34" width="55.06" height="12.93" fill="#e9b5b6"/>
<rect x="749.12" y="822.34" width="55.06" height="12.93" fill="#edc5c6"/>
<rect x="803.88" y="822.34" width="55.06" height="12.93" fill="#809fd1"/>
<rect x="858.64" y="822.34" width="55.06" height="12.93" fill="#7495cc"/>
<rect x="913.40" y="822.34" width="55.06" height="12.93" fill="#bdcee8"/>
<rect x="639.60" y="834.97" width="55.06" height="12.93" fill="#e49fa1"/>
<rect x="694.36" y="834.97" width="55.06" height="12.93" fill="#f7eced"/>
<rect x="749.12" y="834.97" width="55.06" height="12.93" fill="#dd787a"/>
<rect x="803.88" y="834.97" width="55.06" height="12.93" fill="#94afd8"/>
<rect x="858.64" y="834.97" width="55.06" height="12.93" fill="#6b8ec9"/>
<rect x="913.40" y="834.97" width="55.06" height="12.93" fill="#bebebe"/>
<rect x="639.60" y="847.60" width="55.06" height="12.93" fill="#e6a4a6"/>
<rect x="694.36" y="847.60" width="55.06" height="12.93" fill="#e0898c"/>
<rect x="749.12" y="847.60" width="55.06" height="12.93" fill="#de8386"/>
<rect x="803.88" y="847.60" width="55.06" height="12.93" fill="#c3d3ea"/>
<rect x="858.64" y="847.60" width="55.06" height="12.93" fill="#88a6d4"/>
<rect x="913.40" y="847.60" width="55.06" height="12.93" fill="#6b8ec9"/>
<rect x="639.60" y="860.23" width="55.06" height="12.93" fill="#e18e91"/>
<rect x="694.36" y="860.23" width="55.06" height="12.93" fill="#e0898c"/>
<rect x="749.12" y="860.23" width="55.06" height="12.93" fill="#e3999c"/>
<rect x="803.88" y="860.23" width="55.06" height="12.93" fill="#a6bcdf"/>
<rect x="858.64" y="860.23" width="55.06" height="12.93" fill="#8eaad6"/>
<rect x="913.40" y="860.23" width="55.06" height="12.93" fill="#6f92ca"/>
<rect x="639.60" y="872.86" width="55.06" height="12.93" fill="#e0898c"/>
<rect x="694.36" y="872.86" width="55.06" height="12.93" fill="#e3999c"/>
<rect x="749.12" y="872.86" width="55.06" height="12.93" fill="#e6a4a6"/>
<rect x="803.88" y="872.86" width="55.06" height="12.93" fill="#d9e3f1"/>
<rect x="858.64" y="872.86" width="55.06" height="12.93" fill="#809fd1"/>
<rect x="913.40" y="872.86" width="55.06" height="12.93" fill="#678bc7"/>
<rect x="639.60" y="885.49" width="55.06" height="12.93" fill="#ecc0c1"/>
<rect x="694.36" y="885.49" width="55.06" height="12.93" fill="#eecacb"/>
<rect x="749.12" y="885.49" width="55.06" height="12.93" fill="#da605d"/>
<rect x="803.88" y="885.49" width="55.06" height="12.93" fill="#eef1f7"/>
<rect x="858.64" y="885.49" width="55.06" height="12.93" fill="#5f84c4"/>
<rect x="913.40" y="885.49" width="55.06" height="12.93" fill="#a6bcdf"/>
<rect x="639.60" y="898.12" width="55.06" height="12.93" fill="#e6a4a6"/>
<rect x="694.36" y="898.12" width="55.06" height="12.93" fill="#e7aaac"/>
<rect x="749.12" y="898.12" width="55.06" height="12.93" fill="#e29496"/>
<rect x="803.88" y="898.12" width="55.06" height="12.93" fill="#f0f3f8"/>
<rect x="858.64" y="898.12" width="55.06" height="12.93" fill="#4e75bc"/>
<rect x="913.40" y="898.12" width="55.06" height="12.93" fill="#d9e3f1"/>
<rect x="639.60" y="910.75" width="55.06" height="12.93" fill="#f5f7f9"/>
<rect x="694.36" y="910.75" width="55.06" height="12.93" fill="#dd787a"/>
<rect x="749.12" y="910.75" width="55.06" height="12.93" fill="#dc6e6d"/>
<rect x="803.88" y="910.75" width="55.06" height="12.93" fill="#a6bcdf"/>
<rect x="858.64" y="910.75" width="55.06" height="12.93" fill="#c3d3ea"/>
<rect x="913.40" y="910.75" width="55.06" height="12.93" fill="#6b8ec9"/>
<rect x="639.60" y="923.38" width="55.06" height="12.93" fill="#e7aaac"/>
<rect x="694.36" y="923.38" width="55.06" height="12.93" fill="#e0898c"/>
<rect x="749.12" y="923.38" width="55.06" height="12.93" fill="#de8386"/>
<rect x="803.88" y="923.38" width="55.06" height="12.93" fill="#8eaad6"/>
<rect x="858.64" y="923.38" width="55.06" height="12.93" fill="#d4dfef"/>
<rect x="913.40" y="923.38" width="55.06" height="12.93" fill="#6387c6"/>
<rect x="639.60" y="936.01" width="55.06" height="12.93" fill="#dc6e6d"/>
<rect x="694.36" y="936.01" width="55.06" height="12.93" fill="#eababc"/>
<rect x="749.12" y="936.01" width="55.06" height="12.93" fill="#f5e2e3"/>
<rect x="803.88" y="936.01" width="55.06" height="12.93" fill="#bebebe"/>
<rect x="858.64" y="936.01" width="55.06" height="12.93" fill="#b7cae6"/>
<rect x="913.40" y="936.01" width="55.06" height="12.93" fill="#6387c6"/>
<rect x="639.60" y="948.64" width="55.06" height="12.93" fill="#db6765"/>
<rect x="694.36" y="948.64" width="55.06" height="12.93" fill="#e7aaac"/>
<rect x="749.12" y="948.64" width="55.06" height="12.93" fill="#f1d4d4"/>
<rect x="803.88" y="948.64" width="55.06" height="12.93" fill="#6f92ca"/>
<rect x="858.64" y="948.64" width="55.06" height="12.93" fill="#faf8f8"/>
<rect x="913.40" y="948.64" width="55.06" height="12.93" fill="#7495cc"/>
<rect x="639.60" y="961.27" width="55.06" height="12.93" fill="#db6a69"/>
<rect x="694.36" y="961.27" width="55.06" height="12.93" fill="#efcfd0"/>
<rect x="749.12" y="961.27" width="55.06" height="12.93" fill="#e8afb1"/>
<rect x="803.88" y="961.27" width="55.06" height="12.93" fill="#8eaad6"/>
<rect x="858.64" y="961.27" width="55.06" height="12.93" fill="#faf8f8"/>
<rect x="913.40" y="961.27" width="55.06" height="12.93" fill="#587ec1"/>
<rect x="639.60" y="973.90" width="55.06" height="12.93" fill="#bdcee8"/>
<rect x="694.36" y="973.90" width="55.06" height="12.93" fill="#84a3d2"/>
<rect x="749.12" y="973.90" width="55.06" height="12.93" fill="#809fd1"/>
<rect x="803.88" y="973.90" width="55.06" height="12.93" fill="#d95955"/>
<rect x="858.64" y="973.90" width="55.06" height="12.93" fill="#e49fa1"/>
<rect x="913.40" y="973.90" width="55.06" height="12.93" fill="#f8f9fa"/>
<rect x="639.60" y="986.53" width="55.06" height="12.93" fill="#a0b8dd"/>
<rect x="694.36" y="986.53" width="55.06" height="12.93" fill="#7898ce"/>
<rect x="749.12" y="986.53" width="55.06" height="12.93" fill="#a0b8dd"/>
<rect x="803.88" y="986.53" width="55.06" height="12.93" fill="#de7f82"/>
<rect x="858.64" y="986.53" width="55.06" height="12.93" fill="#db6765"/>
<rect x="913.40" y="986.53" width="55.06" height="12.93" fill="#f8f9fa"/>
<rect x="639.60" y="999.16" width="55.06" height="12.93" fill="#6b8ec9"/>
<rect x="694.36" y="999.16" width="55.06" height="12.93" fill="#7c9ccf"/>
<rect x="749.12" y="999.16" width="55.06" height="12.93" fill="#d9e3f1"/>
<rect x="803.88" y="999.16" width="55.06" height="12.93" fill="#e29496"/>
<rect x="858.64" y="999.16" width="55.06" height="12.93" fill="#dd787a"/>
<rect x="913.40" y="999.16" width="55.06" height="12.93" fill="#ecc0c1"/>
<rect x="639.60" y="1011.79" width="55.06" height="12.93" fill="#6f92ca"/>
<rect x="694.36" y="1011.79" width="55.06" height="12.93" fill="#7c9ccf"/>
<rect x="749.12" y="1011.79" width="55.06" height="12.93" fill="#bdcee8"/>
<rect x="803.88" y="1011.79" width="55.06" height="12.93" fill="#e7aaac"/>
<rect x="858.64" y="1011.79" width="55.06" height="12.93" fill="#dd7c7e"/>
<rect x="913.40" y="1011.79" width="55.06" height="12.93" fill="#e18e91"/>
<rect x="639.60" y="1024.42" width="55.06" height="12.93" fill="#6b8ec9"/>
<rect x="694.36" y="1024.42" width="55.06" height="12.93" fill="#84a3d2"/>
<rect x="749.12" y="1024.42" width="55.06" height="12.93" fill="#bebebe"/>
<rect x="803.88" y="1024.42" width="55.06" height="12.93" fill="#eababc"/>
<rect x="858.64" y="1024.42" width="55.06" height="12.93" fill="#de7f82"/>
<rect x="913.40" y="1024.42" width="55.06" height="12.93" fill="#e7aaac"/>
<rect x="639.60" y="1037.05" width="55.06" height="12.93" fill="#7898ce"/>
<rect x="694.36" y="1037.05" width="55.06" height="12.93" fill="#8eaad6"/>
<rect x="749.12" y="1037.05" width="55.06" height="12.93" fill="#84a3d2"/>
<rect x="803.88" y="1037.05" width="55.06" height="12.93" fill="#e0898c"/>
<rect x="858.64" y="1037.05" width="55.06" height="12.93" fill="#de8386"/>
<rect x="913.40" y="1037.05" width="55.06" height="12.93" fill="#e29496"/>
<rect x="639.60" y="1049.68" width="55.06" height="12.93" fill="#9ab4db"/>
<rect x="694.36" y="1049.68" width="55.06" height="12.93" fill="#5f84c4"/>
<rect x="749.12" y="1049.68" width="55.06" height="12.93" fill="#c3d3ea"/>
<rect x="803.88" y="1049.68" width="55.06" height="12.93" fill="#e0898c"/>
<rect x="858.64" y="1049.68" width="55.06" height="12.93" fill="#de7f82"/>
<rect x="913.40" y="1049.68" width="55.06" height="12.93" fill="#e7aaac"/>
<rect x="639.60" y="1062.31" width="55.06" height="12.93" fill="#d9e3f1"/>
<rect x="694.36" y="1062.31" width="55.06" height="12.93" fill="#587ec1"/>
<rect x="749.12" y="1062.31" width="55.06" height="12.93" fill="#a0b8dd"/>
<rect x="803.88" y="1062.31" width="55.06" height="12.93" fill="#de8386"/>
<rect x="858.64" y="1062.31" width="55.06" height="12.93" fill="#eababc"/>
<rect x="913.40" y="1062.31" width="55.06" height="12.93" fill="#de8386"/>
<rect x="639.60" y="1074.94" width="55.06" height="12.93" fill="#cedbed"/>
<rect x="694.36" y="1074.94" width="55.06" height="12.93" fill="#6b8ec9"/>
<rect x="749.12" y="1074.94" width="55.06" height="12.93" fill="#809fd1"/>
<rect x="803.88" y="1074.94" width="55.06" height="12.93" fill="#dd787a"/>
<rect x="858.64" y="1074.94" width="55.06" height="12.93" fill="#eababc"/>
<rect x="913.40" y="1074.94" width="55.06" height="12.93" fill="#e18e91"/>
<rect x="639.60" y="1087.57" width="55.06" height="12.93" fill="#a0b8dd"/>
<rect x="694.36" y="1087.57" width="55.06" height="12.93" fill="#7495cc"/>
<rect x="749.12" y="1087.57" width="55.06" height="12.93" fill="#809fd1"/>
<rect x="803.88" y="1087.57" width="55.06" height="12.93" fill="#dd787a"/>
<rect x="858.64" y="1087.57" width="55.06" height="12.93" fill="#eababc"/>
<rect x="913.40" y="1087.57" width="55.06" height="12.93" fill="#de7f82"/>
<rect x="639.60" y="1100.20" width="55.06" height="12.93" fill="#88a6d4"/>
<rect x="694.36" y="1100.20" width="55.06" height="12.93" fill="#dfe7f2"/>
<rect x="749.12" y="1100.20" width="55.06" height="12.93" fill="#7898ce"/>
<rect x="803.88" y="1100.20" width="55.06" height="12.93" fill="#bebebe"/>
<rect x="858.64" y="1100.20" width="55.06" height="12.93" fill="#de7f82"/>
<rect x="913.40" y="1100.20" width="55.06" height="12.93" fill="#dd787a"/>
<rect x="639.60" y="1112.83" width="55.06" height="12.93" fill="#7898ce"/>
<rect x="694.36" y="1112.83" width="55.06" height="12.93" fill="#abc1e1"/>
<rect x="749.12" y="1112.83" width="55.06" height="12.93" fill="#8eaad6"/>
<rect x="803.88" y="1112.83" width="55.06" height="12.93" fill="#eecacb"/>
<rect x="858.64" y="1112.83" width="55.06" height="12.93" fill="#d95551"/>
<rect x="913.40" y="1112.83" width="55.06" height="12.93" fill="#eecacb"/>
<rect x="639.60" y="1125.46" width="55.06" height="12.93" fill="#bdcee8"/>
<rect x="694.36" y="1125.46" width="55.06" height="12.93" fill="#6b8ec9"/>
<rect x="749.12" y="1125.46" width="55.06" height="12.93" fill="#abc1e1"/>
<rect x="803.88" y="1125.46" width="55.06" height="12.93" fill="#f6e7e8"/>
<rect x="858.64" y="1125.46" width="55.06" height="12.93" fill="#dd787a"/>
<rect x="913.40" y="1125.46" width="55.06" height="12.93" fill="#dd787a"/>
<rect x="639.60" y="1138.09" width="55.06" height="12.93" fill="#6f92ca"/>
<rect x="694.36" y="1138.09" width="55.06" height="12.93" fill="#a0b8dd"/>
<rect x="749.12" y="1138.09" width="55.06" height="12.93" fill="#c3d3ea"/>
<rect x="803.88" y="1138.09" width="55.06" height="12.93" fill="#faf9f9"/>
<rect x="858.64" y="1138.09" width="55.06" height="12.93" fill="#dd7c7e"/>
<rect x="913.40" y="1138.09" width="55.06" height="12.93" fill="#db6765"/>
<rect x="639.60" y="1150.72" width="55.06" height="12.93" fill="#547bbf"/>
<rect x="694.36" y="1150.72" width="55.06" height="12.93" fill="#bdcee8"/>
<rect x="749.12" y="1150.72" width="55.06" height="12.93" fill="#d4dfef"/>
<rect x="803.88" y="1150.72" width="55.06" height="12.93" fill="#dd787a"/>
<rect x="858.64" y="1150.72" width="55.06" height="12.93" fill="#e3999c"/>
<rect x="913.40" y="1150.72" width="55.06" height="12.93" fill="#ecc0c1"/>
<rect x="639.60" y="1163.35" width="55.06" height="12.93" fill="#5c81c2"/>
<rect x="694.36" y="1163.35" width="55.06" height="12.93" fill="#a0b8dd"/>
<rect x="749.12" y="1163.35" width="55.06" height="12.93" fill="#cedbed"/>
<rect x="803.88" y="1163.35" width="55.06" height="12.93" fill="#e49fa1"/>
<rect x="858.64" y="1163.35" width="55.06" height="12.93" fill="#e49fa1"/>
<rect x="913.40" y="1163.35" width="55.06" height="12.93" fill="#e29496"/>
<rect x="639.60" y="1175.98" width="55.06" height="12.93" fill="#5178be"/>
<rect x="694.36" y="1175.98" width="55.06" height="12.93" fill="#b7cae6"/>
<rect x="749.12" y="1175.98" width="55.06" height="12.93" fill="#eef1f7"/>
<rect x="803.88" y="1175.98" width="55.06" height="12.93" fill="#e7aaac"/>
<rect x="858.64" y="1175.98" width="55.06" height="12.93" fill="#e49fa1"/>
<rect x="913.40" y="1175.98" width="55.06" height="12.93" fill="#e29496"/>
<rect x="639.60" y="1188.61" width="55.06" height="12.93" fill="#5178be"/>
<rect x="694.36" y="1188.61" width="55.06" height="12.93" fill="#c3d3ea"/>
<rect x="749.12" y="1188.61" width="55.06" height="12.93" fill="#dfe7f2"/>
<rect x="803.88" y="1188.61" width="55.06" height="12.93" fill="#e3999c"/>
<rect x="858.64" y="1188.61" width="55.06" height="12.93" fill="#ecc0c1"/>
<rect x="913.40" y="1188.61" width="55.06" height="12.93" fill="#de7f82"/>
<rect x="639.60" y="1201.24" width="55.06" height="12.93" fill="#5178be"/>
<rect x="694.36" y="1201.24" width="55.06" height="12.93" fill="#b1c6e3"/>
<rect x="749.12" y="1201.24" width="55.06" height="12.93" fill="#f9f3f3"/>
<rect x="803.88" y="1201.24" width="55.06" height="12.93" fill="#e29496"/>
<rect x="858.64" y="1201.24" width="55.06" height="12.93" fill="#efcfd0"/>
<rect x="913.40" y="1201.24" width="55.06" height="12.93" fill="#e0898c"/>
<path d="M637.3 727.6 H626.7 V740.2 H637.3 M637.3 752.9 H629.9 V765.5 H637.3 M637.3 790.8 H634.1 V803.4 H637.3 M637.3 778.1 H631.1 V797.1 H634.1 M629.9 759.2 H626.9 V787.6 H631.1 M637.3 816.0 H626.7 V828.7 H637.3 M626.9 773.4 H623.9 V822.3 H626.7 M626.7 733.9 H617.8 V797.9 H623.9 M637.3 853.9 H632.9 V866.5 H637.3 M632.9 860.2 H631.1 V879.2 H637.3 M637.3 841.3 H623.6 V869.7 H631.1 M637.3 891.8 H626.3 V904.4 H637.3 M623.6 855.5 H619.7 V898.1 H626.3 M617.8 765.9 H611.8 V876.8 H619.7 M637.3 917.1 H626.3 V929.7 H637.3 M637.3 955.0 H628.1 V967.6 H637.3 M637.3 942.3 H626.9 V961.3 H628.1 M626.3 923.4 H613.9 V951.8 H626.9 M611.8 821.4 H608.2 V937.6 H613.9 M637.3 980.2 H626.3 V992.8 H637.3 M637.3 1018.1 H631.7 V1030.7 H637.3 M637.3 1005.5 H630.5 V1024.4 H631.7 M637.3 1043.4 H627.1 V1056.0 H637.3 M630.5 1014.9 H626.3 V1049.7 H627.1 M637.3 1081.3 H632.3 V1093.9 H637.3 M637.3 1068.6 H628.7 V1087.6 H632.3 M626.3 1032.3 H619.7 V1078.1 H628.7 M626.3 986.5 H617.8 V1055.2 H619.7 M637.3 1106.5 H623.6 V1119.1 H637.3 M637.3 1131.8 H626.7 V1144.4 H637.3 M623.6 1112.8 H621.8 V1138.1 H626.7 M637.3 1157.0 H630.3 V1169.7 H637.3 M637.3 1182.3 H632.3 V1194.9 H637.3 M632.3 1188.6 H630.8 V1207.6 H637.3 M630.3 1163.3 H627.7 V1198.1 H630.8 M621.8 1125.5 H615.2 V1180.7 H627.7 M617.8 1020.9 H609.6 V1153.1 H615.2 M608.2 879.5 H582.0 V1087.0 H609.6" fill="none" stroke="#111" stroke-width="1.45" stroke-linejoin="miter" stroke-linecap="square"/>
<text x="685.1" y="1228.0" font-size="17.3" text-anchor="end" textLength="97.0" lengthAdjust="spacingAndGlyphs" transform="rotate(-45 685.1 1228.0)" stroke="#000" stroke-width="0.3" >gRNA CTR_1</text>
<text x="738.2" y="1228.4" font-size="17.3" text-anchor="end" textLength="97.0" lengthAdjust="spacingAndGlyphs" transform="rotate(-45 738.2 1228.4)" stroke="#000" stroke-width="0.3" >gRNA CTR_2</text>
<text x="786.5" y="1230.0" font-size="17.3" text-anchor="end" textLength="97.0" lengthAdjust="spacingAndGlyphs" transform="rotate(-45 786.5 1230.0)" stroke="#000" stroke-width="0.3" >gRNA CTR_3</text>
<text x="846.0" y="1229.5" font-size="17.3" text-anchor="end" textLength="103.0" lengthAdjust="spacingAndGlyphs" transform="rotate(-45 846.0 1229.5)" stroke="#000" stroke-width="0.3" >EHMT2 KO2_1</text>
<text x="898.9" y="1229.2" font-size="17.3" text-anchor="end" textLength="103.0" lengthAdjust="spacingAndGlyphs" transform="rotate(-45 898.9 1229.2)" stroke="#000" stroke-width="0.3" >EHMT2 KO2_2</text>
<text x="951.5" y="1230.0" font-size="17.3" text-anchor="end" textLength="103.0" lengthAdjust="spacingAndGlyphs" transform="rotate(-45 951.5 1230.0)" stroke="#000" stroke-width="0.3" >EHMT2 KO2_3</text>
<text x="979.0" y="876.5" font-size="16.5" textLength="50.0" lengthAdjust="spacingAndGlyphs" stroke="#000" stroke-width="0.3" >Group</text>
<rect x="980.0" y="886.0" width="19.5" height="19.5" fill="#8fa6cb" />
<rect x="980.0" y="907.5" width="19.5" height="19.3" fill="#e8ae78" />
<text x="1006.8" y="902.8" font-size="16.5" textLength="80.0" lengthAdjust="spacingAndGlyphs" stroke="#000" stroke-width="0.3" >gRNA CTR</text>
<text x="1006.8" y="924.5" font-size="16.5" textLength="86.8" lengthAdjust="spacingAndGlyphs" stroke="#000" stroke-width="0.3" >EHMT2 KO2</text>
<defs><linearGradient id="cbar" x1="0" y1="0" x2="0" y2="1"><stop offset="0" stop-color="#d6342a"/><stop offset="0.03" stop-color="#d6342a"/><stop offset="0.148" stop-color="#d9585a"/><stop offset="0.265" stop-color="#de8188"/><stop offset="0.383" stop-color="#ecc0c4"/><stop offset="0.5" stop-color="#fbfbfb"/><stop offset="0.617" stop-color="#c3d3ea"/><stop offset="0.735" stop-color="#88a6d4"/><stop offset="0.852" stop-color="#5f84c4"/><stop offset="0.97" stop-color="#3c66b4"/><stop offset="1" stop-color="#3c66b4"/></linearGradient></defs>
<rect x="1000.0" y="940.0" width="23.5" height="154.2" fill="url(#cbar)" />
<line x1="1000.0" y1="944.6" x2="1004.6" y2="944.6" stroke="#fff" stroke-width="1.1" />
<line x1="1018.9" y1="944.6" x2="1023.5" y2="944.6" stroke="#fff" stroke-width="1.1" />
<text x="1029.2" y="950.2" font-size="15.5" stroke="#000" stroke-width="0.3" >2</text>
<line x1="1000.0" y1="980.6" x2="1004.6" y2="980.6" stroke="#fff" stroke-width="1.1" />
<line x1="1018.9" y1="980.6" x2="1023.5" y2="980.6" stroke="#fff" stroke-width="1.1" />
<text x="1029.2" y="986.2" font-size="15.5" stroke="#000" stroke-width="0.3" >1</text>
<line x1="1000.0" y1="1017.4" x2="1004.6" y2="1017.4" stroke="#fff" stroke-width="1.1" />
<line x1="1018.9" y1="1017.4" x2="1023.5" y2="1017.4" stroke="#fff" stroke-width="1.1" />
<text x="1029.2" y="1023.0" font-size="15.5" stroke="#000" stroke-width="0.3" >0</text>
<line x1="1000.0" y1="1054.0" x2="1004.6" y2="1054.0" stroke="#fff" stroke-width="1.1" />
<line x1="1018.9" y1="1054.0" x2="1023.5" y2="1054.0" stroke="#fff" stroke-width="1.1" />
<text x="1029.2" y="1059.6" font-size="15.5" stroke="#000" stroke-width="0.3" >−1</text>
<line x1="1000.0" y1="1090.8" x2="1004.6" y2="1090.8" stroke="#fff" stroke-width="1.1" />
<line x1="1018.9" y1="1090.8" x2="1023.5" y2="1090.8" stroke="#fff" stroke-width="1.1" />
<text x="1029.2" y="1096.4" font-size="15.5" stroke="#000" stroke-width="0.3" >−2</text>
<text x="992.6" y="1094.5" font-size="16.5" textLength="129.0" lengthAdjust="spacingAndGlyphs" transform="rotate(-90 992.6 1094.5)" stroke="#000" stroke-width="0.3" >Log2 Expression</text></g>
<g id="panelE"><polygon points="1357.9,954.7 1353.2,962.5 1352.2,974.2 1351.3,993.7 1350.3,1013.2 1344.8,1020.6 1345.4,1032.6 1344.5,1052.1 1343.5,1071.6 1343.5,1091.1 1342.7,1110.5 1344.7,1130.0 1347.2,1145.6 1352.4,1155.3 1376.4,1156.9 1381.7,1145.6 1384.0,1130.0 1385.7,1110.5 1385.9,1091.1 1385.2,1071.6 1385.2,1052.1 1384.2,1032.6 1384.8,1020.6 1381.1,1013.2 1379.1,993.7 1375.4,974.2 1380.9,966.4 1380.3,956.7 1377.4,954.7" fill="#c0c0c0" stroke="#c0c0c0" stroke-width="5" stroke-linejoin="round"/>
<circle cx="1368.1" cy="913.4" r="3.0" fill="#c0c0c0" />
<circle cx="1370.4" cy="912.5" r="3.0" fill="#c0c0c0" />
<circle cx="1372.8" cy="913.1" r="3.0" fill="#c0c0c0" />
<circle cx="1369.2" cy="918.6" r="3.0" fill="#c0c0c0" />
<circle cx="1372.9" cy="917.6" r="3.0" fill="#c0c0c0" />
<circle cx="1369.4" cy="923.7" r="3.0" fill="#c0c0c0" />
<circle cx="1372.4" cy="924.4" r="3.0" fill="#c0c0c0" />
<circle cx="1368.5" cy="927.0" r="3.0" fill="#c0c0c0" />
<circle cx="1373.4" cy="929.6" r="3.0" fill="#c0c0c0" />
<circle cx="1368.7" cy="933.0" r="3.0" fill="#c0c0c0" />
<circle cx="1373.0" cy="934.5" r="3.0" fill="#c0c0c0" />
<circle cx="1373.9" cy="932.4" r="3.0" fill="#c0c0c0" />
<circle cx="1369.6" cy="937.6" r="3.0" fill="#c0c0c0" />
<circle cx="1371.4" cy="937.7" r="3.0" fill="#c0c0c0" />
<circle cx="1373.8" cy="939.4" r="3.0" fill="#c0c0c0" />
<circle cx="1376.5" cy="939.3" r="3.0" fill="#c0c0c0" />
<circle cx="1366.5" cy="944.2" r="3.0" fill="#c0c0c0" />
<circle cx="1373.8" cy="942.2" r="3.0" fill="#c0c0c0" />
<circle cx="1377.4" cy="941.7" r="3.0" fill="#c0c0c0" />
<circle cx="1366.5" cy="947.6" r="3.0" fill="#c0c0c0" />
<circle cx="1367.9" cy="948.8" r="3.0" fill="#c0c0c0" />
<circle cx="1372.7" cy="946.5" r="3.0" fill="#c0c0c0" />
<circle cx="1374.4" cy="949.1" r="3.0" fill="#c0c0c0" />
<circle cx="1359.1" cy="952.2" r="3.0" fill="#c0c0c0" />
<circle cx="1360.6" cy="951.3" r="3.0" fill="#c0c0c0" />
<circle cx="1362.4" cy="953.1" r="3.0" fill="#c0c0c0" />
<circle cx="1364.0" cy="953.9" r="3.0" fill="#c0c0c0" />
<circle cx="1367.6" cy="954.0" r="3.0" fill="#c0c0c0" />
<circle cx="1368.9" cy="952.9" r="3.0" fill="#c0c0c0" />
<circle cx="1371.3" cy="953.0" r="3.0" fill="#c0c0c0" />
<circle cx="1374.0" cy="952.8" r="3.0" fill="#c0c0c0" />
<circle cx="1375.8" cy="952.0" r="3.0" fill="#c0c0c0" />
<circle cx="1378.3" cy="952.9" r="3.0" fill="#c0c0c0" />
<circle cx="1378.9" cy="952.5" r="3.0" fill="#c0c0c0" />
<circle cx="1358.3" cy="949.1" r="3.0" fill="#c0c0c0" />
<circle cx="1358.5" cy="956.3" r="3.0" fill="#c0c0c0" />
<circle cx="1355.5" cy="956.2" r="3.0" fill="#c0c0c0" />
<circle cx="1353.0" cy="964.6" r="3.0" fill="#c0c0c0" />
<circle cx="1352.4" cy="964.9" r="3.0" fill="#c0c0c0" />
<circle cx="1354.5" cy="956.9" r="3.0" fill="#c0c0c0" />
<circle cx="1349.9" cy="976.3" r="3.0" fill="#c0c0c0" />
<circle cx="1354.8" cy="971.3" r="3.0" fill="#c0c0c0" />
<circle cx="1352.0" cy="975.3" r="3.0" fill="#c0c0c0" />
<circle cx="1350.3" cy="992.1" r="3.0" fill="#c0c0c0" />
<circle cx="1350.3" cy="992.2" r="3.0" fill="#c0c0c0" />
<circle cx="1351.8" cy="991.4" r="3.0" fill="#c0c0c0" />
<circle cx="1349.6" cy="1016.3" r="3.0" fill="#c0c0c0" />
<circle cx="1347.7" cy="1014.0" r="3.0" fill="#c0c0c0" />
<circle cx="1351.6" cy="1010.9" r="3.0" fill="#c0c0c0" />
<circle cx="1343.3" cy="1024.1" r="3.0" fill="#c0c0c0" />
<circle cx="1343.4" cy="1016.9" r="3.0" fill="#c0c0c0" />
<circle cx="1344.5" cy="1022.9" r="3.0" fill="#c0c0c0" />
<circle cx="1343.3" cy="1030.6" r="3.0" fill="#c0c0c0" />
<circle cx="1344.5" cy="1036.5" r="3.0" fill="#c0c0c0" />
<circle cx="1345.1" cy="1036.8" r="3.0" fill="#c0c0c0" />
<circle cx="1342.7" cy="1050.2" r="3.0" fill="#c0c0c0" />
<circle cx="1345.3" cy="1056.6" r="3.0" fill="#c0c0c0" />
<circle cx="1344.2" cy="1048.9" r="3.0" fill="#c0c0c0" />
<circle cx="1341.4" cy="1071.9" r="3.0" fill="#c0c0c0" />
<circle cx="1341.8" cy="1075.2" r="3.0" fill="#c0c0c0" />
<circle cx="1345.3" cy="1067.9" r="3.0" fill="#c0c0c0" />
<circle cx="1342.3" cy="1094.7" r="3.0" fill="#c0c0c0" />
<circle cx="1344.3" cy="1094.6" r="3.0" fill="#c0c0c0" />
<circle cx="1342.6" cy="1086.7" r="3.0" fill="#c0c0c0" />
<circle cx="1341.6" cy="1114.0" r="3.0" fill="#c0c0c0" />
<circle cx="1341.5" cy="1108.7" r="3.0" fill="#c0c0c0" />
<circle cx="1342.3" cy="1109.6" r="3.0" fill="#c0c0c0" />
<circle cx="1344.2" cy="1134.9" r="3.0" fill="#c0c0c0" />
<circle cx="1342.8" cy="1124.2" r="3.0" fill="#c0c0c0" />
<circle cx="1347.1" cy="1134.4" r="3.0" fill="#c0c0c0" />
<circle cx="1349.8" cy="1144.8" r="3.0" fill="#c0c0c0" />
<circle cx="1349.6" cy="1150.6" r="3.0" fill="#c0c0c0" />
<circle cx="1345.7" cy="1148.5" r="3.0" fill="#c0c0c0" />
<circle cx="1354.3" cy="1157.2" r="3.0" fill="#c0c0c0" />
<circle cx="1352.5" cy="1152.9" r="3.0" fill="#c0c0c0" />
<circle cx="1351.6" cy="1152.1" r="3.0" fill="#c0c0c0" />
<circle cx="1374.0" cy="1157.9" r="3.0" fill="#c0c0c0" />
<circle cx="1375.2" cy="1160.5" r="3.0" fill="#c0c0c0" />
<circle cx="1373.9" cy="1161.6" r="3.0" fill="#c0c0c0" />
<circle cx="1382.7" cy="1150.5" r="3.0" fill="#c0c0c0" />
<circle cx="1383.8" cy="1150.3" r="3.0" fill="#c0c0c0" />
<circle cx="1382.1" cy="1139.9" r="3.0" fill="#c0c0c0" />
<circle cx="1385.3" cy="1126.2" r="3.0" fill="#c0c0c0" />
<circle cx="1382.9" cy="1131.9" r="3.0" fill="#c0c0c0" />
<circle cx="1384.1" cy="1129.0" r="3.0" fill="#c0c0c0" />
<circle cx="1388.1" cy="1111.8" r="3.0" fill="#c0c0c0" />
<circle cx="1384.9" cy="1107.6" r="3.0" fill="#c0c0c0" />
<circle cx="1387.7" cy="1110.3" r="3.0" fill="#c0c0c0" />
<circle cx="1387.5" cy="1089.3" r="3.0" fill="#c0c0c0" />
<circle cx="1384.3" cy="1091.5" r="3.0" fill="#c0c0c0" />
<circle cx="1387.7" cy="1087.2" r="3.0" fill="#c0c0c0" />
<circle cx="1386.8" cy="1076.5" r="3.0" fill="#c0c0c0" />
<circle cx="1386.8" cy="1075.4" r="3.0" fill="#c0c0c0" />
<circle cx="1382.5" cy="1073.1" r="3.0" fill="#c0c0c0" />
<circle cx="1387.1" cy="1046.9" r="3.0" fill="#c0c0c0" />
<circle cx="1383.9" cy="1049.4" r="3.0" fill="#c0c0c0" />
<circle cx="1385.3" cy="1051.2" r="3.0" fill="#c0c0c0" />
<circle cx="1384.0" cy="1035.9" r="3.0" fill="#c0c0c0" />
<circle cx="1381.5" cy="1027.4" r="3.0" fill="#c0c0c0" />
<circle cx="1382.2" cy="1028.3" r="3.0" fill="#c0c0c0" />
<circle cx="1382.4" cy="1026.1" r="3.0" fill="#c0c0c0" />
<circle cx="1386.7" cy="1015.7" r="3.0" fill="#c0c0c0" />
<circle cx="1384.8" cy="1018.4" r="3.0" fill="#c0c0c0" />
<circle cx="1380.1" cy="1011.4" r="3.0" fill="#c0c0c0" />
<circle cx="1381.9" cy="1014.2" r="3.0" fill="#c0c0c0" />
<circle cx="1380.3" cy="1009.6" r="3.0" fill="#c0c0c0" />
<circle cx="1378.2" cy="989.3" r="3.0" fill="#c0c0c0" />
<circle cx="1379.4" cy="996.2" r="3.0" fill="#c0c0c0" />
<circle cx="1378.5" cy="988.8" r="3.0" fill="#c0c0c0" />
<circle cx="1373.7" cy="972.7" r="3.0" fill="#c0c0c0" />
<circle cx="1376.0" cy="977.5" r="3.0" fill="#c0c0c0" />
<circle cx="1374.8" cy="977.7" r="3.0" fill="#c0c0c0" />
<circle cx="1381.5" cy="965.6" r="3.0" fill="#c0c0c0" />
<circle cx="1380.2" cy="966.4" r="3.0" fill="#c0c0c0" />
<circle cx="1382.0" cy="965.5" r="3.0" fill="#c0c0c0" />
<circle cx="1381.4" cy="956.2" r="3.0" fill="#c0c0c0" />
<circle cx="1378.9" cy="957.1" r="3.0" fill="#c0c0c0" />
<circle cx="1381.4" cy="951.7" r="3.0" fill="#c0c0c0" />
<circle cx="1377.0" cy="953.9" r="3.0" fill="#c0c0c0" />
<circle cx="1379.4" cy="959.8" r="3.0" fill="#c0c0c0" />
<circle cx="1376.7" cy="959.4" r="3.0" fill="#c0c0c0" />
<circle cx="1342.3" cy="792.7" r="3.0" fill="#c0c0c0" />
<circle cx="1361.2" cy="808.7" r="3.0" fill="#c0c0c0" />
<circle cx="1385.7" cy="824.8" r="3.0" fill="#c0c0c0" />
<circle cx="1378.0" cy="865.6" r="3.0" fill="#c0c0c0" />
<circle cx="1359.8" cy="902.2" r="3.0" fill="#c0c0c0" />
<circle cx="1381.1" cy="909.4" r="3.0" fill="#c0c0c0" />
<circle cx="1359.3" cy="920.7" r="3.0" fill="#c0c0c0" />
<circle cx="1369.2" cy="914.8" r="3.0" fill="#c0c0c0" />
<circle cx="1370.0" cy="918.7" r="3.0" fill="#c0c0c0" />
<circle cx="1370.6" cy="927.5" r="3.0" fill="#c0c0c0" />
<circle cx="1384.6" cy="931.4" r="3.0" fill="#c0c0c0" />
<circle cx="1356.5" cy="933.9" r="3.0" fill="#c0c0c0" />
<circle cx="1361.8" cy="937.2" r="3.0" fill="#c0c0c0" />
<circle cx="1385.2" cy="944.0" r="3.0" fill="#c0c0c0" />
<circle cx="1371.5" cy="940.1" r="3.0" fill="#c0c0c0" />
<circle cx="1375.4" cy="941.1" r="3.0" fill="#c0c0c0" />
<circle cx="1360.8" cy="947.9" r="3.0" fill="#c0c0c0" />
<circle cx="1366.7" cy="954.7" r="3.0" fill="#c0c0c0" />
<circle cx="1378.3" cy="962.5" r="3.0" fill="#c0c0c0" />
<circle cx="1418.7" cy="1085.2" r="3.0" fill="#c0c0c0" />
<circle cx="1403.3" cy="1127.1" r="3.0" fill="#c0c0c0" />
<circle cx="1329.3" cy="1105.7" r="3.0" fill="#c0c0c0" />
<circle cx="1318.9" cy="1077.8" r="3.0" fill="#c0c0c0" />
<circle cx="1331.0" cy="1079.0" r="3.0" fill="#c0c0c0" />
<circle cx="1315.6" cy="1081.3" r="3.0" fill="#c0c0c0" />
<circle cx="1397.6" cy="1076.5" r="3.0" fill="#c0c0c0" />
<circle cx="1392.0" cy="1078.4" r="3.0" fill="#c0c0c0" />
<circle cx="1397.4" cy="1088.7" r="3.0" fill="#c0c0c0" />
<circle cx="1396.8" cy="1095.0" r="3.0" fill="#c0c0c0" />
<circle cx="1394.9" cy="1104.7" r="3.0" fill="#c0c0c0" />
<circle cx="1392.0" cy="1110.5" r="3.0" fill="#c0c0c0" />
<circle cx="1393.0" cy="1120.3" r="3.0" fill="#c0c0c0" />
<circle cx="1340.4" cy="1137.8" r="3.0" fill="#c0c0c0" />
<circle cx="1337.4" cy="1091.1" r="3.0" fill="#c0c0c0" />
<circle cx="1334.5" cy="1097.9" r="3.0" fill="#c0c0c0" />
<circle cx="1338.4" cy="1114.4" r="3.0" fill="#c0c0c0" />
<circle cx="1344.3" cy="1141.7" r="3.0" fill="#c0c0c0" />
<circle cx="1381.3" cy="1147.5" r="3.0" fill="#c0c0c0" />
<circle cx="1376.4" cy="1155.3" r="3.0" fill="#c0c0c0" />
<circle cx="1389.1" cy="1098.9" r="3.0" fill="#c0c0c0" />
<circle cx="1229.8" cy="1073.0" r="3.0" fill="#c0c0c0" />
<circle cx="1363.7" cy="1003.4" r="0.9" fill="#e6e6e6" />
<circle cx="1365.7" cy="1030.7" r="0.9" fill="#e6e6e6" />
<circle cx="1352.4" cy="1032.6" r="0.9" fill="#e6e6e6" />
<circle cx="1364.9" cy="1052.1" r="0.9" fill="#e6e6e6" />
<circle cx="1377.4" cy="1031.7" r="0.9" fill="#e6e6e6" />
<circle cx="1356.9" cy="976.2" r="0.9" fill="#e6e6e6" />
<circle cx="1371.5" cy="969.3" r="0.9" fill="#e6e6e6" />
<circle cx="1367.6" cy="989.8" r="0.9" fill="#e6e6e6" />
<circle cx="1335.5" cy="832.4" r="3.0" fill="#4d6ec0" />
<circle cx="1324.4" cy="869.4" r="3.0" fill="#4d6ec0" />
<circle cx="1308.2" cy="889.1" r="3.0" fill="#4d6ec0" />
<circle cx="1318.6" cy="932.3" r="3.0" fill="#4d6ec0" />
<circle cx="1335.1" cy="983.0" r="3.0" fill="#4d6ec0" />
<circle cx="1339.4" cy="981.6" r="3.0" fill="#4d6ec0" />
<circle cx="1337.8" cy="992.7" r="3.0" fill="#4d6ec0" />
<circle cx="1328.9" cy="1007.3" r="3.0" fill="#4d6ec0" />
<circle cx="1321.1" cy="1011.4" r="3.0" fill="#4d6ec0" />
<circle cx="1333.0" cy="1024.8" r="3.0" fill="#4d6ec0" />
<circle cx="1331.8" cy="1029.7" r="3.0" fill="#4d6ec0" />
<circle cx="1315.6" cy="1034.8" r="3.0" fill="#4d6ec0" />
<circle cx="1337.1" cy="1038.5" r="3.0" fill="#4d6ec0" />
<circle cx="1333.7" cy="1050.9" r="3.0" fill="#4d6ec0" />
<circle cx="1340.2" cy="1056.8" r="3.0" fill="#4d6ec0" />
<circle cx="1341.9" cy="1060.9" r="3.0" fill="#4d6ec0" />
<circle cx="1342.3" cy="1064.8" r="3.0" fill="#4d6ec0" />
<circle cx="1323.2" cy="1064.2" r="3.0" fill="#4d6ec0" />
<circle cx="1332.6" cy="1067.7" r="3.0" fill="#4d6ec0" />
<circle cx="1341.9" cy="1070.0" r="3.0" fill="#4d6ec0" />
<circle cx="1419.4" cy="832.4" r="3.0" fill="#b52025" />
<circle cx="1393.5" cy="958.2" r="3.0" fill="#b52025" />
<circle cx="1387.1" cy="968.6" r="3.0" fill="#b52025" />
<circle cx="1401.1" cy="992.9" r="3.0" fill="#b52025" />
<circle cx="1386.1" cy="1006.5" r="3.0" fill="#b52025" />
<circle cx="1390.0" cy="1006.5" r="3.0" fill="#b52025" />
<circle cx="1406.8" cy="1009.7" r="3.0" fill="#b52025" />
<circle cx="1395.5" cy="1022.9" r="3.0" fill="#b52025" />
<circle cx="1399.4" cy="1027.2" r="3.0" fill="#b52025" />
<circle cx="1388.5" cy="1034.2" r="3.0" fill="#b52025" />
<circle cx="1394.9" cy="1037.3" r="3.0" fill="#b52025" />
<circle cx="1418.7" cy="1037.9" r="3.0" fill="#b52025" />
<circle cx="1386.5" cy="1042.4" r="3.0" fill="#b52025" />
<circle cx="1394.3" cy="1048.2" r="3.0" fill="#b52025" />
<circle cx="1391.4" cy="1051.5" r="3.0" fill="#b52025" />
<circle cx="1389.1" cy="1053.5" r="3.0" fill="#b52025" />
<circle cx="1395.3" cy="1055.6" r="3.0" fill="#b52025" />
<circle cx="1395.9" cy="1061.5" r="3.0" fill="#b52025" />
<circle cx="1394.3" cy="1069.1" r="3.0" fill="#b52025" />
<line x1="1341.9" y1="708.0" x2="1341.9" y2="1178.0" stroke="#111" stroke-width="1.4" stroke-dasharray="5.2 3.7"/>
<line x1="1385.9" y1="708.0" x2="1385.9" y2="1178.0" stroke="#111" stroke-width="1.4" stroke-dasharray="5.2 3.7"/>
<line x1="1174.5" y1="1071.1" x2="1553.0" y2="1071.1" stroke="#111" stroke-width="1.4" stroke-dasharray="5.2 3.7"/>
<path d="M1174.3 705.5 V1178.3 H1553" fill="none" stroke="#000" stroke-width="2.1" stroke-linejoin="miter"/>
<line x1="1170.5" y1="760.3" x2="1174.3" y2="760.3" stroke="#000" stroke-width="1.3" />
<text x="1163.8" y="765.9" font-size="15.7" text-anchor="end" stroke="#000" stroke-width="0.3" >6</text>
<line x1="1170.5" y1="892.7" x2="1174.3" y2="892.7" stroke="#000" stroke-width="1.3" />
<text x="1163.8" y="898.3" font-size="15.7" text-anchor="end" stroke="#000" stroke-width="0.3" >4</text>
<line x1="1170.5" y1="1025.1" x2="1174.3" y2="1025.1" stroke="#000" stroke-width="1.3" />
<text x="1163.8" y="1030.7" font-size="15.7" text-anchor="end" stroke="#000" stroke-width="0.3" >2</text>
<line x1="1170.5" y1="1157.5" x2="1174.3" y2="1157.5" stroke="#000" stroke-width="1.3" />
<text x="1163.8" y="1163.1" font-size="15.7" text-anchor="end" stroke="#000" stroke-width="0.3" >0</text>
<line x1="1175.4" y1="1178.3" x2="1175.4" y2="1182.5" stroke="#000" stroke-width="1.3" />
<text x="1172.9" y="1200.8" font-size="15.7" text-anchor="middle" stroke="#000" stroke-width="0.3" >−5.0</text>
<line x1="1269.4" y1="1178.3" x2="1269.4" y2="1182.5" stroke="#000" stroke-width="1.3" />
<text x="1266.9" y="1200.8" font-size="15.7" text-anchor="middle" stroke="#000" stroke-width="0.3" >−2.5</text>
<line x1="1363.3" y1="1178.3" x2="1363.3" y2="1182.5" stroke="#000" stroke-width="1.3" />
<text x="1363.3" y="1200.8" font-size="15.7" text-anchor="middle" stroke="#000" stroke-width="0.3" >0.0</text>
<line x1="1457.2" y1="1178.3" x2="1457.2" y2="1182.5" stroke="#000" stroke-width="1.3" />
<text x="1457.2" y="1200.8" font-size="15.7" text-anchor="middle" stroke="#000" stroke-width="0.3" >2.5</text>
<line x1="1551.5" y1="1178.3" x2="1551.5" y2="1182.5" stroke="#000" stroke-width="1.3" />
<text x="1551.5" y="1200.8" font-size="15.7" text-anchor="middle" stroke="#000" stroke-width="0.3" >5.0</text>
<text x="1275.4" y="1225.6" font-size="21" textLength="158.5" lengthAdjust="spacingAndGlyphs" stroke="#000" stroke-width="0.3" >Log2 KO/NC Ratio</text>
<text x="1144.7" y="1016.0" font-size="21" textLength="135.5" lengthAdjust="spacingAndGlyphs" transform="rotate(-90 1144.7 1016.0)" stroke="#000" stroke-width="0.3" >−Log10 P value</text>
<text x="1408.9" y="858.0" font-size="13.2" textLength="46.3" lengthAdjust="spacingAndGlyphs" stroke="#000" stroke-width="0.3" >MRPL30</text>
<line x1="1420.6" y1="834.0" x2="1428.0" y2="845.7" stroke="#111" stroke-width="1.0" />
<text x="1266.4" y="915.2" font-size="13.2" textLength="37.8" lengthAdjust="spacingAndGlyphs" stroke="#000" stroke-width="0.3" >KRT6A</text>
<line x1="1306.7" y1="890.9" x2="1298.9" y2="903.7" stroke="#111" stroke-width="1.0" />
<text x="1303.4" y="957.7" font-size="13.2" textLength="27.7" lengthAdjust="spacingAndGlyphs" stroke="#000" stroke-width="0.3" >KRT5</text>
<line x1="1318.9" y1="934.3" x2="1320.5" y2="945.0" stroke="#111" stroke-width="1.0" />
<text x="1406.2" y="949.3" font-size="13.2" textLength="43.2" lengthAdjust="spacingAndGlyphs" stroke="#000" stroke-width="0.3" >ARID4A</text>
<line x1="1403.7" y1="945.0" x2="1401.1" y2="990.8" stroke="#111" stroke-width="1.0" />
<text x="1436.8" y="991.2" font-size="13.2" textLength="38.9" lengthAdjust="spacingAndGlyphs" stroke="#000" stroke-width="0.3" >PTPRM</text>
<line x1="1434.8" y1="986.9" x2="1408.5" y2="1008.3" stroke="#111" stroke-width="1.0" />
<text x="1422.2" y="1030.7" font-size="13.2" textLength="37.4" lengthAdjust="spacingAndGlyphs" stroke="#000" stroke-width="0.3" >FOXC2</text>
<line x1="1418.9" y1="1025.8" x2="1401.1" y2="1027.2" stroke="#111" stroke-width="1.0" />
<text x="1414.4" y="1069.6" font-size="13.2" textLength="31.2" lengthAdjust="spacingAndGlyphs" stroke="#000" stroke-width="0.3" >PEMT</text>
<line x1="1419.4" y1="1039.8" x2="1429.0" y2="1058.0" stroke="#111" stroke-width="1.0" />
<text x="1250.8" y="1036.1" font-size="13.2" textLength="41.9" lengthAdjust="spacingAndGlyphs" stroke="#000" stroke-width="0.3" >WDR47</text>
<line x1="1301.8" y1="1032.1" x2="1314.1" y2="1034.6" stroke="#111" stroke-width="1.0" />
<text x="1254.3" y="1053.7" font-size="13.2" textLength="48.1" lengthAdjust="spacingAndGlyphs" stroke="#000" stroke-width="0.3" >MBLAC2</text>
<line x1="1310.2" y1="1050.9" x2="1332.2" y2="1050.9" stroke="#111" stroke-width="1.0" />
<text x="1252.7" y="1089.1" font-size="13.2" textLength="37.0" lengthAdjust="spacingAndGlyphs" stroke="#000" stroke-width="0.3" >N4BP1</text>
<line x1="1298.9" y1="1084.2" x2="1339.4" y2="1057.6" stroke="#111" stroke-width="1.0" />
<text x="1586.1" y="911.6" font-size="19.4" textLength="136.5" lengthAdjust="spacingAndGlyphs" stroke="#000" stroke-width="0.3" >Regulated Type</text>
<circle cx="1597.2" cy="935.7" r="3.1" fill="#b52025" />
<text x="1618.7" y="941.3" font-size="16" textLength="20.5" lengthAdjust="spacingAndGlyphs" stroke="#000" stroke-width="0.3" >Up</text>
<circle cx="1597.2" cy="958.4" r="3.1" fill="#4d6ec0" />
<text x="1618.7" y="964.0" font-size="16" textLength="43.5" lengthAdjust="spacingAndGlyphs" stroke="#000" stroke-width="0.3" >Down</text>
<circle cx="1597.2" cy="980.2" r="3.1" fill="#c0c0c0" />
<text x="1618.7" y="985.8" font-size="16" textLength="75.5" lengthAdjust="spacingAndGlyphs" stroke="#000" stroke-width="0.3" >Unchange</text></g>
<g id="panelF"><text x="174.7" y="1447.1" font-size="26" textLength="28.2" lengthAdjust="spacingAndGlyphs" stroke="#000" stroke-width="0.3" >EU</text>
<text x="278.1" y="1447.1" font-size="26" textLength="66.1" lengthAdjust="spacingAndGlyphs" stroke="#000" stroke-width="0.3" >53BP1</text>
<text x="409.1" y="1447.1" font-size="26" textLength="53.9" lengthAdjust="spacingAndGlyphs" stroke="#000" stroke-width="0.3" >DAPI</text>
<text x="524.8" y="1447.1" font-size="26" textLength="71.1" lengthAdjust="spacingAndGlyphs" stroke="#000" stroke-width="0.3" >Merge</text>
<defs><filter id="nz" x="-15%" y="-15%" width="130%" height="130%" color-interpolation-filters="sRGB"><feGaussianBlur in="SourceGraphic" stdDeviation="1.7" result="b"/><feTurbulence type="fractalNoise" baseFrequency="0.06" numOctaves="2" seed="5" result="t"/><feColorMatrix in="t" type="matrix" values="0.8 0 0 0 0.6  0.8 0 0 0 0.6  0.8 0 0 0 0.6  0 0 0 0 1" result="m"/><feComposite in="b" in2="m" operator="arithmetic" k1="1" k2="0" k3="0" k4="0"/></filter><filter id="b1" x="-50%" y="-50%" width="200%" height="200%"><feGaussianBlur stdDeviation="1.0"/></filter><filter id="b3" x="-60%" y="-60%" width="220%" height="220%"><feGaussianBlur stdDeviation="2.6"/></filter><filter id="b5" x="-30%" y="-30%" width="160%" height="160%"><feGaussianBlur stdDeviation="5.5"/></filter><radialGradient id="rg00"><stop offset="0" stop-color="#b0262b"/><stop offset="0.6" stop-color="#b0262b"/><stop offset="1" stop-color="#8e1f24"/></radialGradient><radialGradient id="rg01"><stop offset="0" stop-color="#1f6c30"/><stop offset="0.6" stop-color="#1f6c30"/><stop offset="1" stop-color="#164822"/></radialGradient><radialGradient id="rg02"><stop offset="0" stop-color="#2e38b8"/><stop offset="0.6" stop-color="#2e38b8"/><stop offset="1" stop-color="#4a5290"/></radialGradient><radialGradient id="rg03"><stop offset="0" stop-color="#7a3aa2"/><stop offset="0.6" stop-color="#7a3aa2"/><stop offset="1" stop-color="#4a3c92"/></radialGradient><radialGradient id="rg10"><stop offset="0" stop-color="#cc2526"/><stop offset="0.6" stop-color="#cc2526"/><stop offset="1" stop-color="#a81f22"/></radialGradient><radialGradient id="rg11"><stop offset="0" stop-color="#1c642a"/><stop offset="0.6" stop-color="#1c642a"/><stop offset="1" stop-color="#14421e"/></radialGradient><radialGradient id="rg12"><stop offset="0" stop-color="#3038bc"/><stop offset="0.6" stop-color="#3038bc"/><stop offset="1" stop-color="#4a5294"/></radialGradient><radialGradient id="rg13"><stop offset="0" stop-color="#9438a8"/><stop offset="0.6" stop-color="#9438a8"/><stop offset="1" stop-color="#5a3c9c"/></radialGradient><radialGradient id="rg20"><stop offset="0" stop-color="#dc3226"/><stop offset="0.6" stop-color="#dc3226"/><stop offset="1" stop-color="#b42822"/></radialGradient><radialGradient id="rg21"><stop offset="0" stop-color="#1b5c28"/><stop offset="0.6" stop-color="#1b5c28"/><stop offset="1" stop-color="#13401c"/></radialGradient><radialGradient id="rg22"><stop offset="0" stop-color="#3040b8"/><stop offset="0.6" stop-color="#3040b8"/><stop offset="1" stop-color="#4a5290"/></radialGradient><radialGradient id="rg23"><stop offset="0" stop-color="#a63a98"/><stop offset="0.6" stop-color="#a63a98"/><stop offset="1" stop-color="#5c3c98"/></radialGradient><radialGradient id="rg30"><stop offset="0" stop-color="#c82c26"/><stop offset="0.6" stop-color="#c82c26"/><stop offset="1" stop-color="#a02420"/></radialGradient><radialGradient id="rg31"><stop offset="0" stop-color="#1f6c30"/><stop offset="0.6" stop-color="#1f6c30"/><stop offset="1" stop-color="#164822"/></radialGradient><radialGradient id="rg32"><stop offset="0" stop-color="#303aa4"/><stop offset="0.6" stop-color="#303aa4"/><stop offset="1" stop-color="#4c5288"/></radialGradient><radialGradient id="rg33"><stop offset="0" stop-color="#ac3a8a"/><stop offset="0.6" stop-color="#ac3a8a"/><stop offset="1" stop-color="#6a3c90"/></radialGradient><radialGradient id="rg40"><stop offset="0" stop-color="#e02c20"/><stop offset="0.6" stop-color="#e02c20"/><stop offset="1" stop-color="#b42420"/></radialGradient><radialGradient id="rg41"><stop offset="0" stop-color="#1f6a30"/><stop offset="0.6" stop-color="#1f6a30"/><stop offset="1" stop-color="#164822"/></radialGradient><radialGradient id="rg42"><stop offset="0" stop-color="#2e3cb4"/><stop offset="0.6" stop-color="#2e3cb4"/><stop offset="1" stop-color="#485090"/></radialGradient><radialGradient id="rg43"><stop offset="0" stop-color="#aa489e"/><stop offset="0.6" stop-color="#aa489e"/><stop offset="1" stop-color="#5e44a0"/></radialGradient><radialGradient id="rg50"><stop offset="0" stop-color="#b02830"/><stop offset="0.6" stop-color="#b02830"/><stop offset="1" stop-color="#8c2028"/></radialGradient><radialGradient id="rg51"><stop offset="0" stop-color="#1b602a"/><stop offset="0.6" stop-color="#1b602a"/><stop offset="1" stop-color="#14421e"/></radialGradient><radialGradient id="rg52"><stop offset="0" stop-color="#2a36b0"/><stop offset="0.6" stop-color="#2a36b0"/><stop offset="1" stop-color="#464e8c"/></radialGradient><radialGradient id="rg53"><stop offset="0" stop-color="#803a9c"/><stop offset="0.6" stop-color="#803a9c"/><stop offset="1" stop-color="#44389a"/></radialGradient></defs>
<defs><path id="n00h" d="M194.0 1515.2C193.0 1518.4 191.6 1521.5 189.8 1524.3C188.1 1527.0 186.0 1529.5 183.6 1531.6C181.3 1533.6 178.6 1535.3 175.8 1536.4C173.0 1537.6 169.9 1538.3 167.0 1538.5C164.0 1538.7 160.8 1538.3 157.9 1537.6C155.0 1536.8 152.0 1535.5 149.5 1533.8C147.0 1532.2 144.6 1530.1 142.8 1527.7C140.9 1525.4 139.4 1522.6 138.4 1519.8C137.4 1516.9 136.8 1513.8 136.8 1510.7C136.7 1507.6 137.2 1504.3 138.0 1501.2C138.9 1498.1 140.3 1494.9 142.0 1492.0C143.6 1489.1 145.8 1486.2 148.0 1483.7C150.2 1481.2 152.9 1478.9 155.4 1477.0C158.0 1475.1 160.8 1473.4 163.5 1472.2C166.2 1471.1 169.0 1470.2 171.6 1469.9C174.2 1469.5 176.7 1469.5 179.1 1470.1C181.4 1470.6 183.6 1471.6 185.5 1472.9C187.5 1474.3 189.2 1476.2 190.7 1478.3C192.1 1480.5 193.4 1483.1 194.3 1485.9C195.2 1488.7 195.9 1491.9 196.2 1495.1C196.5 1498.3 196.5 1501.8 196.1 1505.2C195.8 1508.5 195.1 1512.0 194.0 1515.2Z"/><path id="n00b" d="M187.0 1512.1C186.2 1514.5 185.0 1517.0 183.7 1519.2C182.4 1521.3 180.8 1523.3 179.0 1524.9C177.2 1526.6 175.2 1527.9 173.1 1528.9C171.0 1529.8 168.8 1530.4 166.5 1530.6C164.3 1530.8 162.0 1530.6 159.9 1530.1C157.7 1529.6 155.6 1528.6 153.8 1527.4C151.9 1526.2 150.2 1524.5 148.9 1522.8C147.6 1521.0 146.5 1518.9 145.8 1516.7C145.1 1514.5 144.8 1512.1 144.8 1509.7C144.8 1507.3 145.2 1504.8 145.9 1502.3C146.6 1499.9 147.7 1497.4 149.0 1495.1C150.3 1492.9 151.9 1490.6 153.6 1488.6C155.3 1486.6 157.3 1484.8 159.3 1483.3C161.2 1481.7 163.3 1480.4 165.3 1479.4C167.3 1478.4 169.4 1477.7 171.3 1477.4C173.2 1477.1 175.1 1477.1 176.8 1477.4C178.5 1477.8 180.1 1478.5 181.5 1479.5C183.0 1480.5 184.2 1481.9 185.2 1483.6C186.3 1485.2 187.1 1487.3 187.8 1489.4C188.4 1491.6 188.8 1494.0 189.0 1496.5C189.1 1499.0 189.1 1501.7 188.7 1504.3C188.4 1506.9 187.8 1509.6 187.0 1512.1Z"/><path id="n00o" d="M188.1 1512.5C187.2 1515.1 186.1 1517.7 184.7 1520.0C183.3 1522.2 181.6 1524.3 179.7 1526.0C177.9 1527.7 175.7 1529.1 173.5 1530.1C171.4 1531.0 168.9 1531.7 166.6 1531.9C164.3 1532.1 161.8 1531.8 159.6 1531.3C157.3 1530.7 155.0 1529.7 153.1 1528.4C151.2 1527.1 149.3 1525.4 147.9 1523.5C146.5 1521.7 145.4 1519.5 144.6 1517.2C143.9 1514.9 143.5 1512.4 143.5 1509.9C143.5 1507.4 144.0 1504.7 144.7 1502.2C145.4 1499.6 146.6 1497.0 147.9 1494.7C149.2 1492.3 151.0 1489.9 152.7 1487.9C154.5 1485.8 156.6 1483.9 158.7 1482.3C160.7 1480.7 162.9 1479.3 165.0 1478.3C167.2 1477.3 169.3 1476.6 171.4 1476.2C173.4 1475.9 175.4 1475.9 177.2 1476.3C179.0 1476.6 180.7 1477.4 182.2 1478.5C183.7 1479.6 185.0 1481.0 186.1 1482.8C187.2 1484.5 188.1 1486.6 188.8 1488.9C189.5 1491.1 189.9 1493.7 190.1 1496.3C190.3 1498.9 190.2 1501.7 189.9 1504.4C189.6 1507.1 189.0 1510.0 188.1 1512.5Z"/><path id="n01h" d="M238.6 1538.9C238.4 1542.4 237.9 1545.9 237.0 1549.2C236.1 1552.4 234.7 1555.6 233.1 1558.3C231.5 1561.0 229.5 1563.5 227.3 1565.5C225.0 1567.5 222.4 1569.1 219.8 1570.2C217.2 1571.3 214.3 1571.9 211.5 1572.1C208.7 1572.2 205.8 1571.8 203.1 1570.9C200.5 1570.0 197.9 1568.6 195.6 1566.8C193.4 1565.1 191.4 1562.8 189.8 1560.3C188.2 1557.7 186.9 1554.8 186.1 1551.7C185.3 1548.6 184.9 1545.2 184.9 1541.9C184.9 1538.5 185.4 1534.9 186.2 1531.5C186.9 1528.1 188.1 1524.6 189.5 1521.5C190.9 1518.3 192.7 1515.2 194.5 1512.5C196.4 1509.8 198.5 1507.3 200.7 1505.3C202.8 1503.3 205.1 1501.6 207.4 1500.5C209.6 1499.4 212.0 1498.7 214.2 1498.5C216.4 1498.3 218.7 1498.6 220.8 1499.4C222.9 1500.2 224.9 1501.5 226.8 1503.2C228.7 1505.0 230.4 1507.2 231.9 1509.7C233.4 1512.2 234.8 1515.2 235.8 1518.3C236.9 1521.4 237.7 1524.9 238.2 1528.3C238.6 1531.7 238.8 1535.4 238.6 1538.9Z"/><path id="n01b" d="M231.0 1537.8C230.8 1540.6 230.4 1543.4 229.7 1546.0C229.0 1548.5 228.1 1551.1 226.9 1553.2C225.7 1555.4 224.2 1557.4 222.6 1559.0C221.0 1560.6 219.1 1561.9 217.3 1562.8C215.4 1563.7 213.3 1564.2 211.3 1564.3C209.3 1564.5 207.3 1564.2 205.4 1563.5C203.5 1562.8 201.7 1561.8 200.1 1560.4C198.5 1559.0 197.1 1557.2 196.0 1555.3C194.9 1553.3 194.1 1551.0 193.5 1548.5C193.0 1546.1 192.7 1543.4 192.8 1540.8C192.8 1538.1 193.2 1535.3 193.8 1532.6C194.4 1529.9 195.3 1527.1 196.3 1524.6C197.3 1522.1 198.6 1519.6 200.0 1517.5C201.3 1515.3 202.9 1513.3 204.4 1511.7C205.9 1510.1 207.6 1508.8 209.2 1507.8C210.8 1506.9 212.5 1506.3 214.1 1506.2C215.7 1506.0 217.3 1506.2 218.8 1506.8C220.3 1507.4 221.7 1508.4 223.0 1509.8C224.3 1511.1 225.5 1512.9 226.6 1514.8C227.6 1516.8 228.5 1519.1 229.3 1521.6C230.0 1524.0 230.5 1526.7 230.8 1529.5C231.1 1532.2 231.2 1535.1 231.0 1537.8Z"/><path id="n01o" d="M232.2 1538.0C232.0 1540.8 231.6 1543.8 230.8 1546.5C230.1 1549.1 229.1 1551.8 227.8 1554.0C226.6 1556.3 225.0 1558.4 223.3 1560.0C221.6 1561.7 219.7 1563.0 217.7 1564.0C215.7 1564.9 213.5 1565.4 211.4 1565.5C209.2 1565.7 207.0 1565.3 205.0 1564.7C203.1 1564.0 201.1 1562.8 199.4 1561.4C197.7 1560.0 196.2 1558.1 195.0 1556.0C193.9 1554.0 192.9 1551.6 192.4 1549.0C191.8 1546.5 191.5 1543.7 191.6 1540.9C191.6 1538.2 192.0 1535.2 192.6 1532.4C193.2 1529.6 194.1 1526.7 195.2 1524.1C196.3 1521.5 197.7 1518.9 199.1 1516.7C200.5 1514.4 202.2 1512.4 203.8 1510.7C205.5 1509.1 207.2 1507.7 208.9 1506.7C210.6 1505.7 212.4 1505.1 214.1 1505.0C215.8 1504.8 217.5 1505.0 219.1 1505.7C220.7 1506.3 222.2 1507.4 223.6 1508.8C225.0 1510.2 226.3 1512.0 227.4 1514.0C228.5 1516.1 229.5 1518.5 230.3 1521.1C231.0 1523.6 231.6 1526.5 232.0 1529.3C232.3 1532.1 232.4 1535.1 232.2 1538.0Z"/><path id="n10h" d="M191.2 1620.9C190.7 1624.5 189.8 1628.2 188.5 1631.4C187.3 1634.7 185.6 1637.8 183.6 1640.5C181.6 1643.1 179.2 1645.5 176.6 1647.3C174.0 1649.1 171.1 1650.4 168.1 1651.2C165.1 1652.0 161.9 1652.3 158.8 1652.1C155.7 1651.9 152.6 1651.1 149.8 1649.8C147.0 1648.6 144.2 1646.8 142.0 1644.7C139.7 1642.6 137.7 1640.0 136.3 1637.2C134.9 1634.4 133.8 1631.2 133.3 1627.9C132.8 1624.7 132.8 1621.1 133.2 1617.6C133.6 1614.2 134.6 1610.5 135.8 1607.1C137.1 1603.7 138.8 1600.2 140.7 1597.1C142.6 1594.0 144.9 1591.0 147.2 1588.5C149.5 1585.9 152.0 1583.6 154.5 1581.8C157.0 1579.9 159.6 1578.5 162.1 1577.5C164.5 1576.6 167.0 1576.1 169.4 1576.2C171.7 1576.2 174.0 1576.8 176.1 1577.9C178.2 1578.9 180.1 1580.5 181.9 1582.5C183.6 1584.5 185.3 1587.0 186.6 1589.8C187.9 1592.5 189.1 1595.8 189.9 1599.1C190.7 1602.5 191.3 1606.2 191.5 1609.8C191.7 1613.4 191.7 1617.3 191.2 1620.9Z"/><path id="n10b" d="M183.7 1619.0C183.3 1621.9 182.6 1624.8 181.6 1627.5C180.6 1630.1 179.3 1632.6 177.8 1634.7C176.3 1636.9 174.5 1638.8 172.6 1640.3C170.7 1641.7 168.4 1642.9 166.3 1643.6C164.1 1644.3 161.7 1644.5 159.4 1644.4C157.2 1644.3 154.9 1643.7 152.8 1642.8C150.8 1641.8 148.8 1640.4 147.2 1638.8C145.6 1637.2 144.2 1635.1 143.2 1632.9C142.1 1630.7 141.4 1628.2 141.1 1625.6C140.8 1623.0 140.9 1620.2 141.2 1617.4C141.6 1614.6 142.3 1611.7 143.3 1609.0C144.3 1606.2 145.6 1603.5 147.1 1601.0C148.5 1598.5 150.2 1596.0 151.9 1594.0C153.7 1591.9 155.6 1590.0 157.4 1588.5C159.3 1587.0 161.2 1585.8 163.0 1585.0C164.9 1584.2 166.7 1583.8 168.4 1583.8C170.1 1583.8 171.8 1584.2 173.3 1585.0C174.8 1585.8 176.3 1587.1 177.5 1588.6C178.8 1590.2 179.9 1592.2 180.8 1594.3C181.8 1596.5 182.6 1599.1 183.1 1601.7C183.7 1604.4 184.1 1607.3 184.1 1610.2C184.2 1613.1 184.1 1616.2 183.7 1619.0Z"/><path id="n10o" d="M184.8 1619.3C184.4 1622.3 183.7 1625.4 182.7 1628.1C181.6 1630.8 180.3 1633.4 178.7 1635.6C177.2 1637.8 175.2 1639.8 173.2 1641.3C171.2 1642.9 168.9 1644.0 166.5 1644.8C164.2 1645.5 161.7 1645.8 159.3 1645.6C157.0 1645.5 154.5 1644.8 152.3 1643.9C150.2 1642.9 148.1 1641.4 146.4 1639.7C144.7 1638.0 143.2 1635.9 142.1 1633.6C141.0 1631.3 140.3 1628.6 139.9 1625.9C139.5 1623.3 139.6 1620.3 140.0 1617.4C140.3 1614.5 141.1 1611.5 142.2 1608.7C143.2 1605.8 144.6 1603.0 146.1 1600.4C147.6 1597.8 149.4 1595.3 151.2 1593.1C153.0 1590.9 155.0 1589.0 157.0 1587.4C158.9 1585.9 160.9 1584.7 162.9 1583.8C164.8 1583.0 166.8 1582.6 168.6 1582.6C170.4 1582.6 172.1 1583.1 173.7 1583.9C175.4 1584.8 176.9 1586.0 178.2 1587.7C179.5 1589.3 180.7 1591.3 181.7 1593.6C182.7 1595.9 183.6 1598.6 184.2 1601.3C184.8 1604.1 185.2 1607.1 185.3 1610.1C185.4 1613.1 185.3 1616.3 184.8 1619.3Z"/><path id="n11h" d="M251.2 1651.2C252.7 1653.8 253.9 1656.8 254.5 1659.8C255.2 1662.8 255.5 1666.0 255.2 1669.1C255.0 1672.2 254.3 1675.4 253.1 1678.4C252.0 1681.3 250.4 1684.3 248.5 1686.8C246.6 1689.4 244.2 1691.8 241.6 1693.8C239.1 1695.8 236.1 1697.5 233.1 1698.7C230.1 1699.9 226.9 1700.8 223.7 1701.2C220.5 1701.5 217.1 1701.5 214.0 1701.0C210.9 1700.5 207.8 1699.5 205.0 1698.1C202.1 1696.8 199.5 1695.0 197.2 1692.9C195.0 1690.8 192.9 1688.3 191.4 1685.7C189.9 1683.0 188.7 1680.0 188.1 1677.0C187.4 1674.0 187.1 1670.8 187.4 1667.7C187.6 1664.6 188.3 1661.4 189.5 1658.4C190.6 1655.5 192.2 1652.5 194.1 1650.0C196.0 1647.4 198.4 1645.0 201.0 1643.0C203.5 1641.0 206.5 1639.3 209.5 1638.1C212.5 1636.9 215.7 1636.0 218.9 1635.6C222.1 1635.3 225.5 1635.3 228.6 1635.8C231.7 1636.3 234.8 1637.3 237.6 1638.7C240.5 1640.0 243.1 1641.8 245.4 1643.9C247.6 1646.0 249.7 1648.5 251.2 1651.2Z"/><path id="n11b" d="M244.5 1655.0C245.7 1657.0 246.6 1659.3 247.1 1661.6C247.6 1663.9 247.7 1666.4 247.5 1668.7C247.3 1671.1 246.8 1673.6 245.9 1675.9C245.0 1678.1 243.7 1680.4 242.2 1682.4C240.7 1684.4 238.9 1686.2 236.9 1687.8C234.9 1689.3 232.6 1690.6 230.3 1691.6C227.9 1692.5 225.4 1693.2 222.9 1693.5C220.5 1693.8 217.9 1693.8 215.5 1693.4C213.1 1693.0 210.6 1692.3 208.5 1691.3C206.3 1690.3 204.3 1688.9 202.5 1687.3C200.8 1685.7 199.3 1683.8 198.1 1681.8C196.9 1679.8 196.0 1677.5 195.5 1675.2C195.0 1672.9 194.9 1670.4 195.1 1668.1C195.3 1665.7 195.8 1663.2 196.7 1660.9C197.6 1658.7 198.9 1656.4 200.4 1654.4C201.9 1652.4 203.7 1650.6 205.7 1649.0C207.7 1647.5 210.0 1646.2 212.3 1645.2C214.7 1644.3 217.2 1643.6 219.7 1643.3C222.1 1643.0 224.7 1643.0 227.1 1643.4C229.5 1643.8 232.0 1644.5 234.1 1645.5C236.3 1646.5 238.3 1647.9 240.1 1649.5C241.8 1651.1 243.3 1653.0 244.5 1655.0Z"/><path id="n11o" d="M245.5 1654.4C246.8 1656.5 247.7 1658.9 248.2 1661.3C248.8 1663.7 248.9 1666.3 248.7 1668.8C248.5 1671.3 247.9 1673.9 247.0 1676.2C246.1 1678.6 244.8 1681.0 243.2 1683.1C241.6 1685.1 239.7 1687.1 237.6 1688.7C235.5 1690.3 233.1 1691.7 230.7 1692.7C228.3 1693.7 225.6 1694.4 223.1 1694.7C220.5 1695.0 217.8 1695.0 215.2 1694.6C212.7 1694.2 210.2 1693.4 207.9 1692.4C205.7 1691.3 203.5 1689.8 201.7 1688.2C199.9 1686.5 198.3 1684.5 197.1 1682.4C195.8 1680.3 194.9 1677.9 194.4 1675.5C193.8 1673.1 193.7 1670.5 193.9 1668.0C194.1 1665.5 194.7 1662.9 195.6 1660.6C196.5 1658.2 197.8 1655.8 199.4 1653.7C201.0 1651.7 202.9 1649.7 205.0 1648.1C207.1 1646.5 209.5 1645.1 211.9 1644.1C214.3 1643.1 217.0 1642.4 219.5 1642.1C222.1 1641.8 224.8 1641.8 227.4 1642.2C229.9 1642.6 232.4 1643.4 234.7 1644.4C236.9 1645.5 239.1 1647.0 240.9 1648.6C242.7 1650.3 244.3 1652.3 245.5 1654.4Z"/><path id="n20h" d="M203.1 1713.9C204.3 1716.2 205.1 1718.8 205.4 1721.4C205.7 1724.1 205.5 1727.0 204.8 1729.8C204.2 1732.6 203.0 1735.6 201.4 1738.3C199.9 1741.1 197.8 1743.8 195.5 1746.3C193.2 1748.7 190.4 1751.1 187.5 1753.0C184.6 1755.0 181.3 1756.7 178.1 1758.0C174.8 1759.4 171.3 1760.3 168.0 1760.9C164.7 1761.5 161.2 1761.6 158.1 1761.4C154.9 1761.1 151.8 1760.5 149.1 1759.4C146.4 1758.4 143.9 1757.0 141.9 1755.2C139.8 1753.5 138.1 1751.4 136.9 1749.1C135.7 1746.8 134.9 1744.2 134.6 1741.6C134.3 1738.9 134.5 1736.0 135.2 1733.3C135.9 1730.6 137.1 1727.6 138.9 1725.3C140.7 1723.0 143.2 1721.0 146.0 1719.6C148.8 1718.1 152.7 1717.8 156.0 1716.5C159.2 1715.2 162.5 1713.4 165.4 1711.5C168.3 1709.6 170.7 1706.5 173.5 1704.9C176.3 1703.4 179.4 1702.5 182.3 1702.3C185.2 1702.1 188.3 1702.8 190.9 1703.7C193.6 1704.6 196.1 1706.1 198.1 1707.8C200.2 1709.5 201.9 1711.6 203.1 1713.9Z"/><path id="n20b" d="M196.3 1717.5C197.2 1719.1 197.7 1721.1 197.9 1723.0C198.0 1724.9 197.8 1727.1 197.2 1729.2C196.6 1731.3 195.6 1733.5 194.3 1735.6C193.0 1737.6 191.3 1739.7 189.4 1741.6C187.5 1743.5 185.3 1745.3 182.9 1746.8C180.6 1748.3 178.0 1749.7 175.5 1750.8C172.9 1751.9 170.1 1752.7 167.5 1753.2C164.9 1753.7 162.2 1754.0 159.8 1753.9C157.4 1753.8 155.0 1753.4 152.9 1752.7C150.8 1752.1 148.9 1751.1 147.4 1749.8C145.8 1748.6 144.6 1747.1 143.7 1745.5C142.8 1743.9 142.3 1741.9 142.1 1740.0C142.0 1738.1 142.2 1735.9 142.9 1733.9C143.5 1731.9 144.5 1729.7 146.0 1727.9C147.5 1726.2 149.4 1724.6 151.7 1723.4C154.0 1722.3 157.0 1722.0 159.6 1720.9C162.1 1719.8 164.7 1718.4 167.0 1716.9C169.4 1715.4 171.3 1713.0 173.6 1711.8C175.8 1710.6 178.2 1709.8 180.5 1709.6C182.7 1709.4 185.1 1709.8 187.2 1710.4C189.2 1711.0 191.1 1712.0 192.6 1713.2C194.2 1714.4 195.4 1715.9 196.3 1717.5Z"/><path id="n20o" d="M197.4 1716.9C198.3 1718.7 198.9 1720.7 199.0 1722.8C199.2 1724.8 199.0 1727.1 198.4 1729.3C197.7 1731.5 196.7 1733.8 195.4 1736.0C194.0 1738.2 192.3 1740.4 190.3 1742.3C188.4 1744.3 186.1 1746.2 183.7 1747.8C181.2 1749.4 178.5 1750.8 175.9 1751.9C173.2 1753.0 170.3 1753.9 167.6 1754.4C164.9 1754.9 162.1 1755.2 159.5 1755.0C157.0 1754.9 154.5 1754.5 152.3 1753.8C150.1 1753.0 148.1 1752.0 146.5 1750.7C144.9 1749.4 143.6 1747.8 142.6 1746.1C141.7 1744.3 141.1 1742.3 141.0 1740.3C140.8 1738.2 141.0 1735.9 141.7 1733.8C142.3 1731.7 143.4 1729.4 144.9 1727.5C146.4 1725.7 148.5 1724.1 150.8 1722.8C153.2 1721.6 156.3 1721.3 159.0 1720.2C161.7 1719.1 164.4 1717.6 166.8 1716.1C169.2 1714.5 171.2 1712.0 173.5 1710.7C175.9 1709.5 178.4 1708.7 180.7 1708.5C183.1 1708.2 185.6 1708.7 187.7 1709.3C189.9 1710.0 191.9 1711.1 193.5 1712.3C195.1 1713.6 196.4 1715.2 197.4 1716.9Z"/><path id="n21h" d="M234.9 1783.5C235.9 1787.2 236.7 1791.2 236.9 1795.0C237.2 1798.8 237.0 1802.6 236.4 1806.1C235.8 1809.6 234.6 1813.0 233.2 1815.9C231.7 1818.8 229.7 1821.5 227.5 1823.6C225.3 1825.8 222.6 1827.5 219.9 1828.7C217.2 1829.8 214.1 1830.4 211.2 1830.5C208.2 1830.6 205.1 1830.1 202.2 1829.0C199.3 1828.0 196.4 1826.3 193.9 1824.3C191.3 1822.2 188.9 1819.5 186.9 1816.6C185.0 1813.7 183.2 1810.2 181.9 1806.7C180.6 1803.1 179.7 1799.2 179.1 1795.3C178.6 1791.5 178.4 1787.3 178.6 1783.5C178.7 1779.6 179.3 1775.7 180.2 1772.2C181.0 1768.6 182.2 1765.2 183.6 1762.3C185.0 1759.4 186.7 1756.8 188.6 1754.7C190.5 1752.7 192.6 1751.0 194.9 1750.0C197.1 1748.9 199.6 1748.4 202.0 1748.5C204.5 1748.5 207.1 1749.1 209.7 1750.2C212.2 1751.3 214.9 1753.1 217.4 1755.1C219.8 1757.2 222.3 1759.9 224.5 1762.7C226.7 1765.6 228.8 1769.0 230.6 1772.4C232.3 1775.9 233.8 1779.7 234.9 1783.5Z"/><path id="n21b" d="M227.3 1785.1C228.2 1788.1 228.8 1791.4 229.1 1794.4C229.3 1797.5 229.2 1800.6 228.8 1803.4C228.4 1806.3 227.7 1809.0 226.6 1811.3C225.6 1813.7 224.2 1815.8 222.6 1817.5C221.0 1819.2 219.1 1820.6 217.1 1821.4C215.2 1822.3 212.9 1822.8 210.8 1822.8C208.6 1822.8 206.3 1822.3 204.2 1821.4C202.0 1820.5 199.9 1819.2 198.0 1817.4C196.1 1815.7 194.3 1813.5 192.8 1811.1C191.2 1808.7 189.9 1805.9 188.9 1803.0C187.9 1800.1 187.1 1796.9 186.7 1793.7C186.2 1790.6 186.0 1787.2 186.0 1784.1C186.1 1781.0 186.5 1777.8 187.0 1775.0C187.6 1772.1 188.4 1769.4 189.4 1767.0C190.4 1764.7 191.6 1762.6 192.9 1761.0C194.3 1759.3 195.8 1758.0 197.4 1757.2C199.1 1756.4 200.8 1756.0 202.7 1756.1C204.5 1756.2 206.4 1756.7 208.3 1757.7C210.2 1758.6 212.2 1760.1 214.0 1761.8C215.9 1763.5 217.7 1765.7 219.4 1768.1C221.1 1770.5 222.7 1773.2 224.0 1776.1C225.3 1778.9 226.5 1782.0 227.3 1785.1Z"/><path id="n21o" d="M228.5 1784.8C229.4 1788.0 230.0 1791.4 230.3 1794.5C230.5 1797.7 230.5 1800.9 230.0 1803.9C229.6 1806.8 228.8 1809.6 227.7 1812.1C226.5 1814.5 225.1 1816.7 223.4 1818.5C221.7 1820.2 219.7 1821.6 217.6 1822.6C215.5 1823.5 213.1 1824.0 210.8 1824.0C208.6 1824.0 206.1 1823.5 203.9 1822.6C201.6 1821.7 199.3 1820.3 197.3 1818.5C195.3 1816.7 193.4 1814.5 191.9 1812.0C190.3 1809.5 188.9 1806.6 187.8 1803.6C186.8 1800.6 186.0 1797.2 185.5 1794.0C185.0 1790.7 184.8 1787.3 184.9 1784.0C185.0 1780.8 185.3 1777.5 185.9 1774.5C186.5 1771.6 187.4 1768.7 188.5 1766.3C189.5 1763.9 190.8 1761.7 192.3 1760.0C193.7 1758.3 195.3 1756.9 197.0 1756.1C198.8 1755.3 200.6 1754.9 202.6 1754.9C204.5 1755.0 206.5 1755.6 208.5 1756.5C210.5 1757.5 212.6 1759.0 214.5 1760.8C216.5 1762.5 218.4 1764.8 220.2 1767.3C221.9 1769.7 223.6 1772.6 225.0 1775.5C226.4 1778.4 227.6 1781.7 228.5 1784.8Z"/><path id="n30h" d="M186.7 1884.7C185.9 1888.2 184.8 1891.8 183.3 1895.0C181.8 1898.2 179.9 1901.3 177.7 1903.8C175.5 1906.4 172.9 1908.7 170.1 1910.4C167.4 1912.1 164.3 1913.4 161.3 1914.1C158.2 1914.9 154.9 1915.1 151.9 1914.8C148.8 1914.5 145.6 1913.7 142.8 1912.4C140.0 1911.1 137.3 1909.3 135.0 1907.1C132.7 1904.9 130.7 1902.3 129.2 1899.4C127.7 1896.6 126.6 1893.3 126.0 1890.0C125.3 1886.7 125.2 1883.0 125.5 1879.5C125.8 1876.0 126.6 1872.3 127.7 1868.9C128.9 1865.5 130.5 1862.0 132.4 1858.9C134.2 1855.8 136.5 1852.9 138.9 1850.3C141.2 1847.8 143.9 1845.6 146.6 1843.8C149.3 1842.1 152.1 1840.7 154.9 1839.9C157.7 1839.1 160.5 1838.8 163.2 1839.0C165.9 1839.1 168.5 1839.8 170.9 1841.0C173.3 1842.2 175.6 1843.9 177.6 1846.0C179.6 1848.1 181.4 1850.7 182.9 1853.6C184.3 1856.4 185.5 1859.7 186.3 1863.0C187.1 1866.4 187.6 1870.1 187.6 1873.7C187.7 1877.3 187.4 1881.1 186.7 1884.7Z"/><path id="n30b" d="M179.2 1882.7C178.6 1885.5 177.7 1888.4 176.6 1891.0C175.4 1893.5 173.9 1896.0 172.2 1898.1C170.5 1900.1 168.5 1902.0 166.5 1903.4C164.4 1904.8 162.1 1905.9 159.8 1906.5C157.5 1907.1 155.0 1907.3 152.7 1907.2C150.4 1907.0 148.0 1906.3 145.9 1905.3C143.8 1904.4 141.8 1902.9 140.1 1901.2C138.5 1899.5 137.0 1897.4 135.9 1895.2C134.8 1892.9 134.0 1890.3 133.6 1887.7C133.1 1885.1 133.1 1882.2 133.3 1879.4C133.6 1876.6 134.3 1873.7 135.2 1870.9C136.1 1868.1 137.4 1865.4 138.8 1862.9C140.2 1860.4 142.0 1858.0 143.8 1856.0C145.6 1853.9 147.6 1852.1 149.7 1850.7C151.7 1849.3 153.9 1848.1 156.0 1847.5C158.1 1846.8 160.2 1846.5 162.2 1846.6C164.2 1846.7 166.2 1847.2 168.0 1848.1C169.8 1849.0 171.5 1850.4 172.9 1852.0C174.4 1853.6 175.7 1855.7 176.8 1857.9C177.8 1860.2 178.7 1862.8 179.2 1865.5C179.8 1868.1 180.1 1871.1 180.1 1874.0C180.1 1876.8 179.8 1879.9 179.2 1882.7Z"/><path id="n30o" d="M180.4 1883.0C179.8 1886.0 178.8 1888.9 177.6 1891.6C176.4 1894.3 174.8 1896.8 173.1 1899.0C171.3 1901.1 169.2 1903.0 167.0 1904.5C164.9 1905.9 162.4 1907.0 160.0 1907.7C157.6 1908.3 155.0 1908.6 152.6 1908.3C150.1 1908.1 147.6 1907.5 145.4 1906.4C143.2 1905.4 141.1 1903.9 139.3 1902.1C137.6 1900.4 136.0 1898.2 134.8 1895.8C133.7 1893.5 132.8 1890.8 132.4 1888.1C131.9 1885.3 131.8 1882.3 132.1 1879.4C132.4 1876.5 133.1 1873.4 134.0 1870.6C135.0 1867.7 136.3 1864.8 137.8 1862.3C139.3 1859.7 141.1 1857.2 143.0 1855.1C144.9 1853.0 147.1 1851.1 149.2 1849.6C151.3 1848.2 153.6 1847.0 155.8 1846.3C158.0 1845.6 160.3 1845.3 162.4 1845.4C164.5 1845.5 166.6 1846.1 168.4 1847.0C170.3 1848.0 172.1 1849.4 173.7 1851.1C175.2 1852.8 176.6 1854.9 177.7 1857.3C178.8 1859.6 179.7 1862.3 180.3 1865.1C180.9 1867.9 181.3 1870.9 181.3 1873.9C181.3 1876.9 181.0 1880.1 180.4 1883.0Z"/><path id="n31h" d="M225.1 1921.6C222.5 1923.9 219.5 1926.1 216.5 1927.8C213.5 1929.5 210.3 1930.9 207.1 1931.7C204.0 1932.6 200.7 1933.1 197.7 1933.0C194.7 1933.0 191.6 1932.5 188.9 1931.6C186.3 1930.7 183.7 1929.2 181.6 1927.5C179.5 1925.8 177.7 1923.6 176.3 1921.2C175.0 1918.8 174.0 1916.1 173.6 1913.3C173.2 1910.5 173.2 1907.4 173.7 1904.4C174.2 1901.4 175.2 1898.3 176.6 1895.3C178.0 1892.4 179.9 1889.4 182.1 1886.8C184.3 1884.1 186.9 1881.6 189.7 1879.4C192.5 1877.3 195.6 1875.3 198.8 1873.8C201.9 1872.2 205.3 1871.0 208.5 1870.2C211.7 1869.4 215.0 1869.0 218.0 1869.0C221.0 1869.0 223.9 1869.4 226.5 1870.2C229.1 1871.0 231.5 1872.2 233.4 1873.8C235.4 1875.3 237.0 1877.3 238.2 1879.5C239.4 1881.7 240.2 1884.2 240.5 1886.9C240.9 1889.6 240.8 1892.6 240.2 1895.6C239.7 1898.5 238.7 1901.7 237.4 1904.7C236.1 1907.7 234.3 1910.8 232.2 1913.6C230.2 1916.4 227.7 1919.2 225.1 1921.6Z"/><path id="n31b" d="M220.1 1915.7C218.0 1917.5 215.7 1919.3 213.4 1920.7C211.0 1922.0 208.5 1923.2 206.1 1924.0C203.6 1924.7 201.1 1925.2 198.8 1925.3C196.5 1925.4 194.2 1925.1 192.2 1924.5C190.1 1923.9 188.2 1922.9 186.7 1921.7C185.2 1920.5 183.8 1918.9 182.9 1917.2C182.0 1915.5 181.3 1913.4 181.1 1911.3C180.9 1909.2 181.0 1906.9 181.5 1904.7C182.0 1902.4 182.9 1900.0 184.1 1897.8C185.2 1895.5 186.8 1893.2 188.6 1891.1C190.4 1889.1 192.5 1887.1 194.7 1885.3C196.9 1883.6 199.3 1882.0 201.8 1880.8C204.2 1879.5 206.9 1878.4 209.3 1877.7C211.8 1877.0 214.3 1876.6 216.6 1876.5C218.9 1876.4 221.2 1876.6 223.1 1877.1C225.1 1877.6 226.8 1878.4 228.3 1879.5C229.7 1880.6 230.9 1882.0 231.7 1883.6C232.5 1885.2 233.1 1887.1 233.2 1889.1C233.4 1891.1 233.2 1893.3 232.7 1895.6C232.2 1897.8 231.3 1900.2 230.2 1902.6C229.0 1904.9 227.5 1907.3 225.9 1909.5C224.2 1911.6 222.2 1913.8 220.1 1915.7Z"/><path id="n31o" d="M220.9 1916.6C218.7 1918.5 216.3 1920.3 213.8 1921.8C211.4 1923.2 208.8 1924.4 206.2 1925.2C203.7 1926.0 201.1 1926.4 198.6 1926.5C196.2 1926.6 193.8 1926.3 191.7 1925.6C189.5 1925.0 187.5 1923.9 185.9 1922.6C184.3 1921.3 182.9 1919.7 181.9 1917.8C180.9 1916.0 180.2 1913.8 179.9 1911.6C179.7 1909.4 179.8 1907.0 180.3 1904.6C180.8 1902.2 181.7 1899.7 182.9 1897.4C184.1 1895.0 185.7 1892.6 187.6 1890.5C189.4 1888.3 191.6 1886.2 193.9 1884.4C196.2 1882.6 198.8 1881.0 201.3 1879.7C203.9 1878.4 206.6 1877.3 209.2 1876.6C211.8 1875.8 214.4 1875.4 216.8 1875.3C219.3 1875.2 221.6 1875.4 223.6 1876.0C225.7 1876.5 227.6 1877.4 229.1 1878.6C230.6 1879.8 231.9 1881.3 232.7 1883.0C233.6 1884.6 234.2 1886.6 234.4 1888.8C234.5 1890.9 234.4 1893.2 233.9 1895.6C233.3 1897.9 232.5 1900.5 231.3 1902.9C230.1 1905.3 228.6 1907.8 226.9 1910.1C225.1 1912.4 223.1 1914.6 220.9 1916.6Z"/><path id="n40h" d="M188.7 2004.3C186.8 2007.9 184.3 2011.4 181.6 2014.5C179.0 2017.6 176.0 2020.5 173.0 2022.9C170.0 2025.3 166.7 2027.4 163.6 2028.9C160.5 2030.4 157.2 2031.4 154.3 2031.9C151.3 2032.4 148.3 2032.3 145.7 2031.7C143.0 2031.1 140.5 2030.0 138.3 2028.3C136.2 2026.7 134.2 2024.4 132.7 2021.8C131.1 2019.2 129.9 2016.1 129.0 2012.7C128.2 2009.4 127.6 2005.6 127.5 2001.7C127.4 1997.9 127.7 1993.7 128.4 1989.7C129.1 1985.7 130.2 1981.5 131.7 1977.7C133.1 1973.9 135.0 1970.1 137.2 1966.8C139.4 1963.5 142.0 1960.4 144.8 1957.9C147.6 1955.4 150.8 1953.3 154.0 1951.8C157.2 1950.4 160.7 1949.4 164.0 1949.1C167.3 1948.8 170.8 1949.1 173.9 1949.9C177.1 1950.7 180.2 1952.2 182.9 1954.1C185.5 1955.9 188.0 1958.4 189.9 1961.2C191.8 1963.9 193.3 1967.2 194.2 1970.6C195.1 1974.0 195.6 1977.7 195.5 1981.5C195.3 1985.2 194.7 1989.2 193.5 1993.0C192.4 1996.8 190.7 2000.7 188.7 2004.3Z"/><path id="n40b" d="M181.8 2001.1C180.2 2004.0 178.1 2006.9 176.1 2009.5C174.0 2012.1 171.6 2014.5 169.2 2016.5C166.8 2018.6 164.3 2020.3 161.8 2021.6C159.4 2022.9 156.9 2023.8 154.6 2024.3C152.3 2024.8 150.0 2024.8 148.0 2024.4C146.0 2024.0 144.1 2023.1 142.5 2021.8C140.8 2020.5 139.4 2018.8 138.3 2016.7C137.2 2014.6 136.3 2012.1 135.7 2009.4C135.1 2006.7 134.8 2003.6 134.9 2000.5C134.9 1997.4 135.2 1994.0 135.8 1990.8C136.5 1987.5 137.4 1984.1 138.6 1980.9C139.9 1977.8 141.4 1974.7 143.2 1971.9C145.0 1969.2 147.0 1966.6 149.3 1964.5C151.5 1962.4 154.0 1960.7 156.4 1959.4C158.9 1958.1 161.6 1957.3 164.2 1956.9C166.7 1956.6 169.4 1956.7 171.8 1957.3C174.2 1957.9 176.6 1959.0 178.5 1960.5C180.5 1961.9 182.4 1963.9 183.7 1966.0C185.1 1968.2 186.2 1970.8 186.8 1973.6C187.5 1976.3 187.7 1979.3 187.5 1982.4C187.3 1985.4 186.7 1988.7 185.7 1991.8C184.8 1994.9 183.4 1998.1 181.8 2001.1Z"/><path id="n40o" d="M182.9 2001.6C181.2 2004.6 179.1 2007.6 176.9 2010.3C174.7 2013.0 172.2 2015.5 169.8 2017.5C167.3 2019.6 164.6 2021.4 162.1 2022.7C159.6 2024.1 156.9 2025.0 154.5 2025.5C152.1 2026.0 149.7 2026.0 147.6 2025.5C145.5 2025.1 143.5 2024.2 141.8 2022.8C140.1 2021.5 138.6 2019.7 137.4 2017.5C136.2 2015.4 135.3 2012.7 134.7 2009.9C134.0 2007.1 133.7 2003.9 133.7 2000.7C133.7 1997.5 134.0 1994.0 134.7 1990.6C135.3 1987.2 136.3 1983.7 137.5 1980.4C138.8 1977.2 140.4 1974.0 142.3 1971.1C144.1 1968.3 146.3 1965.7 148.6 1963.5C150.9 1961.3 153.5 1959.5 156.1 1958.2C158.7 1956.9 161.5 1956.1 164.2 1955.7C166.8 1955.4 169.6 1955.5 172.1 1956.2C174.6 1956.8 177.1 1957.9 179.2 1959.5C181.3 1961.0 183.2 1963.0 184.7 1965.3C186.2 1967.6 187.3 1970.3 188.0 1973.1C188.7 1975.9 188.9 1979.1 188.7 1982.2C188.6 1985.4 187.9 1988.8 187.0 1992.0C186.0 1995.2 184.5 1998.5 182.9 2001.6Z"/><path id="n41h" d="M250.4 2038.2C249.6 2042.2 248.4 2046.3 246.8 2049.9C245.1 2053.5 243.0 2057.0 240.6 2059.9C238.2 2062.8 235.3 2065.4 232.3 2067.4C229.3 2069.3 225.8 2070.8 222.4 2071.7C219.0 2072.5 215.4 2072.8 211.9 2072.4C208.5 2072.1 204.9 2071.2 201.8 2069.7C198.7 2068.3 195.6 2066.2 193.1 2063.8C190.6 2061.4 188.3 2058.4 186.7 2055.1C185.1 2051.9 183.9 2048.3 183.2 2044.5C182.6 2040.8 182.5 2036.7 182.9 2032.8C183.3 2028.8 184.3 2024.7 185.6 2020.8C187.0 2017.0 188.9 2013.1 191.0 2009.6C193.1 2006.1 195.7 2002.7 198.3 1999.9C201.0 1997.0 204.0 1994.5 206.9 1992.5C209.9 1990.5 213.0 1989.0 216.0 1988.0C219.0 1987.1 222.1 1986.6 225.0 1986.8C227.9 1987.0 230.7 1987.7 233.3 1989.0C235.9 1990.3 238.3 1992.2 240.5 1994.6C242.6 1996.9 244.5 1999.8 246.1 2003.0C247.7 2006.2 249.0 2009.9 249.8 2013.7C250.7 2017.5 251.3 2021.7 251.3 2025.7C251.4 2029.8 251.1 2034.1 250.4 2038.2Z"/><path id="n41b" d="M242.9 2036.2C242.3 2039.5 241.3 2042.8 240.0 2045.8C238.7 2048.8 237.0 2051.7 235.1 2054.1C233.2 2056.5 230.9 2058.7 228.6 2060.3C226.2 2062.0 223.5 2063.2 220.9 2064.0C218.2 2064.7 215.4 2065.0 212.7 2064.8C210.1 2064.6 207.3 2063.8 204.9 2062.7C202.5 2061.5 200.2 2059.9 198.3 2057.9C196.4 2056.0 194.7 2053.5 193.4 2050.9C192.2 2048.3 191.3 2045.3 190.9 2042.3C190.5 2039.2 190.4 2035.9 190.8 2032.7C191.2 2029.4 192.0 2026.0 193.1 2022.8C194.2 2019.6 195.7 2016.4 197.4 2013.5C199.1 2010.6 201.1 2007.9 203.2 2005.5C205.3 2003.1 207.6 2001.0 209.9 1999.3C212.2 1997.7 214.7 1996.3 217.0 1995.5C219.4 1994.7 221.8 1994.3 224.0 1994.4C226.2 1994.5 228.4 1995.1 230.4 1996.1C232.3 1997.2 234.2 1998.7 235.8 2000.6C237.5 2002.4 238.9 2004.8 240.1 2007.4C241.3 2010.0 242.2 2013.0 242.8 2016.1C243.5 2019.2 243.8 2022.6 243.8 2026.0C243.9 2029.3 243.6 2032.9 242.9 2036.2Z"/><path id="n41o" d="M244.1 2036.5C243.4 2039.9 242.4 2043.4 241.0 2046.5C239.7 2049.6 237.9 2052.5 235.9 2055.0C234.0 2057.5 231.6 2059.7 229.1 2061.4C226.7 2063.1 223.9 2064.4 221.1 2065.2C218.4 2065.9 215.4 2066.2 212.6 2066.0C209.8 2065.7 207.0 2065.0 204.4 2063.8C201.9 2062.6 199.5 2060.9 197.5 2058.8C195.5 2056.8 193.7 2054.3 192.4 2051.6C191.1 2048.9 190.2 2045.8 189.7 2042.6C189.2 2039.5 189.2 2036.0 189.6 2032.7C189.9 2029.3 190.8 2025.8 191.9 2022.5C193.1 2019.2 194.6 2015.9 196.4 2012.9C198.1 2009.9 200.2 2007.1 202.4 2004.6C204.6 2002.2 207.0 2000.0 209.4 1998.3C211.9 1996.5 214.4 1995.2 216.9 1994.4C219.3 1993.5 221.8 1993.1 224.1 1993.2C226.5 1993.3 228.8 1994.0 230.8 1995.0C232.9 1996.1 234.9 1997.7 236.6 1999.6C238.3 2001.6 239.8 2004.0 241.0 2006.7C242.3 2009.4 243.3 2012.5 243.9 2015.7C244.6 2018.9 245.0 2022.5 245.0 2025.9C245.0 2029.4 244.7 2033.1 244.1 2036.5Z"/><path id="n50h" d="M231.6 2114.9C230.8 2117.6 229.5 2120.2 227.7 2122.5C226.0 2124.8 223.6 2126.9 220.9 2128.6C218.2 2130.3 215.0 2131.7 211.6 2132.6C208.2 2133.6 204.4 2134.2 200.6 2134.4C196.8 2134.6 192.7 2134.3 188.8 2133.7C184.9 2133.0 180.8 2131.9 177.1 2130.5C173.4 2129.1 169.7 2127.3 166.5 2125.3C163.3 2123.2 160.3 2120.8 157.8 2118.2C155.4 2115.7 153.3 2112.9 151.8 2110.1C150.4 2107.2 149.4 2104.2 149.0 2101.4C148.6 2098.5 148.7 2095.6 149.4 2092.9C150.2 2090.2 151.5 2087.6 153.3 2085.3C155.0 2083.0 157.4 2080.9 160.1 2079.2C162.8 2077.5 166.0 2076.1 169.4 2075.2C172.8 2074.2 176.6 2073.6 180.4 2073.4C184.2 2073.2 188.3 2073.5 192.2 2074.1C196.1 2074.8 200.2 2075.9 203.9 2077.3C207.6 2078.7 211.3 2080.5 214.5 2082.5C217.7 2084.6 220.7 2087.0 223.2 2089.6C225.6 2092.1 227.7 2094.9 229.2 2097.7C230.6 2100.6 231.6 2103.6 232.0 2106.4C232.4 2109.3 232.3 2112.2 231.6 2114.9Z"/><path id="n50b" d="M224.1 2112.9C223.6 2114.9 222.6 2116.8 221.2 2118.5C219.8 2120.1 217.9 2121.7 215.7 2122.9C213.6 2124.1 211.0 2125.1 208.2 2125.7C205.5 2126.4 202.4 2126.7 199.3 2126.8C196.2 2126.8 192.9 2126.6 189.7 2126.0C186.5 2125.5 183.2 2124.6 180.1 2123.5C177.1 2122.3 174.1 2120.9 171.4 2119.3C168.8 2117.7 166.3 2115.8 164.2 2113.9C162.2 2112.0 160.4 2109.8 159.2 2107.7C157.9 2105.6 157.0 2103.3 156.7 2101.2C156.3 2099.1 156.4 2096.9 156.9 2094.9C157.4 2092.9 158.4 2091.0 159.8 2089.3C161.2 2087.7 163.1 2086.1 165.3 2084.9C167.4 2083.7 170.0 2082.7 172.8 2082.1C175.5 2081.4 178.6 2081.1 181.7 2081.0C184.8 2081.0 188.1 2081.2 191.3 2081.8C194.5 2082.3 197.8 2083.2 200.9 2084.3C203.9 2085.5 206.9 2086.9 209.6 2088.5C212.2 2090.1 214.7 2092.0 216.8 2093.9C218.8 2095.8 220.6 2098.0 221.8 2100.1C223.1 2102.2 224.0 2104.5 224.3 2106.6C224.7 2108.7 224.6 2110.9 224.1 2112.9Z"/><path id="n50o" d="M225.3 2113.2C224.7 2115.3 223.6 2117.3 222.2 2119.1C220.7 2120.9 218.8 2122.5 216.5 2123.7C214.3 2125.0 211.6 2126.1 208.8 2126.8C205.9 2127.5 202.7 2127.9 199.5 2128.0C196.3 2128.1 192.9 2127.8 189.6 2127.2C186.2 2126.6 182.8 2125.7 179.7 2124.6C176.5 2123.4 173.4 2121.9 170.6 2120.2C167.9 2118.6 165.3 2116.6 163.2 2114.6C161.1 2112.6 159.3 2110.3 158.0 2108.1C156.7 2105.8 155.8 2103.5 155.5 2101.2C155.1 2099.0 155.2 2096.7 155.7 2094.6C156.3 2092.5 157.4 2090.5 158.8 2088.7C160.3 2086.9 162.2 2085.3 164.5 2084.1C166.7 2082.8 169.4 2081.7 172.2 2081.0C175.1 2080.3 178.3 2079.9 181.5 2079.8C184.7 2079.7 188.1 2080.0 191.4 2080.6C194.8 2081.2 198.2 2082.1 201.3 2083.2C204.5 2084.4 207.6 2085.9 210.4 2087.6C213.1 2089.2 215.7 2091.2 217.8 2093.2C219.9 2095.2 221.7 2097.5 223.0 2099.7C224.3 2102.0 225.2 2104.3 225.5 2106.6C225.9 2108.8 225.8 2111.1 225.3 2113.2Z"/><path id="n51h" d="M220.6 2181.2C219.6 2184.1 217.9 2186.9 215.8 2189.2C213.7 2191.6 211.0 2193.7 208.0 2195.3C205.0 2197.0 201.4 2198.2 197.8 2199.0C194.1 2199.8 190.1 2200.2 186.1 2200.1C182.1 2200.0 177.8 2199.4 173.7 2198.4C169.7 2197.4 165.6 2195.9 161.8 2194.1C158.1 2192.2 154.5 2189.9 151.3 2187.5C148.2 2185.0 145.3 2182.1 143.0 2179.1C140.7 2176.2 138.9 2172.9 137.6 2169.7C136.4 2166.5 135.7 2163.2 135.5 2160.0C135.4 2156.8 135.9 2153.6 137.0 2150.8C138.0 2147.9 139.7 2145.1 141.8 2142.8C143.9 2140.4 146.6 2138.3 149.6 2136.7C152.6 2135.0 156.2 2133.8 159.8 2133.0C163.5 2132.2 167.5 2131.8 171.5 2131.9C175.5 2132.0 179.8 2132.6 183.9 2133.6C187.9 2134.6 192.0 2136.1 195.8 2137.9C199.5 2139.8 203.1 2142.1 206.3 2144.5C209.4 2147.0 212.3 2149.9 214.6 2152.9C216.9 2155.8 218.7 2159.1 220.0 2162.3C221.2 2165.5 221.9 2168.8 222.1 2172.0C222.2 2175.2 221.7 2178.4 220.6 2181.2Z"/><path id="n51b" d="M213.4 2178.6C212.6 2180.8 211.3 2182.9 209.6 2184.6C207.9 2186.4 205.7 2188.0 203.3 2189.2C200.9 2190.4 198.0 2191.3 195.0 2191.9C192.1 2192.4 188.7 2192.6 185.4 2192.4C182.2 2192.3 178.7 2191.7 175.3 2190.9C172.0 2190.0 168.6 2188.8 165.5 2187.3C162.4 2185.8 159.3 2184.0 156.7 2182.0C154.1 2180.0 151.7 2177.7 149.7 2175.4C147.8 2173.0 146.2 2170.5 145.1 2168.0C144.0 2165.5 143.4 2162.9 143.2 2160.5C143.1 2158.1 143.4 2155.6 144.2 2153.4C145.0 2151.2 146.3 2149.1 148.0 2147.4C149.7 2145.6 151.9 2144.0 154.3 2142.8C156.7 2141.6 159.6 2140.7 162.6 2140.1C165.5 2139.6 168.9 2139.4 172.2 2139.6C175.4 2139.7 178.9 2140.3 182.3 2141.1C185.6 2142.0 189.0 2143.2 192.1 2144.7C195.2 2146.2 198.3 2148.0 200.9 2150.0C203.5 2152.0 205.9 2154.3 207.9 2156.6C209.8 2159.0 211.4 2161.5 212.5 2164.0C213.6 2166.5 214.2 2169.1 214.4 2171.5C214.5 2173.9 214.2 2176.4 213.4 2178.6Z"/><path id="n51o" d="M214.5 2179.0C213.7 2181.3 212.3 2183.5 210.6 2185.4C208.8 2187.2 206.5 2188.9 204.0 2190.1C201.5 2191.4 198.5 2192.4 195.5 2193.0C192.4 2193.6 188.9 2193.8 185.5 2193.6C182.1 2193.5 178.5 2192.9 175.1 2192.0C171.6 2191.2 168.1 2189.9 164.9 2188.3C161.7 2186.8 158.6 2184.9 155.9 2182.8C153.2 2180.8 150.7 2178.4 148.7 2176.0C146.7 2173.5 145.1 2170.9 144.0 2168.3C142.8 2165.7 142.2 2163.0 142.0 2160.4C141.9 2157.9 142.3 2155.3 143.1 2153.0C143.9 2150.7 145.3 2148.5 147.0 2146.6C148.8 2144.8 151.1 2143.1 153.6 2141.9C156.1 2140.6 159.1 2139.6 162.1 2139.0C165.2 2138.4 168.7 2138.2 172.1 2138.4C175.5 2138.5 179.1 2139.1 182.5 2140.0C186.0 2140.8 189.5 2142.1 192.7 2143.7C195.9 2145.2 199.0 2147.1 201.7 2149.2C204.4 2151.2 206.9 2153.6 208.9 2156.0C210.9 2158.5 212.5 2161.1 213.6 2163.7C214.8 2166.3 215.4 2169.0 215.6 2171.6C215.7 2174.1 215.3 2176.7 214.5 2179.0Z"/></defs>
<text x="53.4" y="1526.4" font-size="26" textLength="69.7" lengthAdjust="spacingAndGlyphs" stroke="#000" stroke-width="0.3" >shCTR</text>
<clipPath id="cl00"><rect x="128.0" y="1458.0" width="121.6" height="121.6"/></clipPath>
<rect x="128.0" y="1458.0" width="121.6" height="121.6" fill="#080304" />
<g clip-path="url(#cl00)"><use href="#n00b" x="0.00" fill="url(#rg00)" filter="url(#nz)"/><use href="#n01b" x="0.00" fill="url(#rg00)" filter="url(#nz)"/><circle cx="173.0" cy="1491.7" r="3.6" fill="#2a0608" opacity="0.6" filter="url(#b3)"/><circle cx="221.3" cy="1523.0" r="3.6" fill="#2a0608" opacity="0.6" filter="url(#b3)"/><circle cx="161.0" cy="1513.0" r="2.2" fill="#2a0608" opacity="0.6" filter="url(#b3)"/><use href="#n00o" x="0.00" fill="none" stroke="#e0d2d0" stroke-width="1.0" stroke-dasharray="4.2 2.6"/><use href="#n01o" x="0.00" fill="none" stroke="#e0d2d0" stroke-width="1.0" stroke-dasharray="4.2 2.6"/></g>
<clipPath id="cl01"><rect x="251.8" y="1458.0" width="121.6" height="121.6"/></clipPath>
<rect x="251.8" y="1458.0" width="121.6" height="121.6" fill="#030604" />
<g clip-path="url(#cl01)"><use href="#n00h" x="123.75" fill="#0c2a12" opacity="0.4" filter="url(#b5)"/><use href="#n00b" x="123.75" fill="url(#rg01)" filter="url(#nz)"/><use href="#n01h" x="123.75" fill="#0c2a12" opacity="0.4" filter="url(#b5)"/><use href="#n01b" x="123.75" fill="url(#rg01)" filter="url(#nz)"/><circle cx="292.6" cy="1491.7" r="4.8" fill="#62f550" opacity="0.32" filter="url(#b3)"/><circle cx="295.2" cy="1489.0" r="3.7" fill="#62f550" opacity="0.32" filter="url(#b3)"/><circle cx="282.1" cy="1508.0" r="4.4" fill="#62f550" opacity="0.32" filter="url(#b3)"/><circle cx="284.2" cy="1511.0" r="2.8" fill="#62f550" opacity="0.32" filter="url(#b3)"/><circle cx="341.8" cy="1528.0" r="4.8" fill="#62f550" opacity="0.32" filter="url(#b3)"/><circle cx="344.8" cy="1529.0" r="3.6" fill="#62f550" opacity="0.32" filter="url(#b3)"/><circle cx="328.4" cy="1532.0" r="4.2" fill="#62f550" opacity="0.32" filter="url(#b3)"/><circle cx="331.8" cy="1538.0" r="2.8" fill="#62f550" opacity="0.32" filter="url(#b3)"/><circle cx="335.8" cy="1552.8" r="3.2" fill="#62f550" opacity="0.32" filter="url(#b3)"/><circle cx="292.6" cy="1491.7" r="3.2" fill="#62f550" filter="url(#b1)"/><circle cx="292.6" cy="1491.7" r="1.6" fill="#c8ffc0" filter="url(#b1)"/><circle cx="295.2" cy="1489.0" r="2.2" fill="#62f550" filter="url(#b1)"/><circle cx="282.1" cy="1508.0" r="2.8" fill="#62f550" filter="url(#b1)"/><circle cx="284.2" cy="1511.0" r="1.4" fill="#62f550" filter="url(#b1)"/><circle cx="341.8" cy="1528.0" r="3.2" fill="#62f550" filter="url(#b1)"/><circle cx="341.8" cy="1528.0" r="1.6" fill="#c8ffc0" filter="url(#b1)"/><circle cx="344.8" cy="1529.0" r="2.1" fill="#62f550" filter="url(#b1)"/><circle cx="328.4" cy="1532.0" r="2.6" fill="#62f550" filter="url(#b1)"/><circle cx="331.8" cy="1538.0" r="1.4" fill="#62f550" filter="url(#b1)"/><circle cx="335.8" cy="1552.8" r="1.8" fill="#62f550" filter="url(#b1)"/><use href="#n00o" x="123.75" fill="none" stroke="#e0d2d0" stroke-width="1.0" stroke-dasharray="4.2 2.6"/><use href="#n01o" x="123.75" fill="none" stroke="#e0d2d0" stroke-width="1.0" stroke-dasharray="4.2 2.6"/></g>
<clipPath id="cl02"><rect x="375.5" y="1458.0" width="121.6" height="121.6"/></clipPath>
<rect x="375.5" y="1458.0" width="121.6" height="121.6" fill="#06060c" />
<g clip-path="url(#cl02)"><use href="#n00h" x="247.50" fill="#2a3260" opacity="0.75" filter="url(#b5)"/><use href="#n00b" x="247.50" fill="url(#rg02)" filter="url(#nz)"/><use href="#n00b" x="247.50" fill="#4a5070" opacity="0.12" filter="url(#b1)"/><use href="#n01h" x="247.50" fill="#2a3260" opacity="0.75" filter="url(#b5)"/><use href="#n01b" x="247.50" fill="url(#rg02)" filter="url(#nz)"/><use href="#n00o" x="247.50" fill="none" stroke="#e0d2d0" stroke-width="1.0" stroke-dasharray="4.2 2.6"/><use href="#n01o" x="247.50" fill="none" stroke="#e0d2d0" stroke-width="1.0" stroke-dasharray="4.2 2.6"/></g>
<clipPath id="cl03"><rect x="499.2" y="1458.0" width="121.6" height="121.6"/></clipPath>
<rect x="499.2" y="1458.0" width="121.6" height="121.6" fill="#07060d" />
<g clip-path="url(#cl03)"><use href="#n00h" x="371.25" fill="#2a3260" opacity="0.75" filter="url(#b5)"/><use href="#n00b" x="371.25" fill="url(#rg03)" filter="url(#nz)"/><use href="#n01h" x="371.25" fill="#2a3260" opacity="0.75" filter="url(#b5)"/><use href="#n01b" x="371.25" fill="url(#rg03)" filter="url(#nz)"/><circle cx="540.1" cy="1491.7" r="4.8" fill="#86e6d4" opacity="0.32" filter="url(#b3)"/><circle cx="542.8" cy="1489.0" r="3.7" fill="#86e6d4" opacity="0.32" filter="url(#b3)"/><circle cx="529.6" cy="1508.0" r="4.4" fill="#86e6d4" opacity="0.32" filter="url(#b3)"/><circle cx="531.8" cy="1511.0" r="2.8" fill="#86e6d4" opacity="0.32" filter="url(#b3)"/><circle cx="589.2" cy="1528.0" r="4.8" fill="#86e6d4" opacity="0.32" filter="url(#b3)"/><circle cx="592.2" cy="1529.0" r="3.6" fill="#86e6d4" opacity="0.32" filter="url(#b3)"/><circle cx="575.9" cy="1532.0" r="4.2" fill="#86e6d4" opacity="0.32" filter="url(#b3)"/><circle cx="579.2" cy="1538.0" r="2.8" fill="#86e6d4" opacity="0.32" filter="url(#b3)"/><circle cx="583.2" cy="1552.8" r="3.2" fill="#86e6d4" opacity="0.32" filter="url(#b3)"/><circle cx="540.1" cy="1491.7" r="3.2" fill="#86e6d4" filter="url(#b1)"/><circle cx="540.1" cy="1491.7" r="1.6" fill="#d4fff4" filter="url(#b1)"/><circle cx="542.8" cy="1489.0" r="2.2" fill="#86e6d4" filter="url(#b1)"/><circle cx="529.6" cy="1508.0" r="2.8" fill="#86e6d4" filter="url(#b1)"/><circle cx="531.8" cy="1511.0" r="1.4" fill="#86e6d4" filter="url(#b1)"/><circle cx="589.2" cy="1528.0" r="3.2" fill="#86e6d4" filter="url(#b1)"/><circle cx="589.2" cy="1528.0" r="1.6" fill="#d4fff4" filter="url(#b1)"/><circle cx="592.2" cy="1529.0" r="2.1" fill="#86e6d4" filter="url(#b1)"/><circle cx="575.9" cy="1532.0" r="2.6" fill="#86e6d4" filter="url(#b1)"/><circle cx="579.2" cy="1538.0" r="1.4" fill="#86e6d4" filter="url(#b1)"/><circle cx="583.2" cy="1552.8" r="1.8" fill="#86e6d4" filter="url(#b1)"/><use href="#n00o" x="371.25" fill="none" stroke="#e0d2d0" stroke-width="1.0" stroke-dasharray="4.2 2.6"/><use href="#n01o" x="371.25" fill="none" stroke="#e0d2d0" stroke-width="1.0" stroke-dasharray="4.2 2.6"/></g>
<text x="24.1" y="1650.4" font-size="26" textLength="97.4" lengthAdjust="spacingAndGlyphs" stroke="#000" stroke-width="0.3" >shN4BP1</text>
<clipPath id="cl10"><rect x="128.0" y="1582.0" width="121.6" height="121.6"/></clipPath>
<rect x="128.0" y="1582.0" width="121.6" height="121.6" fill="#080304" />
<g clip-path="url(#cl10)"><ellipse cx="257.6" cy="1608.0" rx="14" ry="22" fill="#c42224" filter="url(#b1)"/><use href="#n10b" x="0.00" fill="url(#rg10)" filter="url(#nz)"/><use href="#n11b" x="0.00" fill="url(#rg10)" filter="url(#nz)"/><circle cx="157.2" cy="1619.9" r="4" fill="#2a0608" opacity="0.6" filter="url(#b3)"/><circle cx="216.9" cy="1672.0" r="4.2" fill="#2a0608" opacity="0.6" filter="url(#b3)"/><use href="#n10o" x="0.00" fill="none" stroke="#e0d2d0" stroke-width="1.0" stroke-dasharray="4.2 2.6"/><use href="#n11o" x="0.00" fill="none" stroke="#e0d2d0" stroke-width="1.0" stroke-dasharray="4.2 2.6"/></g>
<clipPath id="cl11"><rect x="251.8" y="1582.0" width="121.6" height="121.6"/></clipPath>
<rect x="251.8" y="1582.0" width="121.6" height="121.6" fill="#030604" />
<g clip-path="url(#cl11)"><use href="#n10h" x="123.75" fill="#0c2a12" opacity="0.4" filter="url(#b5)"/><use href="#n10b" x="123.75" fill="url(#rg11)" filter="url(#nz)"/><use href="#n11h" x="123.75" fill="#0c2a12" opacity="0.4" filter="url(#b5)"/><use href="#n11b" x="123.75" fill="url(#rg11)" filter="url(#nz)"/><circle cx="282.1" cy="1618.4" r="6.2" fill="#62f550" opacity="0.32" filter="url(#b3)"/><circle cx="292.6" cy="1609.4" r="3.8" fill="#62f550" opacity="0.32" filter="url(#b3)"/><circle cx="277.8" cy="1628.8" r="3.4" fill="#62f550" opacity="0.32" filter="url(#b3)"/><circle cx="281.8" cy="1628.0" r="2.8" fill="#62f550" opacity="0.32" filter="url(#b3)"/><circle cx="337.4" cy="1672.0" r="6.2" fill="#62f550" opacity="0.32" filter="url(#b3)"/><circle cx="339.8" cy="1668.0" r="4.2" fill="#62f550" opacity="0.32" filter="url(#b3)"/><circle cx="346.2" cy="1676.5" r="4.2" fill="#62f550" opacity="0.32" filter="url(#b3)"/><circle cx="350.8" cy="1664.6" r="3.2" fill="#62f550" opacity="0.32" filter="url(#b3)"/><circle cx="358.2" cy="1679.0" r="3.2" fill="#62f550" opacity="0.32" filter="url(#b3)"/><circle cx="341.8" cy="1652.7" r="3.0" fill="#62f550" opacity="0.32" filter="url(#b3)"/><circle cx="282.1" cy="1618.4" r="4.4" fill="#62f550" filter="url(#b1)"/><circle cx="282.1" cy="1618.4" r="2.2" fill="#c8ffc0" filter="url(#b1)"/><circle cx="292.6" cy="1609.4" r="2.3" fill="#62f550" filter="url(#b1)"/><circle cx="277.8" cy="1628.8" r="1.9" fill="#62f550" filter="url(#b1)"/><circle cx="281.8" cy="1628.0" r="1.4" fill="#62f550" filter="url(#b1)"/><circle cx="337.4" cy="1672.0" r="4.4" fill="#62f550" filter="url(#b1)"/><circle cx="337.4" cy="1672.0" r="2.2" fill="#c8ffc0" filter="url(#b1)"/><circle cx="339.8" cy="1668.0" r="2.6" fill="#62f550" filter="url(#b1)"/><circle cx="346.2" cy="1676.5" r="2.6" fill="#62f550" filter="url(#b1)"/><circle cx="350.8" cy="1664.6" r="1.8" fill="#62f550" filter="url(#b1)"/><circle cx="358.2" cy="1679.0" r="1.8" fill="#62f550" filter="url(#b1)"/><circle cx="341.8" cy="1652.7" r="1.6" fill="#62f550" filter="url(#b1)"/><use href="#n10o" x="123.75" fill="none" stroke="#e0d2d0" stroke-width="1.0" stroke-dasharray="4.2 2.6"/><use href="#n11o" x="123.75" fill="none" stroke="#e0d2d0" stroke-width="1.0" stroke-dasharray="4.2 2.6"/></g>
<clipPath id="cl12"><rect x="375.5" y="1582.0" width="121.6" height="121.6"/></clipPath>
<rect x="375.5" y="1582.0" width="121.6" height="121.6" fill="#06060c" />
<g clip-path="url(#cl12)"><ellipse cx="505.1" cy="1608.0" rx="16" ry="24" fill="#7a84b0" opacity="0.5" filter="url(#b3)"/><use href="#n10h" x="247.50" fill="#2a3260" opacity="0.75" filter="url(#b5)"/><use href="#n10b" x="247.50" fill="url(#rg12)" filter="url(#nz)"/><use href="#n11h" x="247.50" fill="#2a3260" opacity="0.75" filter="url(#b5)"/><use href="#n11b" x="247.50" fill="url(#rg12)" filter="url(#nz)"/><use href="#n10o" x="247.50" fill="none" stroke="#e0d2d0" stroke-width="1.0" stroke-dasharray="4.2 2.6"/><use href="#n11o" x="247.50" fill="none" stroke="#e0d2d0" stroke-width="1.0" stroke-dasharray="4.2 2.6"/></g>
<clipPath id="cl13"><rect x="499.2" y="1582.0" width="121.6" height="121.6"/></clipPath>
<rect x="499.2" y="1582.0" width="121.6" height="121.6" fill="#07060d" />
<g clip-path="url(#cl13)"><ellipse cx="628.9" cy="1608.0" rx="14" ry="22" fill="#9a2cb0" filter="url(#b1)"/><use href="#n10h" x="371.25" fill="#2a3260" opacity="0.75" filter="url(#b5)"/><use href="#n10b" x="371.25" fill="url(#rg13)" filter="url(#nz)"/><use href="#n11h" x="371.25" fill="#2a3260" opacity="0.75" filter="url(#b5)"/><use href="#n11b" x="371.25" fill="url(#rg13)" filter="url(#nz)"/><circle cx="529.6" cy="1618.4" r="6.2" fill="#86e6d4" opacity="0.32" filter="url(#b3)"/><circle cx="540.1" cy="1609.4" r="3.8" fill="#86e6d4" opacity="0.32" filter="url(#b3)"/><circle cx="525.2" cy="1628.8" r="3.4" fill="#86e6d4" opacity="0.32" filter="url(#b3)"/><circle cx="529.2" cy="1628.0" r="2.8" fill="#86e6d4" opacity="0.32" filter="url(#b3)"/><circle cx="584.9" cy="1672.0" r="6.2" fill="#86e6d4" opacity="0.32" filter="url(#b3)"/><circle cx="587.2" cy="1668.0" r="4.2" fill="#86e6d4" opacity="0.32" filter="url(#b3)"/><circle cx="593.8" cy="1676.5" r="4.2" fill="#86e6d4" opacity="0.32" filter="url(#b3)"/><circle cx="598.2" cy="1664.6" r="3.2" fill="#86e6d4" opacity="0.32" filter="url(#b3)"/><circle cx="605.8" cy="1679.0" r="3.2" fill="#86e6d4" opacity="0.32" filter="url(#b3)"/><circle cx="589.2" cy="1652.7" r="3.0" fill="#86e6d4" opacity="0.32" filter="url(#b3)"/><circle cx="529.6" cy="1618.4" r="4.4" fill="#86e6d4" filter="url(#b1)"/><circle cx="529.6" cy="1618.4" r="2.2" fill="#d4fff4" filter="url(#b1)"/><circle cx="540.1" cy="1609.4" r="2.3" fill="#86e6d4" filter="url(#b1)"/><circle cx="525.2" cy="1628.8" r="1.9" fill="#86e6d4" filter="url(#b1)"/><circle cx="529.2" cy="1628.0" r="1.4" fill="#86e6d4" filter="url(#b1)"/><circle cx="584.9" cy="1672.0" r="4.4" fill="#86e6d4" filter="url(#b1)"/><circle cx="584.9" cy="1672.0" r="2.2" fill="#d4fff4" filter="url(#b1)"/><circle cx="587.2" cy="1668.0" r="2.6" fill="#86e6d4" filter="url(#b1)"/><circle cx="593.8" cy="1676.5" r="2.6" fill="#86e6d4" filter="url(#b1)"/><circle cx="598.2" cy="1664.6" r="1.8" fill="#86e6d4" filter="url(#b1)"/><circle cx="605.8" cy="1679.0" r="1.8" fill="#86e6d4" filter="url(#b1)"/><circle cx="589.2" cy="1652.7" r="1.6" fill="#86e6d4" filter="url(#b1)"/><use href="#n10o" x="371.25" fill="none" stroke="#e0d2d0" stroke-width="1.0" stroke-dasharray="4.2 2.6"/><use href="#n11o" x="371.25" fill="none" stroke="#e0d2d0" stroke-width="1.0" stroke-dasharray="4.2 2.6"/></g>
<text x="3.9" y="1773.4" font-size="26" textLength="117.6" lengthAdjust="spacingAndGlyphs" stroke="#000" stroke-width="0.3" >shMBLAC2</text>
<clipPath id="cl20"><rect x="128.0" y="1705.0" width="121.6" height="121.6"/></clipPath>
<rect x="128.0" y="1705.0" width="121.6" height="121.6" fill="#080304" />
<g clip-path="url(#cl20)"><use href="#n20b" x="0.00" fill="url(#rg20)" filter="url(#nz)"/><use href="#n21b" x="0.00" fill="url(#rg20)" filter="url(#nz)"/><circle cx="161.7" cy="1728.3" r="2.5" fill="#2a0608" opacity="0.6" filter="url(#b3)"/><circle cx="190.0" cy="1717.0" r="2" fill="#2a0608" opacity="0.6" filter="url(#b3)"/><use href="#n20o" x="0.00" fill="none" stroke="#e0d2d0" stroke-width="1.0" stroke-dasharray="4.2 2.6"/><use href="#n21o" x="0.00" fill="none" stroke="#e0d2d0" stroke-width="1.0" stroke-dasharray="4.2 2.6"/></g>
<clipPath id="cl21"><rect x="251.8" y="1705.0" width="121.6" height="121.6"/></clipPath>
<rect x="251.8" y="1705.0" width="121.6" height="121.6" fill="#030604" />
<g clip-path="url(#cl21)"><use href="#n20h" x="123.75" fill="#0c2a12" opacity="0.4" filter="url(#b5)"/><use href="#n20b" x="123.75" fill="url(#rg21)" filter="url(#nz)"/><use href="#n21h" x="123.75" fill="#0c2a12" opacity="0.4" filter="url(#b5)"/><use href="#n21b" x="123.75" fill="url(#rg21)" filter="url(#nz)"/><circle cx="292.1" cy="1726.8" r="5.2" fill="#62f550" opacity="0.32" filter="url(#b3)"/><circle cx="295.8" cy="1725.5" r="4.2" fill="#62f550" opacity="0.32" filter="url(#b3)"/><circle cx="279.1" cy="1737.2" r="5.2" fill="#62f550" opacity="0.32" filter="url(#b3)"/><circle cx="271.8" cy="1744.0" r="3.2" fill="#62f550" opacity="0.32" filter="url(#b3)"/><circle cx="295.6" cy="1738.7" r="3.2" fill="#62f550" opacity="0.32" filter="url(#b3)"/><circle cx="286.8" cy="1744.7" r="3.2" fill="#62f550" opacity="0.32" filter="url(#b3)"/><circle cx="334.4" cy="1788.0" r="5.2" fill="#62f550" opacity="0.32" filter="url(#b3)"/><circle cx="328.4" cy="1798.3" r="4.2" fill="#62f550" opacity="0.32" filter="url(#b3)"/><circle cx="320.1" cy="1802.8" r="4.2" fill="#62f550" opacity="0.32" filter="url(#b3)"/><circle cx="342.8" cy="1794.8" r="3.5" fill="#62f550" opacity="0.32" filter="url(#b3)"/><circle cx="331.4" cy="1805.8" r="3.2" fill="#62f550" opacity="0.32" filter="url(#b3)"/><circle cx="328.4" cy="1769.0" r="3.0" fill="#62f550" opacity="0.32" filter="url(#b3)"/><circle cx="292.1" cy="1726.8" r="3.5" fill="#62f550" filter="url(#b1)"/><circle cx="292.1" cy="1726.8" r="1.8" fill="#c8ffc0" filter="url(#b1)"/><circle cx="295.8" cy="1725.5" r="2.6" fill="#62f550" filter="url(#b1)"/><circle cx="279.1" cy="1737.2" r="3.5" fill="#62f550" filter="url(#b1)"/><circle cx="279.1" cy="1737.2" r="1.8" fill="#c8ffc0" filter="url(#b1)"/><circle cx="271.8" cy="1744.0" r="1.8" fill="#62f550" filter="url(#b1)"/><circle cx="295.6" cy="1738.7" r="1.8" fill="#62f550" filter="url(#b1)"/><circle cx="286.8" cy="1744.7" r="1.8" fill="#62f550" filter="url(#b1)"/><circle cx="334.4" cy="1788.0" r="3.5" fill="#62f550" filter="url(#b1)"/><circle cx="334.4" cy="1788.0" r="1.8" fill="#c8ffc0" filter="url(#b1)"/><circle cx="328.4" cy="1798.3" r="2.6" fill="#62f550" filter="url(#b1)"/><circle cx="320.1" cy="1802.8" r="2.6" fill="#62f550" filter="url(#b1)"/><circle cx="342.8" cy="1794.8" r="2.0" fill="#62f550" filter="url(#b1)"/><circle cx="331.4" cy="1805.8" r="1.8" fill="#62f550" filter="url(#b1)"/><circle cx="328.4" cy="1769.0" r="1.6" fill="#62f550" filter="url(#b1)"/><use href="#n20o" x="123.75" fill="none" stroke="#e0d2d0" stroke-width="1.0" stroke-dasharray="4.2 2.6"/><use href="#n21o" x="123.75" fill="none" stroke="#e0d2d0" stroke-width="1.0" stroke-dasharray="4.2 2.6"/></g>
<clipPath id="cl22"><rect x="375.5" y="1705.0" width="121.6" height="121.6"/></clipPath>
<rect x="375.5" y="1705.0" width="121.6" height="121.6" fill="#06060c" />
<g clip-path="url(#cl22)"><use href="#n20h" x="247.50" fill="#2a3260" opacity="0.75" filter="url(#b5)"/><use href="#n20b" x="247.50" fill="url(#rg22)" filter="url(#nz)"/><use href="#n21h" x="247.50" fill="#2a3260" opacity="0.75" filter="url(#b5)"/><use href="#n21b" x="247.50" fill="url(#rg22)" filter="url(#nz)"/><use href="#n21b" x="247.50" fill="#4a5070" opacity="0.45" filter="url(#b1)"/><use href="#n20o" x="247.50" fill="none" stroke="#e0d2d0" stroke-width="1.0" stroke-dasharray="4.2 2.6"/><use href="#n21o" x="247.50" fill="none" stroke="#e0d2d0" stroke-width="1.0" stroke-dasharray="4.2 2.6"/></g>
<clipPath id="cl23"><rect x="499.2" y="1705.0" width="121.6" height="121.6"/></clipPath>
<rect x="499.2" y="1705.0" width="121.6" height="121.6" fill="#07060d" />
<g clip-path="url(#cl23)"><use href="#n20h" x="371.25" fill="#2a3260" opacity="0.75" filter="url(#b5)"/><use href="#n20b" x="371.25" fill="url(#rg23)" filter="url(#nz)"/><use href="#n21h" x="371.25" fill="#2a3260" opacity="0.75" filter="url(#b5)"/><use href="#n21b" x="371.25" fill="url(#rg23)" filter="url(#nz)"/><circle cx="539.5" cy="1726.8" r="5.2" fill="#86e6d4" opacity="0.32" filter="url(#b3)"/><circle cx="543.2" cy="1725.5" r="4.2" fill="#86e6d4" opacity="0.32" filter="url(#b3)"/><circle cx="526.6" cy="1737.2" r="5.2" fill="#86e6d4" opacity="0.32" filter="url(#b3)"/><circle cx="519.2" cy="1744.0" r="3.2" fill="#86e6d4" opacity="0.32" filter="url(#b3)"/><circle cx="543.0" cy="1738.7" r="3.2" fill="#86e6d4" opacity="0.32" filter="url(#b3)"/><circle cx="534.2" cy="1744.7" r="3.2" fill="#86e6d4" opacity="0.32" filter="url(#b3)"/><circle cx="581.9" cy="1788.0" r="5.2" fill="#86e6d4" opacity="0.32" filter="url(#b3)"/><circle cx="575.9" cy="1798.3" r="4.2" fill="#86e6d4" opacity="0.32" filter="url(#b3)"/><circle cx="567.5" cy="1802.8" r="4.2" fill="#86e6d4" opacity="0.32" filter="url(#b3)"/><circle cx="590.2" cy="1794.8" r="3.5" fill="#86e6d4" opacity="0.32" filter="url(#b3)"/><circle cx="578.9" cy="1805.8" r="3.2" fill="#86e6d4" opacity="0.32" filter="url(#b3)"/><circle cx="575.9" cy="1769.0" r="3.0" fill="#86e6d4" opacity="0.32" filter="url(#b3)"/><circle cx="539.5" cy="1726.8" r="3.5" fill="#86e6d4" filter="url(#b1)"/><circle cx="539.5" cy="1726.8" r="1.8" fill="#d4fff4" filter="url(#b1)"/><circle cx="543.2" cy="1725.5" r="2.6" fill="#86e6d4" filter="url(#b1)"/><circle cx="526.6" cy="1737.2" r="3.5" fill="#86e6d4" filter="url(#b1)"/><circle cx="526.6" cy="1737.2" r="1.8" fill="#d4fff4" filter="url(#b1)"/><circle cx="519.2" cy="1744.0" r="1.8" fill="#86e6d4" filter="url(#b1)"/><circle cx="543.0" cy="1738.7" r="1.8" fill="#86e6d4" filter="url(#b1)"/><circle cx="534.2" cy="1744.7" r="1.8" fill="#86e6d4" filter="url(#b1)"/><circle cx="581.9" cy="1788.0" r="3.5" fill="#86e6d4" filter="url(#b1)"/><circle cx="581.9" cy="1788.0" r="1.8" fill="#d4fff4" filter="url(#b1)"/><circle cx="575.9" cy="1798.3" r="2.6" fill="#86e6d4" filter="url(#b1)"/><circle cx="567.5" cy="1802.8" r="2.6" fill="#86e6d4" filter="url(#b1)"/><circle cx="590.2" cy="1794.8" r="2.0" fill="#86e6d4" filter="url(#b1)"/><circle cx="578.9" cy="1805.8" r="1.8" fill="#86e6d4" filter="url(#b1)"/><circle cx="575.9" cy="1769.0" r="1.6" fill="#86e6d4" filter="url(#b1)"/><use href="#n20o" x="371.25" fill="none" stroke="#e0d2d0" stroke-width="1.0" stroke-dasharray="4.2 2.6"/><use href="#n21o" x="371.25" fill="none" stroke="#e0d2d0" stroke-width="1.0" stroke-dasharray="4.2 2.6"/></g>
<text x="14.8" y="1897.2" font-size="26" textLength="106.7" lengthAdjust="spacingAndGlyphs" stroke="#000" stroke-width="0.3" >shWDR47</text>
<clipPath id="cl30"><rect x="128.0" y="1828.8" width="121.6" height="121.6"/></clipPath>
<rect x="128.0" y="1828.8" width="121.6" height="121.6" fill="#080304" />
<g clip-path="url(#cl30)"><use href="#n30b" x="0.00" fill="url(#rg30)" filter="url(#nz)"/><use href="#n31b" x="0.00" fill="url(#rg30)" filter="url(#nz)"/><circle cx="151.3" cy="1875.8" r="3.6" fill="#2a0608" opacity="0.6" filter="url(#b3)"/><circle cx="206.4" cy="1890.8" r="3.2" fill="#2a0608" opacity="0.6" filter="url(#b3)"/><use href="#n30o" x="0.00" fill="none" stroke="#e0d2d0" stroke-width="1.0" stroke-dasharray="4.2 2.6"/><use href="#n31o" x="0.00" fill="none" stroke="#e0d2d0" stroke-width="1.0" stroke-dasharray="4.2 2.6"/></g>
<clipPath id="cl31"><rect x="251.8" y="1828.8" width="121.6" height="121.6"/></clipPath>
<rect x="251.8" y="1828.8" width="121.6" height="121.6" fill="#030604" />
<g clip-path="url(#cl31)"><use href="#n30h" x="123.75" fill="#0c2a12" opacity="0.4" filter="url(#b5)"/><use href="#n30b" x="123.75" fill="url(#rg31)" filter="url(#nz)"/><use href="#n31h" x="123.75" fill="#0c2a12" opacity="0.4" filter="url(#b5)"/><use href="#n31b" x="123.75" fill="url(#rg31)" filter="url(#nz)"/><circle cx="270.2" cy="1875.8" r="5.2" fill="#62f550" opacity="0.32" filter="url(#b3)"/><circle cx="280.8" cy="1872.8" r="4.2" fill="#62f550" opacity="0.32" filter="url(#b3)"/><circle cx="274.8" cy="1889.3" r="4.2" fill="#62f550" opacity="0.32" filter="url(#b3)"/><circle cx="279.1" cy="1880.4" r="3.7" fill="#62f550" opacity="0.32" filter="url(#b3)"/><circle cx="270.2" cy="1902.8" r="3.2" fill="#62f550" opacity="0.32" filter="url(#b3)"/><circle cx="298.6" cy="1863.4" r="3.2" fill="#62f550" opacity="0.32" filter="url(#b3)"/><circle cx="325.4" cy="1893.8" r="6.2" fill="#62f550" opacity="0.32" filter="url(#b3)"/><circle cx="332.8" cy="1889.3" r="4.2" fill="#62f550" opacity="0.32" filter="url(#b3)"/><circle cx="328.4" cy="1912.3" r="4.2" fill="#62f550" opacity="0.32" filter="url(#b3)"/><circle cx="316.4" cy="1914.1" r="3.7" fill="#62f550" opacity="0.32" filter="url(#b3)"/><circle cx="347.8" cy="1890.8" r="3.2" fill="#62f550" opacity="0.32" filter="url(#b3)"/><circle cx="270.2" cy="1875.8" r="3.5" fill="#62f550" filter="url(#b1)"/><circle cx="270.2" cy="1875.8" r="1.8" fill="#c8ffc0" filter="url(#b1)"/><circle cx="280.8" cy="1872.8" r="2.6" fill="#62f550" filter="url(#b1)"/><circle cx="274.8" cy="1889.3" r="2.6" fill="#62f550" filter="url(#b1)"/><circle cx="279.1" cy="1880.4" r="2.2" fill="#62f550" filter="url(#b1)"/><circle cx="270.2" cy="1902.8" r="1.8" fill="#62f550" filter="url(#b1)"/><circle cx="298.6" cy="1863.4" r="1.8" fill="#62f550" filter="url(#b1)"/><circle cx="325.4" cy="1893.8" r="4.4" fill="#62f550" filter="url(#b1)"/><circle cx="325.4" cy="1893.8" r="2.2" fill="#c8ffc0" filter="url(#b1)"/><circle cx="332.8" cy="1889.3" r="2.6" fill="#62f550" filter="url(#b1)"/><circle cx="328.4" cy="1912.3" r="2.6" fill="#62f550" filter="url(#b1)"/><circle cx="316.4" cy="1914.1" r="2.2" fill="#62f550" filter="url(#b1)"/><circle cx="347.8" cy="1890.8" r="1.8" fill="#62f550" filter="url(#b1)"/><use href="#n30o" x="123.75" fill="none" stroke="#e0d2d0" stroke-width="1.0" stroke-dasharray="4.2 2.6"/><use href="#n31o" x="123.75" fill="none" stroke="#e0d2d0" stroke-width="1.0" stroke-dasharray="4.2 2.6"/></g>
<clipPath id="cl32"><rect x="375.5" y="1828.8" width="121.6" height="121.6"/></clipPath>
<rect x="375.5" y="1828.8" width="121.6" height="121.6" fill="#06060c" />
<g clip-path="url(#cl32)"><use href="#n30h" x="247.50" fill="#2a3260" opacity="0.75" filter="url(#b5)"/><use href="#n30b" x="247.50" fill="url(#rg32)" filter="url(#nz)"/><use href="#n30b" x="247.50" fill="#4a5070" opacity="0.4" filter="url(#b1)"/><use href="#n31h" x="247.50" fill="#2a3260" opacity="0.75" filter="url(#b5)"/><use href="#n31b" x="247.50" fill="url(#rg32)" filter="url(#nz)"/><use href="#n31b" x="247.50" fill="#4a5070" opacity="0.3" filter="url(#b1)"/><use href="#n30o" x="247.50" fill="none" stroke="#e0d2d0" stroke-width="1.0" stroke-dasharray="4.2 2.6"/><use href="#n31o" x="247.50" fill="none" stroke="#e0d2d0" stroke-width="1.0" stroke-dasharray="4.2 2.6"/></g>
<clipPath id="cl33"><rect x="499.2" y="1828.8" width="121.6" height="121.6"/></clipPath>
<rect x="499.2" y="1828.8" width="121.6" height="121.6" fill="#07060d" />
<g clip-path="url(#cl33)"><use href="#n30h" x="371.25" fill="#2a3260" opacity="0.75" filter="url(#b5)"/><use href="#n30b" x="371.25" fill="url(#rg33)" filter="url(#nz)"/><use href="#n31h" x="371.25" fill="#2a3260" opacity="0.75" filter="url(#b5)"/><use href="#n31b" x="371.25" fill="url(#rg33)" filter="url(#nz)"/><circle cx="517.8" cy="1875.8" r="5.2" fill="#86e6d4" opacity="0.32" filter="url(#b3)"/><circle cx="528.2" cy="1872.8" r="4.2" fill="#86e6d4" opacity="0.32" filter="url(#b3)"/><circle cx="522.2" cy="1889.3" r="4.2" fill="#86e6d4" opacity="0.32" filter="url(#b3)"/><circle cx="526.6" cy="1880.4" r="3.7" fill="#86e6d4" opacity="0.32" filter="url(#b3)"/><circle cx="517.8" cy="1902.8" r="3.2" fill="#86e6d4" opacity="0.32" filter="url(#b3)"/><circle cx="546.0" cy="1863.4" r="3.2" fill="#86e6d4" opacity="0.32" filter="url(#b3)"/><circle cx="573.0" cy="1893.8" r="6.2" fill="#86e6d4" opacity="0.32" filter="url(#b3)"/><circle cx="580.2" cy="1889.3" r="4.2" fill="#86e6d4" opacity="0.32" filter="url(#b3)"/><circle cx="575.9" cy="1912.3" r="4.2" fill="#86e6d4" opacity="0.32" filter="url(#b3)"/><circle cx="564.0" cy="1914.1" r="3.7" fill="#86e6d4" opacity="0.32" filter="url(#b3)"/><circle cx="595.2" cy="1890.8" r="3.2" fill="#86e6d4" opacity="0.32" filter="url(#b3)"/><circle cx="517.8" cy="1875.8" r="3.5" fill="#86e6d4" filter="url(#b1)"/><circle cx="517.8" cy="1875.8" r="1.8" fill="#d4fff4" filter="url(#b1)"/><circle cx="528.2" cy="1872.8" r="2.6" fill="#86e6d4" filter="url(#b1)"/><circle cx="522.2" cy="1889.3" r="2.6" fill="#86e6d4" filter="url(#b1)"/><circle cx="526.6" cy="1880.4" r="2.2" fill="#86e6d4" filter="url(#b1)"/><circle cx="517.8" cy="1902.8" r="1.8" fill="#86e6d4" filter="url(#b1)"/><circle cx="546.0" cy="1863.4" r="1.8" fill="#86e6d4" filter="url(#b1)"/><circle cx="573.0" cy="1893.8" r="4.4" fill="#86e6d4" filter="url(#b1)"/><circle cx="573.0" cy="1893.8" r="2.2" fill="#d4fff4" filter="url(#b1)"/><circle cx="580.2" cy="1889.3" r="2.6" fill="#86e6d4" filter="url(#b1)"/><circle cx="575.9" cy="1912.3" r="2.6" fill="#86e6d4" filter="url(#b1)"/><circle cx="564.0" cy="1914.1" r="2.2" fill="#86e6d4" filter="url(#b1)"/><circle cx="595.2" cy="1890.8" r="1.8" fill="#86e6d4" filter="url(#b1)"/><use href="#n30o" x="371.25" fill="none" stroke="#e0d2d0" stroke-width="1.0" stroke-dasharray="4.2 2.6"/><use href="#n31o" x="371.25" fill="none" stroke="#e0d2d0" stroke-width="1.0" stroke-dasharray="4.2 2.6"/></g>
<text x="42.0" y="2020.9" font-size="26" textLength="79.5" lengthAdjust="spacingAndGlyphs" stroke="#000" stroke-width="0.3" >shKRT5</text>
<clipPath id="cl40"><rect x="128.0" y="1952.5" width="121.6" height="121.6"/></clipPath>
<rect x="128.0" y="1952.5" width="121.6" height="121.6" fill="#080304" />
<g clip-path="url(#cl40)"><use href="#n40b" x="0.00" fill="url(#rg40)" filter="url(#nz)"/><use href="#n41b" x="0.00" fill="url(#rg40)" filter="url(#nz)"/><circle cx="155.1" cy="1977.9" r="4" fill="#2a0608" opacity="0.6" filter="url(#b3)"/><circle cx="232.7" cy="2022.0" r="4" fill="#2a0608" opacity="0.6" filter="url(#b3)"/><use href="#n40o" x="0.00" fill="none" stroke="#e0d2d0" stroke-width="1.0" stroke-dasharray="4.2 2.6"/><use href="#n41o" x="0.00" fill="none" stroke="#e0d2d0" stroke-width="1.0" stroke-dasharray="4.2 2.6"/></g>
<clipPath id="cl41"><rect x="251.8" y="1952.5" width="121.6" height="121.6"/></clipPath>
<rect x="251.8" y="1952.5" width="121.6" height="121.6" fill="#030604" />
<g clip-path="url(#cl41)"><use href="#n40h" x="123.75" fill="#0c2a12" opacity="0.4" filter="url(#b5)"/><use href="#n40b" x="123.75" fill="url(#rg41)" filter="url(#nz)"/><use href="#n41h" x="123.75" fill="#0c2a12" opacity="0.4" filter="url(#b5)"/><use href="#n41b" x="123.75" fill="url(#rg41)" filter="url(#nz)"/><circle cx="273.8" cy="1982.2" r="6.2" fill="#62f550" opacity="0.32" filter="url(#b3)"/><circle cx="277.2" cy="1985.0" r="6.2" fill="#62f550" opacity="0.32" filter="url(#b3)"/><circle cx="266.4" cy="1997.5" r="5.7" fill="#62f550" opacity="0.32" filter="url(#b3)"/><circle cx="289.1" cy="1987.7" r="3.7" fill="#62f550" opacity="0.32" filter="url(#b3)"/><circle cx="273.2" cy="2011.0" r="3.4" fill="#62f550" opacity="0.32" filter="url(#b3)"/><circle cx="360.6" cy="2016.9" r="6.2" fill="#62f550" opacity="0.32" filter="url(#b3)"/><circle cx="349.1" cy="2025.5" r="6.2" fill="#62f550" opacity="0.32" filter="url(#b3)"/><circle cx="351.4" cy="2029.5" r="6.2" fill="#62f550" opacity="0.32" filter="url(#b3)"/><circle cx="357.4" cy="2036.0" r="4.7" fill="#62f550" opacity="0.32" filter="url(#b3)"/><circle cx="345.4" cy="2050.3" r="4.2" fill="#62f550" opacity="0.32" filter="url(#b3)"/><circle cx="273.8" cy="1982.2" r="4.4" fill="#62f550" filter="url(#b1)"/><circle cx="273.8" cy="1982.2" r="2.2" fill="#c8ffc0" filter="url(#b1)"/><circle cx="277.2" cy="1985.0" r="4.4" fill="#62f550" filter="url(#b1)"/><circle cx="277.2" cy="1985.0" r="2.2" fill="#c8ffc0" filter="url(#b1)"/><circle cx="266.4" cy="1997.5" r="4.0" fill="#62f550" filter="url(#b1)"/><circle cx="266.4" cy="1997.5" r="2.0" fill="#c8ffc0" filter="url(#b1)"/><circle cx="289.1" cy="1987.7" r="2.2" fill="#62f550" filter="url(#b1)"/><circle cx="273.2" cy="2011.0" r="1.9" fill="#62f550" filter="url(#b1)"/><circle cx="360.6" cy="2016.9" r="4.4" fill="#62f550" filter="url(#b1)"/><circle cx="360.6" cy="2016.9" r="2.2" fill="#c8ffc0" filter="url(#b1)"/><circle cx="349.1" cy="2025.5" r="4.4" fill="#62f550" filter="url(#b1)"/><circle cx="349.1" cy="2025.5" r="2.2" fill="#c8ffc0" filter="url(#b1)"/><circle cx="351.4" cy="2029.5" r="4.4" fill="#62f550" filter="url(#b1)"/><circle cx="351.4" cy="2029.5" r="2.2" fill="#c8ffc0" filter="url(#b1)"/><circle cx="357.4" cy="2036.0" r="3.1" fill="#62f550" filter="url(#b1)"/><circle cx="357.4" cy="2036.0" r="1.5" fill="#c8ffc0" filter="url(#b1)"/><circle cx="345.4" cy="2050.3" r="2.6" fill="#62f550" filter="url(#b1)"/><use href="#n40o" x="123.75" fill="none" stroke="#e0d2d0" stroke-width="1.0" stroke-dasharray="4.2 2.6"/><use href="#n41o" x="123.75" fill="none" stroke="#e0d2d0" stroke-width="1.0" stroke-dasharray="4.2 2.6"/></g>
<clipPath id="cl42"><rect x="375.5" y="1952.5" width="121.6" height="121.6"/></clipPath>
<rect x="375.5" y="1952.5" width="121.6" height="121.6" fill="#06060c" />
<g clip-path="url(#cl42)"><use href="#n40h" x="247.50" fill="#2a3260" opacity="0.75" filter="url(#b5)"/><use href="#n40b" x="247.50" fill="url(#rg42)" filter="url(#nz)"/><use href="#n40b" x="247.50" fill="#4a5070" opacity="0.1" filter="url(#b1)"/><use href="#n41h" x="247.50" fill="#2a3260" opacity="0.75" filter="url(#b5)"/><use href="#n41b" x="247.50" fill="url(#rg42)" filter="url(#nz)"/><use href="#n40o" x="247.50" fill="none" stroke="#e0d2d0" stroke-width="1.0" stroke-dasharray="4.2 2.6"/><use href="#n41o" x="247.50" fill="none" stroke="#e0d2d0" stroke-width="1.0" stroke-dasharray="4.2 2.6"/></g>
<clipPath id="cl43"><rect x="499.2" y="1952.5" width="121.6" height="121.6"/></clipPath>
<rect x="499.2" y="1952.5" width="121.6" height="121.6" fill="#07060d" />
<g clip-path="url(#cl43)"><use href="#n40h" x="371.25" fill="#2a3260" opacity="0.75" filter="url(#b5)"/><use href="#n40b" x="371.25" fill="url(#rg43)" filter="url(#nz)"/><use href="#n41h" x="371.25" fill="#2a3260" opacity="0.75" filter="url(#b5)"/><use href="#n41b" x="371.25" fill="url(#rg43)" filter="url(#nz)"/><circle cx="521.2" cy="1982.2" r="6.2" fill="#86e6d4" opacity="0.32" filter="url(#b3)"/><circle cx="524.8" cy="1985.0" r="6.2" fill="#86e6d4" opacity="0.32" filter="url(#b3)"/><circle cx="513.9" cy="1997.5" r="5.7" fill="#86e6d4" opacity="0.32" filter="url(#b3)"/><circle cx="536.5" cy="1987.7" r="3.7" fill="#86e6d4" opacity="0.32" filter="url(#b3)"/><circle cx="520.8" cy="2011.0" r="3.4" fill="#86e6d4" opacity="0.32" filter="url(#b3)"/><circle cx="608.1" cy="2016.9" r="6.2" fill="#86e6d4" opacity="0.32" filter="url(#b3)"/><circle cx="596.6" cy="2025.5" r="6.2" fill="#86e6d4" opacity="0.32" filter="url(#b3)"/><circle cx="598.9" cy="2029.5" r="6.2" fill="#86e6d4" opacity="0.32" filter="url(#b3)"/><circle cx="604.9" cy="2036.0" r="4.7" fill="#86e6d4" opacity="0.32" filter="url(#b3)"/><circle cx="592.9" cy="2050.3" r="4.2" fill="#86e6d4" opacity="0.32" filter="url(#b3)"/><circle cx="521.2" cy="1982.2" r="4.4" fill="#86e6d4" filter="url(#b1)"/><circle cx="521.2" cy="1982.2" r="2.2" fill="#d4fff4" filter="url(#b1)"/><circle cx="524.8" cy="1985.0" r="4.4" fill="#86e6d4" filter="url(#b1)"/><circle cx="524.8" cy="1985.0" r="2.2" fill="#d4fff4" filter="url(#b1)"/><circle cx="513.9" cy="1997.5" r="4.0" fill="#86e6d4" filter="url(#b1)"/><circle cx="513.9" cy="1997.5" r="2.0" fill="#d4fff4" filter="url(#b1)"/><circle cx="536.5" cy="1987.7" r="2.2" fill="#86e6d4" filter="url(#b1)"/><circle cx="520.8" cy="2011.0" r="1.9" fill="#86e6d4" filter="url(#b1)"/><circle cx="608.1" cy="2016.9" r="4.4" fill="#86e6d4" filter="url(#b1)"/><circle cx="608.1" cy="2016.9" r="2.2" fill="#d4fff4" filter="url(#b1)"/><circle cx="596.6" cy="2025.5" r="4.4" fill="#86e6d4" filter="url(#b1)"/><circle cx="596.6" cy="2025.5" r="2.2" fill="#d4fff4" filter="url(#b1)"/><circle cx="598.9" cy="2029.5" r="4.4" fill="#86e6d4" filter="url(#b1)"/><circle cx="598.9" cy="2029.5" r="2.2" fill="#d4fff4" filter="url(#b1)"/><circle cx="604.9" cy="2036.0" r="3.1" fill="#86e6d4" filter="url(#b1)"/><circle cx="604.9" cy="2036.0" r="1.5" fill="#d4fff4" filter="url(#b1)"/><circle cx="592.9" cy="2050.3" r="2.6" fill="#86e6d4" filter="url(#b1)"/><use href="#n40o" x="371.25" fill="none" stroke="#e0d2d0" stroke-width="1.0" stroke-dasharray="4.2 2.6"/><use href="#n41o" x="371.25" fill="none" stroke="#e0d2d0" stroke-width="1.0" stroke-dasharray="4.2 2.6"/></g>
<text x="24.2" y="2144.8" font-size="26" textLength="98.9" lengthAdjust="spacingAndGlyphs" stroke="#000" stroke-width="0.3" >shKRT6A</text>
<clipPath id="cl50"><rect x="128.0" y="2076.4" width="121.6" height="121.6"/></clipPath>
<rect x="128.0" y="2076.4" width="121.6" height="121.6" fill="#080304" />
<g clip-path="url(#cl50)"><use href="#n50b" x="0.00" fill="url(#rg50)" filter="url(#nz)"/><use href="#n51b" x="0.00" fill="url(#rg50)" filter="url(#nz)"/><circle cx="166.2" cy="2102.4" r="2.6" fill="#2a0608" opacity="0.6" filter="url(#b3)"/><circle cx="200.5" cy="2103.2" r="2.8" fill="#2a0608" opacity="0.6" filter="url(#b3)"/><circle cx="189.1" cy="2169.4" r="4.6" fill="#2a0608" opacity="0.6" filter="url(#b3)"/><use href="#n50o" x="0.00" fill="none" stroke="#e0d2d0" stroke-width="1.0" stroke-dasharray="4.2 2.6"/><use href="#n51o" x="0.00" fill="none" stroke="#e0d2d0" stroke-width="1.0" stroke-dasharray="4.2 2.6"/></g>
<clipPath id="cl51"><rect x="251.8" y="2076.4" width="121.6" height="121.6"/></clipPath>
<rect x="251.8" y="2076.4" width="121.6" height="121.6" fill="#030604" />
<g clip-path="url(#cl51)"><use href="#n50h" x="123.75" fill="#0c2a12" opacity="0.4" filter="url(#b5)"/><use href="#n50b" x="123.75" fill="url(#rg51)" filter="url(#nz)"/><use href="#n51h" x="123.75" fill="#0c2a12" opacity="0.4" filter="url(#b5)"/><use href="#n51b" x="123.75" fill="url(#rg51)" filter="url(#nz)"/><circle cx="287.6" cy="2103.8" r="6.7" fill="#62f550" opacity="0.32" filter="url(#b3)"/><circle cx="328.4" cy="2100.0" r="6.2" fill="#62f550" opacity="0.32" filter="url(#b3)"/><circle cx="316.4" cy="2103.8" r="4.2" fill="#62f550" opacity="0.32" filter="url(#b3)"/><circle cx="309.1" cy="2096.4" r="3.4" fill="#62f550" opacity="0.32" filter="url(#b3)"/><circle cx="300.1" cy="2115.8" r="3.4" fill="#62f550" opacity="0.32" filter="url(#b3)"/><circle cx="304.6" cy="2109.8" r="3.2" fill="#62f550" opacity="0.32" filter="url(#b3)"/><circle cx="314.9" cy="2168.0" r="7.2" fill="#62f550" opacity="0.32" filter="url(#b3)"/><circle cx="310.6" cy="2178.4" r="5.7" fill="#62f550" opacity="0.32" filter="url(#b3)"/><circle cx="282.1" cy="2176.0" r="3.2" fill="#62f550" opacity="0.32" filter="url(#b3)"/><circle cx="301.6" cy="2166.4" r="3.7" fill="#62f550" opacity="0.32" filter="url(#b3)"/><circle cx="287.6" cy="2103.8" r="4.8" fill="#62f550" filter="url(#b1)"/><circle cx="287.6" cy="2103.8" r="2.4" fill="#c8ffc0" filter="url(#b1)"/><circle cx="328.4" cy="2100.0" r="4.4" fill="#62f550" filter="url(#b1)"/><circle cx="328.4" cy="2100.0" r="2.2" fill="#c8ffc0" filter="url(#b1)"/><circle cx="316.4" cy="2103.8" r="2.6" fill="#62f550" filter="url(#b1)"/><circle cx="309.1" cy="2096.4" r="1.9" fill="#62f550" filter="url(#b1)"/><circle cx="300.1" cy="2115.8" r="1.9" fill="#62f550" filter="url(#b1)"/><circle cx="304.6" cy="2109.8" r="1.8" fill="#62f550" filter="url(#b1)"/><circle cx="314.9" cy="2168.0" r="5.3" fill="#62f550" filter="url(#b1)"/><circle cx="314.9" cy="2168.0" r="2.6" fill="#c8ffc0" filter="url(#b1)"/><circle cx="310.6" cy="2178.4" r="4.0" fill="#62f550" filter="url(#b1)"/><circle cx="310.6" cy="2178.4" r="2.0" fill="#c8ffc0" filter="url(#b1)"/><circle cx="282.1" cy="2176.0" r="1.8" fill="#62f550" filter="url(#b1)"/><circle cx="301.6" cy="2166.4" r="2.2" fill="#62f550" filter="url(#b1)"/><use href="#n50o" x="123.75" fill="none" stroke="#e0d2d0" stroke-width="1.0" stroke-dasharray="4.2 2.6"/><use href="#n51o" x="123.75" fill="none" stroke="#e0d2d0" stroke-width="1.0" stroke-dasharray="4.2 2.6"/></g>
<clipPath id="cl52"><rect x="375.5" y="2076.4" width="121.6" height="121.6"/></clipPath>
<rect x="375.5" y="2076.4" width="121.6" height="121.6" fill="#06060c" />
<g clip-path="url(#cl52)"><use href="#n50h" x="247.50" fill="#2a3260" opacity="0.75" filter="url(#b5)"/><use href="#n50b" x="247.50" fill="url(#rg52)" filter="url(#nz)"/><use href="#n51h" x="247.50" fill="#2a3260" opacity="0.75" filter="url(#b5)"/><use href="#n51b" x="247.50" fill="url(#rg52)" filter="url(#nz)"/><use href="#n51b" x="247.50" fill="#4a5070" opacity="0.4" filter="url(#b1)"/><use href="#n50o" x="247.50" fill="none" stroke="#e0d2d0" stroke-width="1.0" stroke-dasharray="4.2 2.6"/><use href="#n51o" x="247.50" fill="none" stroke="#e0d2d0" stroke-width="1.0" stroke-dasharray="4.2 2.6"/></g>
<clipPath id="cl53"><rect x="499.2" y="2076.4" width="121.6" height="121.6"/></clipPath>
<rect x="499.2" y="2076.4" width="121.6" height="121.6" fill="#07060d" />
<g clip-path="url(#cl53)"><use href="#n50h" x="371.25" fill="#2a3260" opacity="0.75" filter="url(#b5)"/><use href="#n50b" x="371.25" fill="url(#rg53)" filter="url(#nz)"/><use href="#n51h" x="371.25" fill="#2a3260" opacity="0.75" filter="url(#b5)"/><use href="#n51b" x="371.25" fill="url(#rg53)" filter="url(#nz)"/><circle cx="535.0" cy="2103.8" r="6.7" fill="#86e6d4" opacity="0.32" filter="url(#b3)"/><circle cx="575.9" cy="2100.0" r="6.2" fill="#86e6d4" opacity="0.32" filter="url(#b3)"/><circle cx="564.0" cy="2103.8" r="4.2" fill="#86e6d4" opacity="0.32" filter="url(#b3)"/><circle cx="556.5" cy="2096.4" r="3.4" fill="#86e6d4" opacity="0.32" filter="url(#b3)"/><circle cx="547.5" cy="2115.8" r="3.4" fill="#86e6d4" opacity="0.32" filter="url(#b3)"/><circle cx="552.0" cy="2109.8" r="3.2" fill="#86e6d4" opacity="0.32" filter="url(#b3)"/><circle cx="562.5" cy="2168.0" r="7.2" fill="#86e6d4" opacity="0.32" filter="url(#b3)"/><circle cx="558.0" cy="2178.4" r="5.7" fill="#86e6d4" opacity="0.32" filter="url(#b3)"/><circle cx="529.6" cy="2176.0" r="3.2" fill="#86e6d4" opacity="0.32" filter="url(#b3)"/><circle cx="549.0" cy="2166.4" r="3.7" fill="#86e6d4" opacity="0.32" filter="url(#b3)"/><circle cx="535.0" cy="2103.8" r="4.8" fill="#86e6d4" filter="url(#b1)"/><circle cx="535.0" cy="2103.8" r="2.4" fill="#d4fff4" filter="url(#b1)"/><circle cx="575.9" cy="2100.0" r="4.4" fill="#86e6d4" filter="url(#b1)"/><circle cx="575.9" cy="2100.0" r="2.2" fill="#d4fff4" filter="url(#b1)"/><circle cx="564.0" cy="2103.8" r="2.6" fill="#86e6d4" filter="url(#b1)"/><circle cx="556.5" cy="2096.4" r="1.9" fill="#86e6d4" filter="url(#b1)"/><circle cx="547.5" cy="2115.8" r="1.9" fill="#86e6d4" filter="url(#b1)"/><circle cx="552.0" cy="2109.8" r="1.8" fill="#86e6d4" filter="url(#b1)"/><circle cx="562.5" cy="2168.0" r="5.3" fill="#86e6d4" filter="url(#b1)"/><circle cx="562.5" cy="2168.0" r="2.6" fill="#d4fff4" filter="url(#b1)"/><circle cx="558.0" cy="2178.4" r="4.0" fill="#86e6d4" filter="url(#b1)"/><circle cx="558.0" cy="2178.4" r="2.0" fill="#d4fff4" filter="url(#b1)"/><circle cx="529.6" cy="2176.0" r="1.8" fill="#86e6d4" filter="url(#b1)"/><circle cx="549.0" cy="2166.4" r="2.2" fill="#86e6d4" filter="url(#b1)"/><use href="#n50o" x="371.25" fill="none" stroke="#e0d2d0" stroke-width="1.0" stroke-dasharray="4.2 2.6"/><use href="#n51o" x="371.25" fill="none" stroke="#e0d2d0" stroke-width="1.0" stroke-dasharray="4.2 2.6"/></g></g>
<g id="panelFb"><path d="M761.7 1655.7 V1983.7 H1089.7" fill="none" stroke="#222" stroke-width="1.1" />
<line x1="752.8" y1="1655.7" x2="761.7" y2="1655.7" stroke="#222" stroke-width="1.1" />
<text x="746.5" y="1662.3" font-size="18.6" text-anchor="end" textLength="29.7" lengthAdjust="spacingAndGlyphs" stroke="#000" stroke-width="0.3" >100</text>
<line x1="752.8" y1="1721.3" x2="761.7" y2="1721.3" stroke="#222" stroke-width="1.1" />
<text x="746.5" y="1727.9" font-size="18.6" text-anchor="end" textLength="19.8" lengthAdjust="spacingAndGlyphs" stroke="#000" stroke-width="0.3" >50</text>
<line x1="752.8" y1="1786.9" x2="761.7" y2="1786.9" stroke="#222" stroke-width="1.1" />
<text x="746.5" y="1793.5" font-size="18.6" text-anchor="end" textLength="9.9" lengthAdjust="spacingAndGlyphs" stroke="#000" stroke-width="0.3" >0</text>
<line x1="752.8" y1="1852.5" x2="761.7" y2="1852.5" stroke="#222" stroke-width="1.1" />
<text x="746.5" y="1859.1" font-size="18.6" text-anchor="end" textLength="26.5" lengthAdjust="spacingAndGlyphs" stroke="#000" stroke-width="0.3" >-50</text>
<line x1="752.8" y1="1918.1" x2="761.7" y2="1918.1" stroke="#222" stroke-width="1.1" />
<text x="746.5" y="1924.7" font-size="18.6" text-anchor="end" textLength="36.4" lengthAdjust="spacingAndGlyphs" stroke="#000" stroke-width="0.3" >-100</text>
<line x1="752.8" y1="1983.7" x2="761.7" y2="1983.7" stroke="#222" stroke-width="1.1" />
<text x="746.5" y="1990.3" font-size="18.6" text-anchor="end" textLength="36.4" lengthAdjust="spacingAndGlyphs" stroke="#000" stroke-width="0.3" >-150</text>
<line x1="795.2" y1="1983.7" x2="795.2" y2="1992.8" stroke="#222" stroke-width="1.1" />
<line x1="847.2" y1="1983.7" x2="847.2" y2="1992.8" stroke="#222" stroke-width="1.1" />
<line x1="898.8" y1="1983.7" x2="898.8" y2="1992.8" stroke="#222" stroke-width="1.1" />
<line x1="950.8" y1="1983.7" x2="950.8" y2="1992.8" stroke="#222" stroke-width="1.1" />
<line x1="1002.4" y1="1983.7" x2="1002.4" y2="1992.8" stroke="#222" stroke-width="1.1" />
<line x1="1054.4" y1="1983.7" x2="1054.4" y2="1992.8" stroke="#222" stroke-width="1.1" />
<line x1="761.7" y1="1786.9" x2="1089.7" y2="1786.9" stroke="#111" stroke-width="1.1" stroke-dasharray="2.6 1.5"/>
<path d="M794.1 1670.0 V1660.2 H847.2 V1670.0" fill="none" stroke="#222" stroke-width="1.0" />
<text x="821.1" y="1655.4" font-size="13.5" text-anchor="middle" fill="#222" stroke="#222" stroke-width="0.3" >ns</text>
<path d="M794.1 1642.7 V1632.9 H898.8 V1642.7" fill="none" stroke="#222" stroke-width="1.0" />
<text x="846.3" y="1636.1" font-size="20" text-anchor="middle" fill="#222" textLength="33.0" lengthAdjust="spacingAndGlyphs" stroke="#222" stroke-width="0.3" >****</text>
<path d="M794.1 1615.6 V1605.6 H950.8 V1615.6" fill="none" stroke="#222" stroke-width="1.0" />
<text x="872.4" y="1600.8" font-size="13.5" text-anchor="middle" fill="#222" stroke="#222" stroke-width="0.3" >ns</text>
<path d="M794.1 1588.0 V1578.0 H1002.7 V1588.0" fill="none" stroke="#222" stroke-width="1.0" />
<text x="898.2" y="1573.2" font-size="13.5" text-anchor="middle" fill="#222" stroke="#222" stroke-width="0.3" >ns</text>
<path d="M794.1 1560.4 V1550.3 H1054.7 V1560.4" fill="none" stroke="#222" stroke-width="1.0" />
<text x="924.4" y="1545.5" font-size="13.5" text-anchor="middle" fill="#222" stroke="#222" stroke-width="0.3" >ns</text>
<path d="M795.8 1781.3 V1816.0 M795.8 1849.5 V1900.6 M785.4 1781.3 H804.7 M785.4 1900.6 H804.7 M779.5 1830.8 H812.2" fill="none" stroke="#000000" stroke-width="2.6" />
<rect x="779.5" y="1816.0" width="32.7" height="33.5" fill="none" stroke="#000000" stroke-width="2.6"/>
<circle cx="788.4" cy="1909.5" r="3.2" fill="#000" />
<circle cx="802.7" cy="1912.8" r="3.2" fill="#000" />
<circle cx="795.8" cy="1924.6" r="3.2" fill="#000" />
<path d="M847.8 1792.0 V1826.7 M847.8 1856.4 V1901.8 M838.3 1792.0 H856.7 M838.3 1901.8 H856.7 M831.5 1839.5 H864.1" fill="none" stroke="#e57373" stroke-width="1.9" />
<rect x="831.5" y="1826.7" width="32.7" height="29.7" fill="none" stroke="#e57373" stroke-width="1.9"/>
<circle cx="847.5" cy="1916.0" r="3.2" fill="#e57373" />
<path d="M899.4 1724.0 V1788.1 M899.4 1835.3 V1869.1 M889.3 1724.0 H908.6 M889.3 1869.1 H908.6 M882.8 1816.3 H916.0" fill="none" stroke="#2e8b4e" stroke-width="1.9" />
<rect x="882.8" y="1788.1" width="33.2" height="47.2" fill="none" stroke="#2e8b4e" stroke-width="1.9"/>
<circle cx="899.1" cy="1691.0" r="3.2" fill="#2e8b4e" />
<circle cx="892.6" cy="1711.2" r="3.2" fill="#2e8b4e" />
<circle cx="905.7" cy="1707.4" r="3.2" fill="#2e8b4e" />
<path d="M950.6 1797.0 V1825.5 M950.6 1853.4 V1892.6 M941.3 1797.0 H960.6 M941.3 1892.6 H960.6 M933.9 1837.4 H967.4" fill="none" stroke="#2e4fb5" stroke-width="1.9" />
<rect x="933.9" y="1825.5" width="33.5" height="27.9" fill="none" stroke="#2e4fb5" stroke-width="1.9"/>
<circle cx="944.2" cy="1774.4" r="3.2" fill="#3763c4" />
<circle cx="957.3" cy="1770.3" r="3.2" fill="#3763c4" />
<path d="M1002.9 1799.7 V1829.4 M1002.9 1854.0 V1886.6 M993.2 1799.7 H1012.2 M993.2 1886.6 H1012.2 M985.8 1843.6 H1019.9" fill="none" stroke="#4a1d6e" stroke-width="1.9" />
<rect x="985.8" y="1829.4" width="34.1" height="24.6" fill="none" stroke="#4a1d6e" stroke-width="1.9"/>
<circle cx="1002.7" cy="1780.7" r="3.2" fill="#8b1a55" />
<circle cx="1002.7" cy="1787.8" r="3.2" fill="#8b1a55" />
<circle cx="1002.7" cy="1908.9" r="3.2" fill="#8b1a55" />
<path d="M1054.1 1791.7 V1817.8 M1054.1 1849.8 V1897.3 M1045.2 1791.7 H1063.9 M1045.2 1897.3 H1063.9 M1037.7 1832.3 H1070.4" fill="none" stroke="#d08a2a" stroke-width="1.9" />
<rect x="1037.7" y="1817.8" width="32.7" height="32.1" fill="none" stroke="#d08a2a" stroke-width="1.9"/>
<circle cx="1047.8" cy="1765.2" r="3.2" fill="#8a5a2b" />
<circle cx="1060.9" cy="1761.4" r="3.2" fill="#8a5a2b" />
<text x="809.2" y="2021.0" font-size="24" text-anchor="end" textLength="68.0" lengthAdjust="spacingAndGlyphs" transform="rotate(-45 809.2 2021.0)" stroke="#000" stroke-width="0.3" >shCTR</text>
<text x="858.4" y="2020.0" font-size="24" text-anchor="end" textLength="101.0" lengthAdjust="spacingAndGlyphs" transform="rotate(-45 858.4 2020.0)" stroke="#000" stroke-width="0.3" >shN4BP1</text>
<text x="910.0" y="2019.0" font-size="24" text-anchor="end" textLength="123.0" lengthAdjust="spacingAndGlyphs" transform="rotate(-45 910.0 2019.0)" stroke="#000" stroke-width="0.3" >shMBLAC2</text>
<text x="960.6" y="2020.0" font-size="24" text-anchor="end" textLength="106.0" lengthAdjust="spacingAndGlyphs" transform="rotate(-45 960.6 2020.0)" stroke="#000" stroke-width="0.3" >shWDR47</text>
<text x="1016.4" y="2021.0" font-size="24" text-anchor="end" textLength="80.0" lengthAdjust="spacingAndGlyphs" transform="rotate(-45 1016.4 2021.0)" stroke="#000" stroke-width="0.3" >shKRT5</text>
<text x="1071.9" y="2021.5" font-size="24" text-anchor="end" textLength="95.0" lengthAdjust="spacingAndGlyphs" transform="rotate(-45 1071.9 2021.5)" stroke="#000" stroke-width="0.3" >shKRT6A</text>
<text x="687.4" y="2007.0" font-size="26.8" textLength="374.0" lengthAdjust="spacingAndGlyphs" transform="rotate(-90 687.4 2007.0)" stroke="#000" stroke-width="0.3" >Relative nucleolar EU intensity(AU)</text></g>
<g id="panelG"><rect x="1275.7" y="1626.0" width="37.4" height="354.9" fill="#050405" />
<path d="M1350.4 1936.5 V1931.8 M1341.6 1931.8 H1359.2" fill="none" stroke="#222" stroke-width="1.0" />
<rect x="1331.7" y="1936.5" width="37.4" height="44.4" fill="#e57373" />
<path d="M1406.5 1914.3 V1904.9 M1397.7 1904.9 H1415.3" fill="none" stroke="#222" stroke-width="1.0" />
<rect x="1387.8" y="1914.3" width="37.4" height="66.6" fill="#3a9559" />
<path d="M1462.2 1936.8 V1934.5 M1453.4 1934.5 H1471.0" fill="none" stroke="#222" stroke-width="1.0" />
<rect x="1443.5" y="1936.8" width="37.4" height="44.1" fill="#3d5fb0" />
<path d="M1518.3 1800.9 V1772.5 M1509.5 1772.5 H1527.1" fill="none" stroke="#222" stroke-width="1.0" />
<rect x="1499.6" y="1800.9" width="37.4" height="180.0" fill="#862155" />
<path d="M1574.0 1816.9 V1781.8 M1565.2 1781.8 H1582.8" fill="none" stroke="#222" stroke-width="1.0" />
<rect x="1555.3" y="1816.9" width="37.4" height="164.0" fill="#8a572a" />
<path d="M1257.7 1626 V1980.9 H1612.2" fill="none" stroke="#222" stroke-width="1.1" />
<line x1="1248.0" y1="1626.0" x2="1257.7" y2="1626.0" stroke="#222" stroke-width="1.1" />
<text x="1240.0" y="1633.0" font-size="19.4" text-anchor="end" textLength="25.0" lengthAdjust="spacingAndGlyphs" stroke="#000" stroke-width="0.3" >1.0</text>
<line x1="1248.0" y1="1696.9" x2="1257.7" y2="1696.9" stroke="#222" stroke-width="1.1" />
<text x="1240.0" y="1703.9" font-size="19.4" text-anchor="end" textLength="25.0" lengthAdjust="spacingAndGlyphs" stroke="#000" stroke-width="0.3" >0.8</text>
<line x1="1248.0" y1="1767.8" x2="1257.7" y2="1767.8" stroke="#222" stroke-width="1.1" />
<text x="1240.0" y="1774.8" font-size="19.4" text-anchor="end" textLength="25.0" lengthAdjust="spacingAndGlyphs" stroke="#000" stroke-width="0.3" >0.6</text>
<line x1="1248.0" y1="1838.7" x2="1257.7" y2="1838.7" stroke="#222" stroke-width="1.1" />
<text x="1240.0" y="1845.7" font-size="19.4" text-anchor="end" textLength="25.0" lengthAdjust="spacingAndGlyphs" stroke="#000" stroke-width="0.3" >0.4</text>
<line x1="1248.0" y1="1910.0" x2="1257.7" y2="1910.0" stroke="#222" stroke-width="1.1" />
<text x="1240.0" y="1917.0" font-size="19.4" text-anchor="end" textLength="25.0" lengthAdjust="spacingAndGlyphs" stroke="#000" stroke-width="0.3" >0.2</text>
<line x1="1248.0" y1="1980.9" x2="1257.7" y2="1980.9" stroke="#222" stroke-width="1.1" />
<text x="1240.0" y="1987.9" font-size="19.4" text-anchor="end" textLength="25.0" lengthAdjust="spacingAndGlyphs" stroke="#000" stroke-width="0.3" >0.0</text>
<line x1="1294.4" y1="1980.9" x2="1294.4" y2="1990.4" stroke="#222" stroke-width="1.1" />
<line x1="1350.4" y1="1980.9" x2="1350.4" y2="1990.4" stroke="#222" stroke-width="1.1" />
<line x1="1406.5" y1="1980.9" x2="1406.5" y2="1990.4" stroke="#222" stroke-width="1.1" />
<line x1="1462.2" y1="1980.9" x2="1462.2" y2="1990.4" stroke="#222" stroke-width="1.1" />
<line x1="1518.3" y1="1980.9" x2="1518.3" y2="1990.4" stroke="#222" stroke-width="1.1" />
<line x1="1574.0" y1="1980.9" x2="1574.0" y2="1990.4" stroke="#222" stroke-width="1.1" />
<path d="M1294.4 1616.3 V1606.9 H1350.4 V1616.3" fill="none" stroke="#222" stroke-width="1.0" />
<text x="1322.0" y="1610.5" font-size="20" text-anchor="middle" fill="#222" textLength="33.0" lengthAdjust="spacingAndGlyphs" stroke="#222" stroke-width="0.3" >****</text>
<path d="M1294.4 1587.1 V1577.0 H1406.5 V1587.1" fill="none" stroke="#222" stroke-width="1.0" />
<text x="1350.4" y="1580.6" font-size="20" text-anchor="middle" fill="#222" textLength="33.0" lengthAdjust="spacingAndGlyphs" stroke="#222" stroke-width="0.3" >****</text>
<path d="M1294.4 1557.9 V1547.3 H1462.2 V1557.9" fill="none" stroke="#222" stroke-width="1.0" />
<text x="1378.1" y="1550.9" font-size="20" text-anchor="middle" fill="#222" textLength="33.0" lengthAdjust="spacingAndGlyphs" stroke="#222" stroke-width="0.3" >****</text>
<path d="M1294.4 1527.5 V1517.4 H1518.3 V1527.5" fill="none" stroke="#222" stroke-width="1.0" />
<text x="1406.1" y="1521.0" font-size="20" text-anchor="middle" fill="#222" textLength="16.5" lengthAdjust="spacingAndGlyphs" stroke="#222" stroke-width="0.3" >**</text>
<path d="M1294.4 1497.5 V1487.0 H1574.0 V1497.5" fill="none" stroke="#222" stroke-width="1.0" />
<text x="1433.8" y="1490.6" font-size="20" text-anchor="middle" fill="#222" textLength="16.5" lengthAdjust="spacingAndGlyphs" stroke="#222" stroke-width="0.3" >**</text>
<text x="1314.7" y="2013.8" font-size="25" text-anchor="end" textLength="72.0" lengthAdjust="spacingAndGlyphs" transform="rotate(-45 1314.7 2013.8)" stroke="#000" stroke-width="0.3" >shCTR</text>
<text x="1360.9" y="2016.2" font-size="25" text-anchor="end" textLength="100.0" lengthAdjust="spacingAndGlyphs" transform="rotate(-45 1360.9 2016.2)" stroke="#000" stroke-width="0.3" >shN4BP1</text>
<text x="1421.7" y="2015.0" font-size="25" text-anchor="end" textLength="123.0" lengthAdjust="spacingAndGlyphs" transform="rotate(-45 1421.7 2015.0)" stroke="#000" stroke-width="0.3" >shMBLAC2</text>
<text x="1475.0" y="2011.5" font-size="25" text-anchor="end" textLength="105.0" lengthAdjust="spacingAndGlyphs" transform="rotate(-45 1475.0 2011.5)" stroke="#000" stroke-width="0.3" >shWDR47</text>
<text x="1530.0" y="2013.8" font-size="25" text-anchor="end" textLength="82.0" lengthAdjust="spacingAndGlyphs" transform="rotate(-45 1530.0 2013.8)" stroke="#000" stroke-width="0.3" >shKRT5</text>
<text x="1589.2" y="2013.8" font-size="25" text-anchor="end" textLength="103.0" lengthAdjust="spacingAndGlyphs" transform="rotate(-45 1589.2 2013.8)" stroke="#000" stroke-width="0.3" >shKRT6A</text>
<text x="1192.3" y="1897.5" font-size="27" textLength="202.0" lengthAdjust="spacingAndGlyphs" transform="rotate(-90 1192.3 1897.5)" stroke="#000" stroke-width="0.3" >mRNA fold change</text></g>
</svg>
</body></html>
